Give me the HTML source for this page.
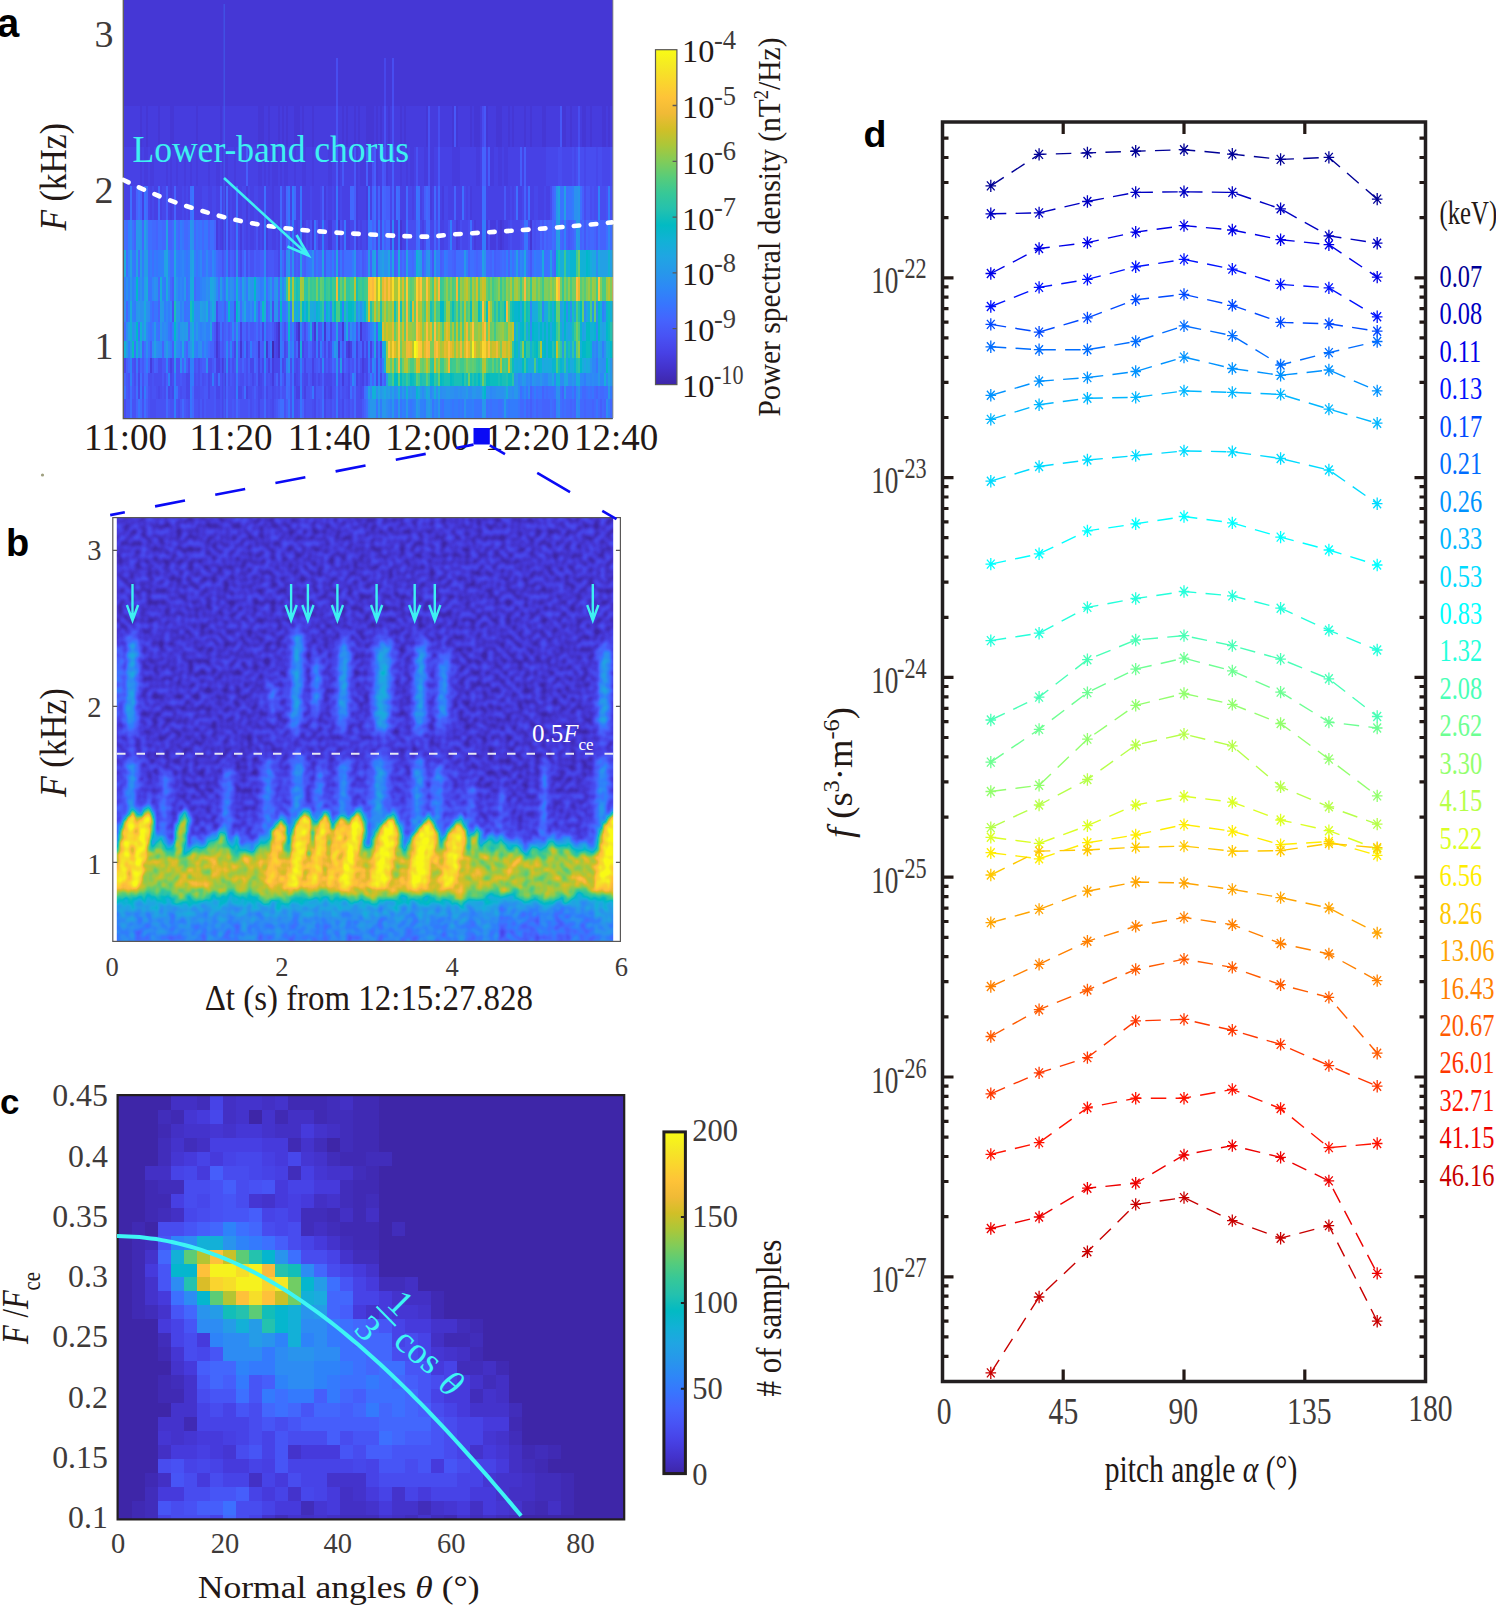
<!DOCTYPE html>
<html><head><meta charset="utf-8"><style>
html,body{margin:0;padding:0;background:#fff;}
body{width:1496px;height:1605px;overflow:hidden;position:relative;}
svg{position:absolute;left:0;top:0;}
</style></head><body>
<svg width="1496" height="1605" viewBox="0 0 1496 1605">
<defs><g id="ast"><path d="M0,-6.2V6.2M-5.3,0H5.3M-3.9,-4.5L3.9,4.5M-3.9,4.5L3.9,-4.5"/></g></defs>
<polyline points="990.8,185.9 1039.1,154.4 1087.4,152.9 1135.7,151.2 1184.0,149.7 1232.3,154.1 1280.6,159.4 1328.9,157.4 1377.2,199.1" fill="none" stroke="#000096" stroke-width="1.4" stroke-dasharray="15.5 9.3"/>
<g stroke="#000096" stroke-width="1.3" fill="none"><use href="#ast" x="990.8" y="185.9"/><use href="#ast" x="1039.1" y="154.4"/><use href="#ast" x="1087.4" y="152.9"/><use href="#ast" x="1135.7" y="151.2"/><use href="#ast" x="1184.0" y="149.7"/><use href="#ast" x="1232.3" y="154.1"/><use href="#ast" x="1280.6" y="159.4"/><use href="#ast" x="1328.9" y="157.4"/><use href="#ast" x="1377.2" y="199.1"/></g>
<polyline points="990.8,213.8 1039.1,212.9 1087.4,201.5 1135.7,192.4 1184.0,191.8 1232.3,192.4 1280.6,208.8 1328.9,235.9 1377.2,243.2" fill="none" stroke="#0000c2" stroke-width="1.4" stroke-dasharray="15.5 9.3"/>
<g stroke="#0000c2" stroke-width="1.3" fill="none"><use href="#ast" x="990.8" y="213.8"/><use href="#ast" x="1039.1" y="212.9"/><use href="#ast" x="1087.4" y="201.5"/><use href="#ast" x="1135.7" y="192.4"/><use href="#ast" x="1184.0" y="191.8"/><use href="#ast" x="1232.3" y="192.4"/><use href="#ast" x="1280.6" y="208.8"/><use href="#ast" x="1328.9" y="235.9"/><use href="#ast" x="1377.2" y="243.2"/></g>
<polyline points="990.8,273.5 1039.1,248.5 1087.4,242.6 1135.7,232.1 1184.0,225.6 1232.3,230.0 1280.6,239.7 1328.9,244.7 1377.2,277.1" fill="none" stroke="#0000e8" stroke-width="1.4" stroke-dasharray="15.5 9.3"/>
<g stroke="#0000e8" stroke-width="1.3" fill="none"><use href="#ast" x="990.8" y="273.5"/><use href="#ast" x="1039.1" y="248.5"/><use href="#ast" x="1087.4" y="242.6"/><use href="#ast" x="1135.7" y="232.1"/><use href="#ast" x="1184.0" y="225.6"/><use href="#ast" x="1232.3" y="230.0"/><use href="#ast" x="1280.6" y="239.7"/><use href="#ast" x="1328.9" y="244.7"/><use href="#ast" x="1377.2" y="277.1"/></g>
<polyline points="990.8,306.5 1039.1,287.4 1087.4,279.4 1135.7,266.8 1184.0,259.4 1232.3,269.1 1280.6,284.4 1328.9,287.9 1377.2,316.8" fill="none" stroke="#0012ff" stroke-width="1.4" stroke-dasharray="15.5 9.3"/>
<g stroke="#0012ff" stroke-width="1.3" fill="none"><use href="#ast" x="990.8" y="306.5"/><use href="#ast" x="1039.1" y="287.4"/><use href="#ast" x="1087.4" y="279.4"/><use href="#ast" x="1135.7" y="266.8"/><use href="#ast" x="1184.0" y="259.4"/><use href="#ast" x="1232.3" y="269.1"/><use href="#ast" x="1280.6" y="284.4"/><use href="#ast" x="1328.9" y="287.9"/><use href="#ast" x="1377.2" y="316.8"/></g>
<polyline points="990.8,324.4 1039.1,332.1 1087.4,317.9 1135.7,299.7 1184.0,294.4 1232.3,305.3 1280.6,322.4 1328.9,323.8 1377.2,331.2" fill="none" stroke="#0049ff" stroke-width="1.4" stroke-dasharray="15.5 9.3"/>
<g stroke="#0049ff" stroke-width="1.3" fill="none"><use href="#ast" x="990.8" y="324.4"/><use href="#ast" x="1039.1" y="332.1"/><use href="#ast" x="1087.4" y="317.9"/><use href="#ast" x="1135.7" y="299.7"/><use href="#ast" x="1184.0" y="294.4"/><use href="#ast" x="1232.3" y="305.3"/><use href="#ast" x="1280.6" y="322.4"/><use href="#ast" x="1328.9" y="323.8"/><use href="#ast" x="1377.2" y="331.2"/></g>
<polyline points="990.8,346.8 1039.1,349.7 1087.4,349.7 1135.7,341.5 1184.0,325.9 1232.3,335.6 1280.6,365.0 1328.9,352.6 1377.2,341.5" fill="none" stroke="#006dff" stroke-width="1.4" stroke-dasharray="15.5 9.3"/>
<g stroke="#006dff" stroke-width="1.3" fill="none"><use href="#ast" x="990.8" y="346.8"/><use href="#ast" x="1039.1" y="349.7"/><use href="#ast" x="1087.4" y="349.7"/><use href="#ast" x="1135.7" y="341.5"/><use href="#ast" x="1184.0" y="325.9"/><use href="#ast" x="1232.3" y="335.6"/><use href="#ast" x="1280.6" y="365.0"/><use href="#ast" x="1328.9" y="352.6"/><use href="#ast" x="1377.2" y="341.5"/></g>
<polyline points="990.8,395.3 1039.1,381.2 1087.4,377.6 1135.7,371.5 1184.0,357.1 1232.3,368.5 1280.6,375.3 1328.9,370.0 1377.2,390.9" fill="none" stroke="#0092ff" stroke-width="1.4" stroke-dasharray="15.5 9.3"/>
<g stroke="#0092ff" stroke-width="1.3" fill="none"><use href="#ast" x="990.8" y="395.3"/><use href="#ast" x="1039.1" y="381.2"/><use href="#ast" x="1087.4" y="377.6"/><use href="#ast" x="1135.7" y="371.5"/><use href="#ast" x="1184.0" y="357.1"/><use href="#ast" x="1232.3" y="368.5"/><use href="#ast" x="1280.6" y="375.3"/><use href="#ast" x="1328.9" y="370.0"/><use href="#ast" x="1377.2" y="390.9"/></g>
<polyline points="990.8,419.4 1039.1,404.7 1087.4,398.2 1135.7,397.4 1184.0,390.9 1232.3,392.4 1280.6,394.4 1328.9,409.1 1377.2,423.2" fill="none" stroke="#00b6ff" stroke-width="1.4" stroke-dasharray="15.5 9.3"/>
<g stroke="#00b6ff" stroke-width="1.3" fill="none"><use href="#ast" x="990.8" y="419.4"/><use href="#ast" x="1039.1" y="404.7"/><use href="#ast" x="1087.4" y="398.2"/><use href="#ast" x="1135.7" y="397.4"/><use href="#ast" x="1184.0" y="390.9"/><use href="#ast" x="1232.3" y="392.4"/><use href="#ast" x="1280.6" y="394.4"/><use href="#ast" x="1328.9" y="409.1"/><use href="#ast" x="1377.2" y="423.2"/></g>
<polyline points="990.8,481.2 1039.1,466.5 1087.4,460.0 1135.7,455.6 1184.0,450.9 1232.3,451.8 1280.6,458.5 1328.9,470.0 1377.2,503.7" fill="none" stroke="#00dbff" stroke-width="1.4" stroke-dasharray="15.5 9.3"/>
<g stroke="#00dbff" stroke-width="1.3" fill="none"><use href="#ast" x="990.8" y="481.2"/><use href="#ast" x="1039.1" y="466.5"/><use href="#ast" x="1087.4" y="460.0"/><use href="#ast" x="1135.7" y="455.6"/><use href="#ast" x="1184.0" y="450.9"/><use href="#ast" x="1232.3" y="451.8"/><use href="#ast" x="1280.6" y="458.5"/><use href="#ast" x="1328.9" y="470.0"/><use href="#ast" x="1377.2" y="503.7"/></g>
<polyline points="990.8,564.1 1039.1,553.8 1087.4,530.9 1135.7,523.8 1184.0,516.5 1232.3,522.9 1280.6,537.1 1328.9,550.0 1377.2,565.0" fill="none" stroke="#00ffff" stroke-width="1.4" stroke-dasharray="15.5 9.3"/>
<g stroke="#00ffff" stroke-width="1.3" fill="none"><use href="#ast" x="990.8" y="564.1"/><use href="#ast" x="1039.1" y="553.8"/><use href="#ast" x="1087.4" y="530.9"/><use href="#ast" x="1135.7" y="523.8"/><use href="#ast" x="1184.0" y="516.5"/><use href="#ast" x="1232.3" y="522.9"/><use href="#ast" x="1280.6" y="537.1"/><use href="#ast" x="1328.9" y="550.0"/><use href="#ast" x="1377.2" y="565.0"/></g>
<polyline points="990.8,640.6 1039.1,633.2 1087.4,607.4 1135.7,598.5 1184.0,591.5 1232.3,595.9 1280.6,608.2 1328.9,630.3 1377.2,650.0" fill="none" stroke="#24ffdb" stroke-width="1.4" stroke-dasharray="15.5 9.3"/>
<g stroke="#24ffdb" stroke-width="1.3" fill="none"><use href="#ast" x="990.8" y="640.6"/><use href="#ast" x="1039.1" y="633.2"/><use href="#ast" x="1087.4" y="607.4"/><use href="#ast" x="1135.7" y="598.5"/><use href="#ast" x="1184.0" y="591.5"/><use href="#ast" x="1232.3" y="595.9"/><use href="#ast" x="1280.6" y="608.2"/><use href="#ast" x="1328.9" y="630.3"/><use href="#ast" x="1377.2" y="650.0"/></g>
<polyline points="990.8,720.0 1039.1,697.1 1087.4,659.7 1135.7,640.0 1184.0,635.6 1232.3,645.6 1280.6,659.1 1328.9,678.8 1377.2,716.5" fill="none" stroke="#49ffb6" stroke-width="1.4" stroke-dasharray="15.5 9.3"/>
<g stroke="#49ffb6" stroke-width="1.3" fill="none"><use href="#ast" x="990.8" y="720.0"/><use href="#ast" x="1039.1" y="697.1"/><use href="#ast" x="1087.4" y="659.7"/><use href="#ast" x="1135.7" y="640.0"/><use href="#ast" x="1184.0" y="635.6"/><use href="#ast" x="1232.3" y="645.6"/><use href="#ast" x="1280.6" y="659.1"/><use href="#ast" x="1328.9" y="678.8"/><use href="#ast" x="1377.2" y="716.5"/></g>
<polyline points="990.8,762.1 1039.1,729.4 1087.4,692.6 1135.7,669.1 1184.0,658.2 1232.3,670.9 1280.6,692.1 1328.9,722.1 1377.2,728.0" fill="none" stroke="#6dff92" stroke-width="1.4" stroke-dasharray="15.5 9.3"/>
<g stroke="#6dff92" stroke-width="1.3" fill="none"><use href="#ast" x="990.8" y="762.1"/><use href="#ast" x="1039.1" y="729.4"/><use href="#ast" x="1087.4" y="692.6"/><use href="#ast" x="1135.7" y="669.1"/><use href="#ast" x="1184.0" y="658.2"/><use href="#ast" x="1232.3" y="670.9"/><use href="#ast" x="1280.6" y="692.1"/><use href="#ast" x="1328.9" y="722.1"/><use href="#ast" x="1377.2" y="728.0"/></g>
<polyline points="990.8,791.5 1039.1,785.3 1087.4,739.1 1135.7,705.3 1184.0,693.5 1232.3,704.4 1280.6,723.5 1328.9,759.1 1377.2,795.9" fill="none" stroke="#92ff6d" stroke-width="1.4" stroke-dasharray="15.5 9.3"/>
<g stroke="#92ff6d" stroke-width="1.3" fill="none"><use href="#ast" x="990.8" y="791.5"/><use href="#ast" x="1039.1" y="785.3"/><use href="#ast" x="1087.4" y="739.1"/><use href="#ast" x="1135.7" y="705.3"/><use href="#ast" x="1184.0" y="693.5"/><use href="#ast" x="1232.3" y="704.4"/><use href="#ast" x="1280.6" y="723.5"/><use href="#ast" x="1328.9" y="759.1"/><use href="#ast" x="1377.2" y="795.9"/></g>
<polyline points="990.8,827.6 1039.1,805.0 1087.4,779.5 1135.7,745.0 1184.0,734.1 1232.3,745.9 1280.6,786.8 1328.9,806.8 1377.2,824.1" fill="none" stroke="#b6ff49" stroke-width="1.4" stroke-dasharray="15.5 9.3"/>
<g stroke="#b6ff49" stroke-width="1.3" fill="none"><use href="#ast" x="990.8" y="827.6"/><use href="#ast" x="1039.1" y="805.0"/><use href="#ast" x="1087.4" y="779.5"/><use href="#ast" x="1135.7" y="745.0"/><use href="#ast" x="1184.0" y="734.1"/><use href="#ast" x="1232.3" y="745.9"/><use href="#ast" x="1280.6" y="786.8"/><use href="#ast" x="1328.9" y="806.8"/><use href="#ast" x="1377.2" y="824.1"/></g>
<polyline points="990.8,837.3 1039.1,843.4 1087.4,825.7 1135.7,805.0 1184.0,796.2 1232.3,802.2 1280.6,820.0 1328.9,830.7 1377.2,849.0" fill="none" stroke="#dbff24" stroke-width="1.4" stroke-dasharray="15.5 9.3"/>
<g stroke="#dbff24" stroke-width="1.3" fill="none"><use href="#ast" x="990.8" y="837.3"/><use href="#ast" x="1039.1" y="843.4"/><use href="#ast" x="1087.4" y="825.7"/><use href="#ast" x="1135.7" y="805.0"/><use href="#ast" x="1184.0" y="796.2"/><use href="#ast" x="1232.3" y="802.2"/><use href="#ast" x="1280.6" y="820.0"/><use href="#ast" x="1328.9" y="830.7"/><use href="#ast" x="1377.2" y="849.0"/></g>
<polyline points="990.8,852.7 1039.1,858.8 1087.4,842.7 1135.7,835.0 1184.0,824.6 1232.3,831.2 1280.6,844.6 1328.9,841.5 1377.2,855.3" fill="none" stroke="#ffed00" stroke-width="1.4" stroke-dasharray="15.5 9.3"/>
<g stroke="#ffed00" stroke-width="1.3" fill="none"><use href="#ast" x="990.8" y="852.7"/><use href="#ast" x="1039.1" y="858.8"/><use href="#ast" x="1087.4" y="842.7"/><use href="#ast" x="1135.7" y="835.0"/><use href="#ast" x="1184.0" y="824.6"/><use href="#ast" x="1232.3" y="831.2"/><use href="#ast" x="1280.6" y="844.6"/><use href="#ast" x="1328.9" y="841.5"/><use href="#ast" x="1377.2" y="855.3"/></g>
<polyline points="990.8,875.0 1039.1,851.1 1087.4,850.0 1135.7,847.3 1184.0,846.1 1232.3,851.2 1280.6,850.7 1328.9,843.5 1377.2,847.7" fill="none" stroke="#ffc800" stroke-width="1.4" stroke-dasharray="15.5 9.3"/>
<g stroke="#ffc800" stroke-width="1.3" fill="none"><use href="#ast" x="990.8" y="875.0"/><use href="#ast" x="1039.1" y="851.1"/><use href="#ast" x="1087.4" y="850.0"/><use href="#ast" x="1135.7" y="847.3"/><use href="#ast" x="1184.0" y="846.1"/><use href="#ast" x="1232.3" y="851.2"/><use href="#ast" x="1280.6" y="850.7"/><use href="#ast" x="1328.9" y="843.5"/><use href="#ast" x="1377.2" y="847.7"/></g>
<polyline points="990.8,922.6 1039.1,909.4 1087.4,891.2 1135.7,882.0 1184.0,883.0 1232.3,889.4 1280.6,897.6 1328.9,908.0 1377.2,933.0" fill="none" stroke="#ffa400" stroke-width="1.4" stroke-dasharray="15.5 9.3"/>
<g stroke="#ffa400" stroke-width="1.3" fill="none"><use href="#ast" x="990.8" y="922.6"/><use href="#ast" x="1039.1" y="909.4"/><use href="#ast" x="1087.4" y="891.2"/><use href="#ast" x="1135.7" y="882.0"/><use href="#ast" x="1184.0" y="883.0"/><use href="#ast" x="1232.3" y="889.4"/><use href="#ast" x="1280.6" y="897.6"/><use href="#ast" x="1328.9" y="908.0"/><use href="#ast" x="1377.2" y="933.0"/></g>
<polyline points="990.8,986.5 1039.1,964.4 1087.4,941.3 1135.7,926.2 1184.0,917.4 1232.3,924.7 1280.6,943.5 1328.9,954.0 1377.2,980.6" fill="none" stroke="#ff8000" stroke-width="1.4" stroke-dasharray="15.5 9.3"/>
<g stroke="#ff8000" stroke-width="1.3" fill="none"><use href="#ast" x="990.8" y="986.5"/><use href="#ast" x="1039.1" y="964.4"/><use href="#ast" x="1087.4" y="941.3"/><use href="#ast" x="1135.7" y="926.2"/><use href="#ast" x="1184.0" y="917.4"/><use href="#ast" x="1232.3" y="924.7"/><use href="#ast" x="1280.6" y="943.5"/><use href="#ast" x="1328.9" y="954.0"/><use href="#ast" x="1377.2" y="980.6"/></g>
<polyline points="990.8,1036.5 1039.1,1009.7 1087.4,990.0 1135.7,969.4 1184.0,959.1 1232.3,967.4 1280.6,984.7 1328.9,997.4 1377.2,1053.2" fill="none" stroke="#ff5b00" stroke-width="1.4" stroke-dasharray="15.5 9.3"/>
<g stroke="#ff5b00" stroke-width="1.3" fill="none"><use href="#ast" x="990.8" y="1036.5"/><use href="#ast" x="1039.1" y="1009.7"/><use href="#ast" x="1087.4" y="990.0"/><use href="#ast" x="1135.7" y="969.4"/><use href="#ast" x="1184.0" y="959.1"/><use href="#ast" x="1232.3" y="967.4"/><use href="#ast" x="1280.6" y="984.7"/><use href="#ast" x="1328.9" y="997.4"/><use href="#ast" x="1377.2" y="1053.2"/></g>
<polyline points="990.8,1093.8 1039.1,1072.9 1087.4,1057.6 1135.7,1020.9 1184.0,1019.4 1232.3,1030.3 1280.6,1044.4 1328.9,1065.6 1377.2,1086.2" fill="none" stroke="#ff3700" stroke-width="1.4" stroke-dasharray="15.5 9.3"/>
<g stroke="#ff3700" stroke-width="1.3" fill="none"><use href="#ast" x="990.8" y="1093.8"/><use href="#ast" x="1039.1" y="1072.9"/><use href="#ast" x="1087.4" y="1057.6"/><use href="#ast" x="1135.7" y="1020.9"/><use href="#ast" x="1184.0" y="1019.4"/><use href="#ast" x="1232.3" y="1030.3"/><use href="#ast" x="1280.6" y="1044.4"/><use href="#ast" x="1328.9" y="1065.6"/><use href="#ast" x="1377.2" y="1086.2"/></g>
<polyline points="990.8,1154.4 1039.1,1142.6 1087.4,1107.8 1135.7,1098.2 1184.0,1098.2 1232.3,1089.4 1280.6,1108.5 1328.9,1147.6 1377.2,1143.5" fill="none" stroke="#ff1200" stroke-width="1.4" stroke-dasharray="15.5 9.3"/>
<g stroke="#ff1200" stroke-width="1.3" fill="none"><use href="#ast" x="990.8" y="1154.4"/><use href="#ast" x="1039.1" y="1142.6"/><use href="#ast" x="1087.4" y="1107.8"/><use href="#ast" x="1135.7" y="1098.2"/><use href="#ast" x="1184.0" y="1098.2"/><use href="#ast" x="1232.3" y="1089.4"/><use href="#ast" x="1280.6" y="1108.5"/><use href="#ast" x="1328.9" y="1147.6"/><use href="#ast" x="1377.2" y="1143.5"/></g>
<polyline points="990.8,1228.5 1039.1,1217.0 1087.4,1188.2 1135.7,1183.2 1184.0,1155.0 1232.3,1145.6 1280.6,1157.4 1328.9,1180.9 1377.2,1273.4" fill="none" stroke="#ed0000" stroke-width="1.4" stroke-dasharray="15.5 9.3"/>
<g stroke="#ed0000" stroke-width="1.3" fill="none"><use href="#ast" x="990.8" y="1228.5"/><use href="#ast" x="1039.1" y="1217.0"/><use href="#ast" x="1087.4" y="1188.2"/><use href="#ast" x="1135.7" y="1183.2"/><use href="#ast" x="1184.0" y="1155.0"/><use href="#ast" x="1232.3" y="1145.6"/><use href="#ast" x="1280.6" y="1157.4"/><use href="#ast" x="1328.9" y="1180.9"/><use href="#ast" x="1377.2" y="1273.4"/></g>
<polyline points="990.8,1372.9 1039.1,1297.0 1087.4,1251.7 1135.7,1204.4 1184.0,1197.6 1232.3,1220.6 1280.6,1238.2 1328.9,1225.6 1377.2,1321.2" fill="none" stroke="#c80000" stroke-width="1.4" stroke-dasharray="15.5 9.3"/>
<g stroke="#c80000" stroke-width="1.3" fill="none"><use href="#ast" x="990.8" y="1372.9"/><use href="#ast" x="1039.1" y="1297.0"/><use href="#ast" x="1087.4" y="1251.7"/><use href="#ast" x="1135.7" y="1204.4"/><use href="#ast" x="1184.0" y="1197.6"/><use href="#ast" x="1232.3" y="1220.6"/><use href="#ast" x="1280.6" y="1238.2"/><use href="#ast" x="1328.9" y="1225.6"/><use href="#ast" x="1377.2" y="1321.2"/></g>
<path d="M942.5,277.8h11M1425.5,277.8h-11M942.5,217.7h6M1425.5,217.7h-6M942.5,182.5h6M1425.5,182.5h-6M942.5,157.5h6M1425.5,157.5h-6M942.5,138.1h6M1425.5,138.1h-6M942.5,477.6h11M1425.5,477.6h-11M942.5,417.5h6M1425.5,417.5h-6M942.5,382.3h6M1425.5,382.3h-6M942.5,357.3h6M1425.5,357.3h-6M942.5,337.9h6M1425.5,337.9h-6M942.5,322.1h6M1425.5,322.1h-6M942.5,308.7h6M1425.5,308.7h-6M942.5,297.2h6M1425.5,297.2h-6M942.5,286.9h6M1425.5,286.9h-6M942.5,677.4h11M1425.5,677.4h-11M942.5,617.3h6M1425.5,617.3h-6M942.5,582.1h6M1425.5,582.1h-6M942.5,557.1h6M1425.5,557.1h-6M942.5,537.7h6M1425.5,537.7h-6M942.5,521.9h6M1425.5,521.9h-6M942.5,508.5h6M1425.5,508.5h-6M942.5,497.0h6M1425.5,497.0h-6M942.5,486.7h6M1425.5,486.7h-6M942.5,877.2h11M1425.5,877.2h-11M942.5,817.1h6M1425.5,817.1h-6M942.5,781.9h6M1425.5,781.9h-6M942.5,756.9h6M1425.5,756.9h-6M942.5,737.5h6M1425.5,737.5h-6M942.5,721.7h6M1425.5,721.7h-6M942.5,708.3h6M1425.5,708.3h-6M942.5,696.8h6M1425.5,696.8h-6M942.5,686.5h6M1425.5,686.5h-6M942.5,1077.0h11M1425.5,1077.0h-11M942.5,1016.9h6M1425.5,1016.9h-6M942.5,981.7h6M1425.5,981.7h-6M942.5,956.7h6M1425.5,956.7h-6M942.5,937.3h6M1425.5,937.3h-6M942.5,921.5h6M1425.5,921.5h-6M942.5,908.1h6M1425.5,908.1h-6M942.5,896.6h6M1425.5,896.6h-6M942.5,886.3h6M1425.5,886.3h-6M942.5,1276.8h11M1425.5,1276.8h-11M942.5,1216.7h6M1425.5,1216.7h-6M942.5,1181.5h6M1425.5,1181.5h-6M942.5,1156.5h6M1425.5,1156.5h-6M942.5,1137.1h6M1425.5,1137.1h-6M942.5,1121.3h6M1425.5,1121.3h-6M942.5,1107.9h6M1425.5,1107.9h-6M942.5,1096.4h6M1425.5,1096.4h-6M942.5,1086.1h6M1425.5,1086.1h-6M942.5,1356.3h6M1425.5,1356.3h-6M942.5,1336.9h6M1425.5,1336.9h-6M942.5,1321.1h6M1425.5,1321.1h-6M942.5,1307.7h6M1425.5,1307.7h-6M942.5,1296.2h6M1425.5,1296.2h-6M942.5,1285.9h6M1425.5,1285.9h-6M1063.2,122.0v12M1063.2,1381.5v-12M1184.0,122.0v12M1184.0,1381.5v-12M1304.8,122.0v12M1304.8,1381.5v-12" stroke="#231815" stroke-width="3.2" fill="none"/>
<rect x="942.5" y="122.0" width="483.0" height="1259.5" fill="none" stroke="#231f20" stroke-width="3.5"/>
<text transform="translate(898.5,293.3) scale(0.74,1)" font-family="Liberation Serif" font-size="37" fill="#3e3a39" text-anchor="end">10</text>
<text transform="translate(897,278.3) scale(0.74,1)" font-family="Liberation Serif" font-size="30" fill="#3e3a39">-22</text>
<text transform="translate(898.5,493.1) scale(0.74,1)" font-family="Liberation Serif" font-size="37" fill="#3e3a39" text-anchor="end">10</text>
<text transform="translate(897,478.1) scale(0.74,1)" font-family="Liberation Serif" font-size="30" fill="#3e3a39">-23</text>
<text transform="translate(898.5,692.9) scale(0.74,1)" font-family="Liberation Serif" font-size="37" fill="#3e3a39" text-anchor="end">10</text>
<text transform="translate(897,677.9) scale(0.74,1)" font-family="Liberation Serif" font-size="30" fill="#3e3a39">-24</text>
<text transform="translate(898.5,892.7) scale(0.74,1)" font-family="Liberation Serif" font-size="37" fill="#3e3a39" text-anchor="end">10</text>
<text transform="translate(897,877.7) scale(0.74,1)" font-family="Liberation Serif" font-size="30" fill="#3e3a39">-25</text>
<text transform="translate(898.5,1092.5) scale(0.74,1)" font-family="Liberation Serif" font-size="37" fill="#3e3a39" text-anchor="end">10</text>
<text transform="translate(897,1077.5) scale(0.74,1)" font-family="Liberation Serif" font-size="30" fill="#3e3a39">-26</text>
<text transform="translate(898.5,1292.3) scale(0.74,1)" font-family="Liberation Serif" font-size="37" fill="#3e3a39" text-anchor="end">10</text>
<text transform="translate(897,1277.3) scale(0.74,1)" font-family="Liberation Serif" font-size="30" fill="#3e3a39">-27</text>
<text transform="translate(944.2,1424) scale(0.78,1)" font-family="Liberation Serif" font-size="38" fill="#3e3a39" text-anchor="middle">0</text>
<text transform="translate(1063.4,1424) scale(0.78,1)" font-family="Liberation Serif" font-size="38" fill="#3e3a39" text-anchor="middle">45</text>
<text transform="translate(1183.2,1424) scale(0.78,1)" font-family="Liberation Serif" font-size="38" fill="#3e3a39" text-anchor="middle">90</text>
<text transform="translate(1309.3,1423.7) scale(0.78,1)" font-family="Liberation Serif" font-size="38" fill="#3e3a39" text-anchor="middle">135</text>
<text transform="translate(1430.4,1421) scale(0.78,1)" font-family="Liberation Serif" font-size="38" fill="#3e3a39" text-anchor="middle">180</text>
<text transform="translate(1201,1482.3) scale(0.8,1)" font-family="Liberation Serif" font-size="37" fill="#231815" text-anchor="middle">pitch angle <tspan font-style="italic">α</tspan> (°)</text>
<text transform="translate(852,772.6) rotate(-90)" font-family="Liberation Serif" font-size="36" fill="#231815" text-anchor="middle" textLength="131" lengthAdjust="spacingAndGlyphs"><tspan font-style="italic">f</tspan> (s<tspan font-size="24" dy="-13">3</tspan><tspan dy="13">·m</tspan><tspan font-size="24" dy="-13">-6</tspan><tspan dy="13">)</tspan></text>
<text transform="translate(1439.5,224.4) scale(0.75,1)" font-family="Liberation Serif" font-size="33" fill="#231815">(keV)</text>
<text transform="translate(1439.5,286.9) scale(0.75,1)" font-family="Liberation Serif" font-size="32.5" fill="#000096">0.07</text>
<text transform="translate(1439.5,324.3) scale(0.75,1)" font-family="Liberation Serif" font-size="32.5" fill="#0000c2">0.08</text>
<text transform="translate(1439.5,361.8) scale(0.75,1)" font-family="Liberation Serif" font-size="32.5" fill="#0000e8">0.11</text>
<text transform="translate(1439.5,399.2) scale(0.75,1)" font-family="Liberation Serif" font-size="32.5" fill="#0012ff">0.13</text>
<text transform="translate(1439.5,436.7) scale(0.75,1)" font-family="Liberation Serif" font-size="32.5" fill="#0049ff">0.17</text>
<text transform="translate(1439.5,474.1) scale(0.75,1)" font-family="Liberation Serif" font-size="32.5" fill="#006dff">0.21</text>
<text transform="translate(1439.5,511.6) scale(0.75,1)" font-family="Liberation Serif" font-size="32.5" fill="#0092ff">0.26</text>
<text transform="translate(1439.5,549.0) scale(0.75,1)" font-family="Liberation Serif" font-size="32.5" fill="#00b6ff">0.33</text>
<text transform="translate(1439.5,586.5) scale(0.75,1)" font-family="Liberation Serif" font-size="32.5" fill="#00dbff">0.53</text>
<text transform="translate(1439.5,624.0) scale(0.75,1)" font-family="Liberation Serif" font-size="32.5" fill="#00ffff">0.83</text>
<text transform="translate(1439.5,661.4) scale(0.75,1)" font-family="Liberation Serif" font-size="32.5" fill="#24ffdb">1.32</text>
<text transform="translate(1439.5,698.9) scale(0.75,1)" font-family="Liberation Serif" font-size="32.5" fill="#49ffb6">2.08</text>
<text transform="translate(1439.5,736.3) scale(0.75,1)" font-family="Liberation Serif" font-size="32.5" fill="#6dff92">2.62</text>
<text transform="translate(1439.5,773.8) scale(0.75,1)" font-family="Liberation Serif" font-size="32.5" fill="#92ff6d">3.30</text>
<text transform="translate(1439.5,811.2) scale(0.75,1)" font-family="Liberation Serif" font-size="32.5" fill="#b6ff49">4.15</text>
<text transform="translate(1439.5,848.6) scale(0.75,1)" font-family="Liberation Serif" font-size="32.5" fill="#dbff24">5.22</text>
<text transform="translate(1439.5,886.1) scale(0.75,1)" font-family="Liberation Serif" font-size="32.5" fill="#ffed00">6.56</text>
<text transform="translate(1439.5,923.6) scale(0.75,1)" font-family="Liberation Serif" font-size="32.5" fill="#ffc800">8.26</text>
<text transform="translate(1439.5,961.0) scale(0.75,1)" font-family="Liberation Serif" font-size="32.5" fill="#ffa400">13.06</text>
<text transform="translate(1439.5,998.5) scale(0.75,1)" font-family="Liberation Serif" font-size="32.5" fill="#ff8000">16.43</text>
<text transform="translate(1439.5,1035.9) scale(0.75,1)" font-family="Liberation Serif" font-size="32.5" fill="#ff5b00">20.67</text>
<text transform="translate(1439.5,1073.3) scale(0.75,1)" font-family="Liberation Serif" font-size="32.5" fill="#ff3700">26.01</text>
<text transform="translate(1439.5,1110.8) scale(0.75,1)" font-family="Liberation Serif" font-size="32.5" fill="#ff1200">32.71</text>
<text transform="translate(1439.5,1148.2) scale(0.75,1)" font-family="Liberation Serif" font-size="32.5" fill="#ed0000">41.15</text>
<text transform="translate(1439.5,1185.7) scale(0.75,1)" font-family="Liberation Serif" font-size="32.5" fill="#c80000">46.16</text>
<text x="863.5" y="146.8" font-family="Liberation Sans" font-weight="bold" font-size="37.5" fill="#000">d</text>
<defs><linearGradient id="parg" x1="0" y1="1" x2="0" y2="0"><stop offset="0.0000" stop-color="#3e26a8"/><stop offset="0.0476" stop-color="#4332cb"/><stop offset="0.0952" stop-color="#4741e5"/><stop offset="0.1429" stop-color="#4852f4"/><stop offset="0.1905" stop-color="#4563fd"/><stop offset="0.2381" stop-color="#3875fe"/><stop offset="0.2857" stop-color="#2e87f7"/><stop offset="0.3333" stop-color="#2797eb"/><stop offset="0.3810" stop-color="#20a5e3"/><stop offset="0.4286" stop-color="#12b1d6"/><stop offset="0.4762" stop-color="#02bac3"/><stop offset="0.5238" stop-color="#24c1ae"/><stop offset="0.5714" stop-color="#37c897"/><stop offset="0.6190" stop-color="#57cc7a"/><stop offset="0.6667" stop-color="#81cc59"/><stop offset="0.7143" stop-color="#abc739"/><stop offset="0.7619" stop-color="#d1bf27"/><stop offset="0.8095" stop-color="#f0ba36"/><stop offset="0.8571" stop-color="#fec338"/><stop offset="0.9048" stop-color="#fad62d"/><stop offset="0.9524" stop-color="#f5e924"/><stop offset="1.0000" stop-color="#f9fb15"/><stop offset="1" stop-color="#f9fb15"/></linearGradient></defs>
<g shape-rendering="crispEdges"><path fill="#4537d5" d="M124 0h489v58h-489zM124 58h212v48h-212zM338 58h46v48h-46zM386 58h6v48h-6zM394 58h219v48h-219zM140 106h2v41h-2zM146 106h2v41h-2zM158 106h2v41h-2zM170 106h4v41h-4zM196 106h2v41h-2zM220 106h2v41h-2zM258 106h6v41h-6zM268 106h2v41h-2zM278 106h2v41h-2zM282 106h2v41h-2zM286 106h2v41h-2zM294 106h6v41h-6zM302 106h2v41h-2zM312 106h2v41h-2zM342 106h2v41h-2zM346 106h2v41h-2zM354 106h2v41h-2zM358 106h2v41h-2zM366 106h8v41h-8zM376 106h2v41h-2zM380 106h2v41h-2zM388 106h2v41h-2zM400 106h2v41h-2zM404 106h2v41h-2zM426 106h2v41h-2zM452 106h2v41h-2zM456 106h2v41h-2zM470 106h2v41h-2zM474 106h6v41h-6zM486 106h2v41h-2zM496 106h6v41h-6zM508 106h2v41h-2zM512 106h2v41h-2zM524 106h2v41h-2zM530 106h2v41h-2zM542 106h4v41h-4zM562 106h4v41h-4zM570 106h2v41h-2zM582 106h4v41h-4zM590 106h2v41h-2zM602 106h4v41h-4zM608 106h2v41h-2zM338 220h2v30h-2zM400 220h2v30h-2zM500 220h2v30h-2zM530 220h2v30h-2zM314 322h2v19h-2zM324 322h2v19h-2zM342 322h2v19h-2zM360 322h2v19h-2zM216 341h2v17h-2zM240 341h2v17h-2zM258 341h2v17h-2zM266 341h2v17h-2zM298 341h2v17h-2zM348 341h2v17h-2z"/><path fill="#484df0" d="M336 58h2v48h-2zM392 58h2v48h-2zM438 106h2v41h-2zM482 106h2v41h-2zM578 106h2v41h-2zM558 147h4v39h-4zM572 147h2v39h-2zM576 147h2v39h-2zM580 147h4v39h-4zM586 147h10v39h-10zM598 147h4v39h-4zM610 147h3v39h-3zM550 186h2v34h-2zM584 186h2v34h-2zM590 186h2v34h-2zM594 186h4v34h-4zM600 186h6v34h-6zM232 220h2v30h-2zM242 220h2v30h-2zM290 220h2v30h-2zM306 220h2v30h-2zM332 220h4v30h-4zM408 220h8v30h-8zM424 220h2v30h-2zM436 220h2v30h-2zM452 220h4v30h-4zM460 220h2v30h-2zM468 220h2v30h-2zM488 220h2v30h-2zM510 220h2v30h-2zM520 220h2v30h-2zM528 220h2v30h-2zM534 220h2v30h-2zM246 250h2v27h-2zM216 301h2v21h-2zM272 301h2v21h-2zM218 322h2v19h-2zM274 322h2v19h-2zM304 322h2v19h-2zM312 322h2v19h-2zM312 341h2v17h-2zM330 341h2v17h-2zM376 341h2v17h-2zM134 358h2v15h-2zM138 358h2v15h-2zM158 358h4v15h-4zM172 358h2v15h-2zM188 358h2v15h-2zM198 358h2v15h-2zM208 358h4v15h-4zM224 358h2v15h-2zM228 358h2v15h-2zM232 358h2v15h-2zM246 358h2v15h-2zM284 358h2v15h-2zM290 358h2v15h-2zM294 358h2v15h-2zM298 358h2v15h-2zM320 358h2v15h-2zM324 358h2v15h-2zM328 358h2v15h-2zM342 358h2v15h-2zM348 358h2v15h-2zM360 358h2v15h-2zM370 358h2v15h-2zM134 373h2v13h-2zM148 373h4v13h-4zM154 373h8v13h-8zM164 373h2v13h-2zM172 373h2v13h-2zM194 373h2v13h-2zM198 373h2v13h-2zM202 373h2v13h-2zM210 373h2v13h-2zM228 373h2v13h-2zM234 373h2v13h-2zM240 373h4v13h-4zM246 373h2v13h-2zM262 373h2v13h-2zM266 373h2v13h-2zM270 373h2v13h-2zM298 373h2v13h-2zM302 373h2v13h-2zM320 373h2v13h-2zM334 373h2v13h-2zM338 373h2v13h-2zM358 373h2v13h-2zM142 386h2v13h-2zM150 386h2v13h-2zM156 386h2v13h-2zM160 386h2v13h-2zM164 386h2v13h-2zM170 386h2v13h-2zM180 386h2v13h-2zM194 386h6v13h-6zM234 386h2v13h-2zM248 386h4v13h-4zM262 386h2v13h-2zM274 386h2v13h-2zM278 386h2v13h-2zM294 386h2v13h-2zM302 386h2v13h-2zM326 386h2v13h-2zM338 386h2v13h-2zM342 386h2v13h-2zM346 386h2v13h-2zM356 386h4v13h-4zM362 386h2v13h-2zM124 399h2v20h-2zM150 399h6v20h-6zM178 399h2v20h-2zM188 399h2v20h-2zM198 399h2v20h-2zM202 399h2v20h-2zM216 399h4v20h-4zM224 399h2v20h-2zM250 399h2v20h-2zM266 399h2v20h-2zM270 399h2v20h-2zM294 399h4v20h-4zM304 399h2v20h-2zM312 399h2v20h-2zM330 399h2v20h-2zM338 399h2v20h-2zM348 399h2v20h-2zM356 399h6v20h-6z"/><path fill="#4747eb" d="M384 58h2v48h-2zM546 147h12v39h-12zM562 147h10v39h-10zM574 147h2v39h-2zM584 147h2v39h-2zM596 147h2v39h-2zM602 147h8v39h-8zM132 186h4v34h-4zM148 186h2v34h-2zM152 186h2v34h-2zM162 186h4v34h-4zM182 186h2v34h-2zM186 186h2v34h-2zM202 186h6v34h-6zM212 186h4v34h-4zM230 186h2v34h-2zM242 186h4v34h-4zM248 186h2v34h-2zM254 186h4v34h-4zM282 186h2v34h-2zM310 186h2v34h-2zM320 186h2v34h-2zM326 186h2v34h-2zM332 186h2v34h-2zM340 186h2v34h-2zM376 186h2v34h-2zM390 186h2v34h-2zM408 186h4v34h-4zM414 186h2v34h-2zM422 186h2v34h-2zM436 186h2v34h-2zM444 186h4v34h-4zM464 186h2v34h-2zM468 186h2v34h-2zM510 186h2v34h-2zM514 186h2v34h-2zM522 186h2v34h-2zM526 186h2v34h-2zM534 186h4v34h-4zM544 186h2v34h-2zM218 220h2v30h-2zM234 220h2v30h-2zM238 220h2v30h-2zM244 220h2v30h-2zM248 220h2v30h-2zM254 220h2v30h-2zM260 220h2v30h-2zM268 220h4v30h-4zM276 220h2v30h-2zM282 220h4v30h-4zM294 220h2v30h-2zM298 220h2v30h-2zM308 220h2v30h-2zM320 220h2v30h-2zM324 220h4v30h-4zM342 220h2v30h-2zM350 220h4v30h-4zM358 220h2v30h-2zM362 220h4v30h-4zM376 220h2v30h-2zM380 220h2v30h-2zM420 220h2v30h-2zM430 220h4v30h-4zM444 220h4v30h-4zM462 220h6v30h-6zM472 220h2v30h-2zM496 220h2v30h-2zM508 220h2v30h-2zM512 220h8v30h-8zM240 250h2v27h-2zM278 250h2v27h-2zM262 322h2v19h-2zM330 322h2v19h-2zM218 341h2v17h-2zM234 341h2v17h-2zM246 341h2v17h-2zM274 341h2v17h-2zM284 341h2v17h-2zM302 341h2v17h-2zM314 341h2v17h-2zM318 341h2v17h-2zM324 341h2v17h-2zM328 341h2v17h-2zM366 341h2v17h-2zM380 341h2v17h-2zM124 358h2v15h-2zM250 358h4v15h-4zM262 358h2v15h-2zM274 358h6v15h-6zM282 358h2v15h-2zM296 358h2v15h-2zM304 358h2v15h-2zM356 358h2v15h-2zM364 358h4v15h-4zM376 358h2v15h-2zM138 373h2v13h-2zM170 373h2v13h-2zM186 373h4v13h-4zM208 373h2v13h-2zM216 373h2v13h-2zM222 373h2v13h-2zM252 373h2v13h-2zM260 373h2v13h-2zM278 373h2v13h-2zM284 373h2v13h-2zM296 373h2v13h-2zM304 373h4v13h-4zM314 373h2v13h-2zM318 373h2v13h-2zM324 373h8v13h-8zM348 373h2v13h-2zM360 373h2v13h-2zM366 373h2v13h-2zM376 373h2v13h-2zM380 373h2v13h-2zM138 386h2v13h-2zM158 386h2v13h-2zM168 386h2v13h-2zM172 386h2v13h-2zM186 386h4v13h-4zM208 386h2v13h-2zM216 386h4v13h-4zM222 386h4v13h-4zM238 386h4v13h-4zM258 386h4v13h-4zM266 386h2v13h-2zM272 386h2v13h-2zM314 386h2v13h-2zM328 386h2v13h-2zM348 386h2v13h-2zM360 386h2v13h-2zM222 399h2v20h-2zM258 399h2v20h-2zM272 399h2v20h-2zM314 399h2v20h-2zM324 399h2v20h-2zM342 399h2v20h-2z"/><path fill="#463cde" d="M124 106h16v41h-16zM142 106h4v41h-4zM148 106h10v41h-10zM160 106h10v41h-10zM174 106h22v41h-22zM198 106h22v41h-22zM222 106h36v41h-36zM264 106h4v41h-4zM270 106h8v41h-8zM280 106h2v41h-2zM284 106h2v41h-2zM288 106h6v41h-6zM300 106h2v41h-2zM304 106h8v41h-8zM314 106h22v41h-22zM338 106h4v41h-4zM344 106h2v41h-2zM348 106h6v41h-6zM356 106h2v41h-2zM360 106h6v41h-6zM374 106h2v41h-2zM378 106h2v41h-2zM382 106h2v41h-2zM386 106h2v41h-2zM390 106h2v41h-2zM394 106h6v41h-6zM402 106h2v41h-2zM406 106h20v41h-20zM430 106h8v41h-8zM440 106h12v41h-12zM458 106h12v41h-12zM472 106h2v41h-2zM480 106h2v41h-2zM488 106h8v41h-8zM502 106h6v41h-6zM510 106h2v41h-2zM514 106h10v41h-10zM526 106h4v41h-4zM532 106h10v41h-10zM546 106h14v41h-14zM566 106h4v41h-4zM572 106h6v41h-6zM580 106h2v41h-2zM586 106h4v41h-4zM592 106h10v41h-10zM606 106h2v41h-2zM610 106h3v41h-3zM140 147h2v39h-2zM144 147h4v39h-4zM150 147h4v39h-4zM166 147h2v39h-2zM170 147h2v39h-2zM176 147h2v39h-2zM184 147h2v39h-2zM190 147h2v39h-2zM196 147h2v39h-2zM208 147h2v39h-2zM216 147h4v39h-4zM222 147h6v39h-6zM234 147h2v39h-2zM258 147h4v39h-4zM264 147h2v39h-2zM268 147h2v39h-2zM272 147h6v39h-6zM280 147h2v39h-2zM284 147h4v39h-4zM294 147h2v39h-2zM302 147h4v39h-4zM312 147h2v39h-2zM328 147h4v39h-4zM338 147h2v39h-2zM356 147h2v39h-2zM360 147h6v39h-6zM368 147h4v39h-4zM376 147h2v39h-2zM386 147h2v39h-2zM400 147h2v39h-2zM406 147h2v39h-2zM410 147h4v39h-4zM424 147h4v39h-4zM430 147h4v39h-4zM452 147h8v39h-8zM476 147h4v39h-4zM490 147h4v39h-4zM498 147h4v39h-4zM504 147h4v39h-4zM170 186h2v34h-2zM224 186h2v34h-2zM246 186h2v34h-2zM272 186h2v34h-2zM324 186h2v34h-2zM356 186h2v34h-2zM366 186h2v34h-2zM430 186h2v34h-2zM442 186h2v34h-2zM470 186h2v34h-2zM216 220h2v30h-2zM222 220h2v30h-2zM240 220h2v30h-2zM266 220h2v30h-2zM302 220h2v30h-2zM312 220h2v30h-2zM328 220h4v30h-4zM356 220h2v30h-2zM456 220h2v30h-2zM474 220h2v30h-2zM486 220h2v30h-2zM490 220h6v30h-6zM498 220h2v30h-2zM502 220h2v30h-2zM216 322h2v19h-2zM338 341h2v17h-2zM150 358h2v15h-2zM222 358h2v15h-2zM272 358h2v15h-2zM362 358h2v15h-2zM272 373h2v13h-2zM342 373h2v13h-2z"/><path fill="#4852f4" d="M336 106h2v41h-2zM384 106h2v41h-2zM392 106h2v41h-2zM428 106h2v41h-2zM372 147h2v39h-2zM384 147h2v39h-2zM416 147h2v39h-2zM428 147h2v39h-2zM592 186h2v34h-2zM606 186h2v34h-2zM610 186h3v34h-3zM230 220h2v30h-2zM256 220h2v30h-2zM310 220h2v30h-2zM316 220h2v30h-2zM340 220h2v30h-2zM448 220h2v30h-2zM522 220h2v30h-2zM532 220h2v30h-2zM536 220h4v30h-4zM222 250h2v27h-2zM228 250h2v27h-2zM234 250h2v27h-2zM238 250h2v27h-2zM250 250h4v27h-4zM266 250h2v27h-2zM274 250h4v27h-4zM284 250h2v27h-2zM172 301h2v21h-2zM234 301h2v21h-2zM222 322h2v19h-2zM246 322h2v19h-2zM284 322h2v19h-2zM318 322h2v19h-2zM356 322h2v19h-2zM362 322h4v19h-4zM214 341h2v17h-2zM222 341h2v17h-2zM286 341h2v17h-2zM294 341h2v17h-2zM304 341h4v17h-4zM342 341h2v17h-2zM132 358h2v15h-2zM152 358h2v15h-2zM168 358h2v15h-2zM176 358h4v15h-4zM194 358h2v15h-2zM220 358h2v15h-2zM234 358h2v15h-2zM240 358h2v15h-2zM266 358h2v15h-2zM314 358h2v15h-2zM330 358h2v15h-2zM338 358h2v15h-2zM352 358h2v15h-2zM128 373h2v13h-2zM142 373h2v13h-2zM152 373h2v13h-2zM176 373h4v13h-4zM182 373h4v13h-4zM196 373h2v13h-2zM204 373h2v13h-2zM214 373h2v13h-2zM220 373h2v13h-2zM232 373h2v13h-2zM238 373h2v13h-2zM250 373h2v13h-2zM254 373h2v13h-2zM268 373h2v13h-2zM274 373h2v13h-2zM290 373h2v13h-2zM310 373h2v13h-2zM316 373h2v13h-2zM332 373h2v13h-2zM344 373h4v13h-4zM364 373h2v13h-2zM128 386h2v13h-2zM134 386h2v13h-2zM148 386h2v13h-2zM152 386h4v13h-4zM162 386h2v13h-2zM178 386h2v13h-2zM182 386h4v13h-4zM200 386h4v13h-4zM210 386h4v13h-4zM220 386h2v13h-2zM228 386h6v13h-6zM242 386h2v13h-2zM252 386h2v13h-2zM256 386h2v13h-2zM268 386h4v13h-4zM276 386h2v13h-2zM282 386h4v13h-4zM290 386h2v13h-2zM306 386h4v13h-4zM332 386h4v13h-4zM344 386h2v13h-2zM132 399h4v20h-4zM142 399h2v20h-2zM148 399h2v20h-2zM156 399h10v20h-10zM170 399h4v20h-4zM176 399h2v20h-2zM186 399h2v20h-2zM194 399h4v20h-4zM206 399h8v20h-8zM220 399h2v20h-2zM228 399h4v20h-4zM234 399h2v20h-2zM240 399h8v20h-8zM252 399h2v20h-2zM256 399h2v20h-2zM260 399h4v20h-4zM268 399h2v20h-2zM274 399h2v20h-2zM284 399h2v20h-2zM290 399h2v20h-2zM298 399h2v20h-2zM306 399h6v20h-6zM318 399h2v20h-2zM326 399h4v20h-4zM334 399h2v20h-2zM340 399h2v20h-2zM346 399h2v20h-2zM352 399h2v20h-2z"/><path fill="#4758f8" d="M454 106h2v41h-2zM484 106h2v41h-2zM560 106h2v41h-2zM342 147h2v39h-2zM354 147h2v39h-2zM382 147h2v39h-2zM438 147h2v39h-2zM504 186h2v34h-2zM586 186h4v34h-4zM542 220h2v30h-2zM568 220h2v30h-2zM584 220h2v30h-2zM596 220h2v30h-2zM256 250h4v27h-4zM268 250h6v27h-6zM294 250h2v27h-2zM298 250h2v27h-2zM324 250h2v27h-2zM362 250h2v27h-2zM432 250h2v27h-2zM530 250h2v27h-2zM214 322h2v19h-2zM228 322h2v19h-2zM250 322h4v19h-4zM258 322h2v19h-2zM266 322h2v19h-2zM272 322h2v19h-2zM294 322h2v19h-2zM320 322h2v19h-2zM338 322h2v19h-2zM366 322h2v19h-2zM232 341h2v17h-2zM248 341h2v17h-2zM262 341h2v17h-2zM142 358h2v15h-2zM162 358h4v15h-4zM196 358h2v15h-2zM200 358h2v15h-2zM212 358h2v15h-2zM238 358h2v15h-2zM244 358h2v15h-2zM260 358h2v15h-2zM302 358h2v15h-2zM306 358h6v15h-6zM316 358h2v15h-2zM326 358h2v15h-2zM346 358h2v15h-2zM350 358h2v15h-2zM380 358h2v15h-2zM126 373h2v13h-2zM132 373h2v13h-2zM162 373h2v13h-2zM180 373h2v13h-2zM200 373h2v13h-2zM206 373h2v13h-2zM230 373h2v13h-2zM244 373h2v13h-2zM248 373h2v13h-2zM282 373h2v13h-2zM308 373h2v13h-2zM340 373h2v13h-2zM350 373h2v13h-2zM126 386h2v13h-2zM132 386h2v13h-2zM204 386h4v13h-4zM214 386h2v13h-2zM310 386h2v13h-2zM316 386h6v13h-6zM340 386h2v13h-2zM352 386h2v13h-2zM126 399h4v20h-4zM168 399h2v20h-2zM180 399h2v20h-2zM184 399h2v20h-2zM200 399h2v20h-2zM204 399h2v20h-2zM214 399h2v20h-2zM232 399h2v20h-2zM238 399h2v20h-2zM248 399h2v20h-2zM254 399h2v20h-2zM276 399h2v20h-2zM316 399h2v20h-2zM320 399h2v20h-2zM332 399h2v20h-2zM344 399h2v20h-2zM350 399h2v20h-2zM362 399h2v20h-2z"/><path fill="#4741e5" d="M124 147h16v39h-16zM142 147h2v39h-2zM148 147h2v39h-2zM154 147h12v39h-12zM168 147h2v39h-2zM172 147h4v39h-4zM178 147h6v39h-6zM186 147h4v39h-4zM192 147h4v39h-4zM198 147h10v39h-10zM210 147h6v39h-6zM220 147h2v39h-2zM228 147h6v39h-6zM236 147h10v39h-10zM248 147h10v39h-10zM262 147h2v39h-2zM266 147h2v39h-2zM270 147h2v39h-2zM278 147h2v39h-2zM282 147h2v39h-2zM288 147h6v39h-6zM296 147h6v39h-6zM306 147h6v39h-6zM314 147h14v39h-14zM332 147h4v39h-4zM340 147h2v39h-2zM344 147h10v39h-10zM358 147h2v39h-2zM378 147h4v39h-4zM388 147h4v39h-4zM394 147h6v39h-6zM402 147h4v39h-4zM408 147h2v39h-2zM414 147h2v39h-2zM418 147h6v39h-6zM434 147h4v39h-4zM440 147h12v39h-12zM460 147h16v39h-16zM480 147h2v39h-2zM486 147h2v39h-2zM494 147h4v39h-4zM502 147h2v39h-2zM508 147h12v39h-12zM522 147h2v39h-2zM526 147h20v39h-20zM124 186h6v34h-6zM142 186h2v34h-2zM150 186h2v34h-2zM154 186h4v34h-4zM160 186h2v34h-2zM168 186h2v34h-2zM172 186h2v34h-2zM176 186h6v34h-6zM184 186h2v34h-2zM188 186h2v34h-2zM194 186h8v34h-8zM208 186h4v34h-4zM216 186h4v34h-4zM222 186h2v34h-2zM228 186h2v34h-2zM232 186h4v34h-4zM238 186h4v34h-4zM250 186h4v34h-4zM258 186h6v34h-6zM266 186h6v34h-6zM274 186h6v34h-6zM284 186h2v34h-2zM290 186h2v34h-2zM296 186h4v34h-4zM302 186h8v34h-8zM312 186h8v34h-8zM328 186h4v34h-4zM334 186h2v34h-2zM338 186h2v34h-2zM342 186h8v34h-8zM358 186h8v34h-8zM370 186h2v34h-2zM380 186h2v34h-2zM394 186h2v34h-2zM400 186h6v34h-6zM412 186h2v34h-2zM420 186h2v34h-2zM432 186h2v34h-2zM440 186h2v34h-2zM448 186h6v34h-6zM456 186h6v34h-6zM466 186h2v34h-2zM472 186h10v34h-10zM486 186h18v34h-18zM506 186h4v34h-4zM512 186h2v34h-2zM518 186h4v34h-4zM530 186h4v34h-4zM538 186h6v34h-6zM546 186h4v34h-4zM220 220h2v30h-2zM224 220h2v30h-2zM228 220h2v30h-2zM246 220h2v30h-2zM250 220h4v30h-4zM258 220h2v30h-2zM262 220h2v30h-2zM272 220h4v30h-4zM278 220h2v30h-2zM296 220h2v30h-2zM304 220h2v30h-2zM318 220h2v30h-2zM346 220h4v30h-4zM360 220h2v30h-2zM366 220h2v30h-2zM390 220h2v30h-2zM394 220h4v30h-4zM402 220h4v30h-4zM422 220h2v30h-2zM440 220h4v30h-4zM458 220h2v30h-2zM476 220h6v30h-6zM504 220h4v30h-4zM240 322h2v19h-2zM276 322h2v19h-2zM296 322h2v19h-2zM276 341h2v17h-2zM346 341h2v17h-2zM350 341h2v17h-2zM356 341h2v17h-2zM362 341h2v17h-2zM370 341h2v17h-2zM170 358h2v15h-2zM216 358h4v15h-4zM258 358h2v15h-2zM268 358h2v15h-2zM312 358h2v15h-2zM224 373h2v13h-2zM258 373h2v13h-2zM294 373h2v13h-2zM312 373h2v13h-2zM356 373h2v13h-2zM362 373h2v13h-2zM246 386h2v13h-2zM296 386h4v13h-4zM304 386h2v13h-2zM324 386h2v13h-2zM330 386h2v13h-2z"/><path fill="#465efb" d="M246 147h2v39h-2zM336 147h2v39h-2zM366 147h2v39h-2zM374 147h2v39h-2zM392 147h2v39h-2zM488 147h2v39h-2zM520 147h2v39h-2zM524 147h2v39h-2zM166 186h2v34h-2zM322 186h2v34h-2zM354 186h2v34h-2zM386 186h4v34h-4zM424 186h2v34h-2zM582 186h2v34h-2zM384 220h2v30h-2zM546 220h2v30h-2zM566 220h2v30h-2zM570 220h2v30h-2zM224 250h2v27h-2zM232 250h2v27h-2zM242 250h2v27h-2zM248 250h2v27h-2zM254 250h2v27h-2zM260 250h4v27h-4zM296 250h2v27h-2zM304 250h2v27h-2zM338 250h2v27h-2zM342 250h2v27h-2zM356 250h2v27h-2zM364 250h2v27h-2zM376 250h2v27h-2zM394 250h2v27h-2zM440 250h2v27h-2zM454 250h2v27h-2zM494 250h2v27h-2zM172 277h2v24h-2zM224 301h2v21h-2zM258 301h2v21h-2zM278 301h2v21h-2zM224 322h2v19h-2zM254 322h2v19h-2zM268 322h2v19h-2zM302 322h2v19h-2zM340 322h2v19h-2zM142 341h2v17h-2zM150 341h2v17h-2zM172 341h2v17h-2zM220 341h2v17h-2zM224 341h2v17h-2zM228 341h2v17h-2zM238 341h2v17h-2zM242 341h2v17h-2zM252 341h2v17h-2zM256 341h2v17h-2zM260 341h2v17h-2zM268 341h2v17h-2zM322 341h2v17h-2zM358 341h2v17h-2zM364 341h2v17h-2zM126 358h2v15h-2zM156 358h2v15h-2zM186 358h2v15h-2zM202 358h4v15h-4zM230 358h2v15h-2zM248 358h2v15h-2zM256 358h2v15h-2zM270 358h2v15h-2zM318 358h2v15h-2zM334 358h2v15h-2zM358 358h2v15h-2zM166 373h2v13h-2zM256 373h2v13h-2zM322 373h2v13h-2zM368 373h2v13h-2zM384 373h2v13h-2zM254 386h2v13h-2zM280 386h2v13h-2zM146 399h2v20h-2zM286 399h2v20h-2zM530 399h2v20h-2zM600 399h2v20h-2z"/><path fill="#4563fd" d="M482 147h4v39h-4zM578 147h2v39h-2zM136 186h2v34h-2zM140 186h2v34h-2zM174 186h2v34h-2zM220 186h2v34h-2zM372 186h2v34h-2zM378 186h2v34h-2zM384 186h2v34h-2zM392 186h2v34h-2zM428 186h2v34h-2zM454 186h2v34h-2zM524 186h2v34h-2zM552 186h2v34h-2zM134 220h2v30h-2zM156 220h2v30h-2zM168 220h4v30h-4zM208 220h2v30h-2zM214 220h2v30h-2zM286 220h2v30h-2zM354 220h2v30h-2zM372 220h2v30h-2zM434 220h2v30h-2zM540 220h2v30h-2zM548 220h4v30h-4zM562 220h2v30h-2zM572 220h2v30h-2zM580 220h2v30h-2zM588 220h2v30h-2zM594 220h2v30h-2zM600 220h6v30h-6zM218 250h4v27h-4zM230 250h2v27h-2zM282 250h2v27h-2zM290 250h2v27h-2zM302 250h2v27h-2zM314 250h2v27h-2zM334 250h2v27h-2zM358 250h2v27h-2zM366 250h2v27h-2zM370 250h2v27h-2zM396 250h2v27h-2zM400 250h2v27h-2zM404 250h2v27h-2zM422 250h2v27h-2zM442 250h2v27h-2zM452 250h2v27h-2zM468 250h2v27h-2zM476 250h2v27h-2zM490 250h2v27h-2zM496 250h4v27h-4zM508 250h2v27h-2zM554 250h2v27h-2zM158 301h2v21h-2zM266 301h2v21h-2zM212 322h2v19h-2zM230 322h2v19h-2zM234 322h2v19h-2zM242 322h4v19h-4zM248 322h2v19h-2zM270 322h2v19h-2zM282 322h2v19h-2zM306 322h2v19h-2zM332 322h4v19h-4zM348 322h2v19h-2zM376 322h2v19h-2zM162 341h2v17h-2zM186 341h2v17h-2zM210 341h4v17h-4zM254 341h2v17h-2zM296 341h2v17h-2zM310 341h2v17h-2zM326 341h2v17h-2zM360 341h2v17h-2zM372 341h2v17h-2zM140 358h2v15h-2zM148 358h2v15h-2zM154 358h2v15h-2zM182 358h2v15h-2zM214 358h2v15h-2zM242 358h2v15h-2zM344 358h2v15h-2zM124 373h2v13h-2zM276 373h2v13h-2zM372 373h2v13h-2zM146 386h2v13h-2zM226 386h2v13h-2zM264 386h2v13h-2zM530 386h2v13h-2zM542 386h2v13h-2zM562 386h2v13h-2zM596 386h2v13h-2zM136 399h2v20h-2zM278 399h2v20h-2zM302 399h2v20h-2zM364 399h2v20h-2zM526 399h2v20h-2zM536 399h2v20h-2zM542 399h8v20h-8zM554 399h2v20h-2zM570 399h2v20h-2zM574 399h2v20h-2zM584 399h2v20h-2zM592 399h2v20h-2zM604 399h2v20h-2z"/><path fill="#3e6fff" d="M130 186h2v34h-2zM138 186h2v34h-2zM190 186h2v34h-2zM236 186h2v34h-2zM264 186h2v34h-2zM374 186h2v34h-2zM396 186h2v34h-2zM418 186h2v34h-2zM462 186h2v34h-2zM482 186h4v34h-4zM516 186h2v34h-2zM528 186h2v34h-2zM554 186h2v34h-2zM566 186h2v34h-2zM580 186h2v34h-2zM124 220h2v30h-2zM132 220h2v30h-2zM148 220h4v30h-4zM158 220h4v30h-4zM176 220h2v30h-2zM188 220h2v30h-2zM198 220h2v30h-2zM210 220h4v30h-4zM280 220h2v30h-2zM374 220h2v30h-2zM406 220h2v30h-2zM418 220h2v30h-2zM470 220h2v30h-2zM552 220h2v30h-2zM574 220h2v30h-2zM598 220h2v30h-2zM606 220h2v30h-2zM610 220h3v30h-3zM126 250h2v27h-2zM138 250h2v27h-2zM152 250h2v27h-2zM170 250h4v27h-4zM202 250h2v27h-2zM210 250h2v27h-2zM244 250h2v27h-2zM306 250h2v27h-2zM344 250h8v27h-8zM402 250h2v27h-2zM410 250h2v27h-2zM430 250h2v27h-2zM456 250h8v27h-8zM470 250h4v27h-4zM480 250h2v27h-2zM492 250h2v27h-2zM502 250h2v27h-2zM512 250h2v27h-2zM532 250h2v27h-2zM544 250h4v27h-4zM552 250h2v27h-2zM186 277h2v24h-2zM218 277h2v24h-2zM266 277h2v24h-2zM272 277h2v24h-2zM184 301h2v21h-2zM220 301h2v21h-2zM240 301h2v21h-2zM124 322h2v19h-2zM150 322h2v19h-2zM158 322h2v19h-2zM220 322h2v19h-2zM238 322h2v19h-2zM328 322h2v19h-2zM208 341h2v17h-2zM282 341h2v17h-2zM344 341h2v17h-2zM368 358h2v15h-2zM140 373h2v13h-2zM218 373h2v13h-2zM264 373h2v13h-2zM280 373h2v13h-2zM286 373h4v13h-4zM292 373h2v13h-2zM382 373h2v13h-2zM124 386h2v13h-2zM130 386h2v13h-2zM136 386h2v13h-2zM176 386h2v13h-2zM244 386h2v13h-2zM286 386h2v13h-2zM336 386h2v13h-2zM350 386h2v13h-2zM364 386h2v13h-2zM520 386h2v13h-2zM532 386h2v13h-2zM536 386h2v13h-2zM544 386h2v13h-2zM548 386h6v13h-6zM560 386h2v13h-2zM566 386h6v13h-6zM586 386h2v13h-2zM590 386h2v13h-2zM598 386h2v13h-2zM604 386h4v13h-4zM130 399h2v20h-2zM144 399h2v20h-2zM280 399h4v20h-4zM322 399h2v20h-2zM366 399h2v20h-2zM442 399h2v20h-2zM486 399h2v20h-2zM490 399h2v20h-2zM498 399h4v20h-4zM534 399h2v20h-2zM550 399h2v20h-2zM560 399h2v20h-2zM564 399h2v20h-2zM612 399h1v20h-1z"/><path fill="#3875fe" d="M144 186h2v34h-2zM192 186h2v34h-2zM288 186h2v34h-2zM300 186h2v34h-2zM336 186h2v34h-2zM368 186h2v34h-2zM416 186h2v34h-2zM560 186h4v34h-4zM568 186h4v34h-4zM182 220h2v30h-2zM196 220h2v30h-2zM200 220h2v30h-2zM204 220h4v30h-4zM236 220h2v30h-2zM264 220h2v30h-2zM314 220h2v30h-2zM336 220h2v30h-2zM344 220h2v30h-2zM368 220h4v30h-4zM382 220h2v30h-2zM398 220h2v30h-2zM524 220h4v30h-4zM134 250h2v27h-2zM148 250h2v27h-2zM156 250h2v27h-2zM186 250h2v27h-2zM196 250h2v27h-2zM204 250h2v27h-2zM208 250h2v27h-2zM308 250h2v27h-2zM316 250h2v27h-2zM326 250h4v27h-4zM340 250h2v27h-2zM390 250h2v27h-2zM408 250h2v27h-2zM414 250h2v27h-2zM424 250h2v27h-2zM446 250h2v27h-2zM518 250h2v27h-2zM526 250h2v27h-2zM536 250h4v27h-4zM548 250h2v27h-2zM148 277h4v24h-4zM196 277h4v24h-4zM234 277h2v24h-2zM240 277h2v24h-2zM150 301h2v21h-2zM154 301h4v21h-4zM186 301h4v21h-4zM222 301h2v21h-2zM268 301h2v21h-2zM282 301h4v21h-4zM138 322h2v19h-2zM156 322h2v19h-2zM168 322h2v19h-2zM358 322h2v19h-2zM134 341h2v17h-2zM144 341h2v17h-2zM148 341h2v17h-2zM184 341h2v17h-2zM202 341h2v17h-2zM244 341h2v17h-2zM270 341h2v17h-2zM290 341h2v17h-2zM316 341h2v17h-2zM340 341h2v17h-2zM354 341h2v17h-2zM378 341h2v17h-2zM136 358h2v15h-2zM280 358h2v15h-2zM596 358h2v15h-2zM236 373h2v13h-2zM300 373h2v13h-2zM354 373h2v13h-2zM140 386h2v13h-2zM312 386h2v13h-2zM526 386h2v13h-2zM538 386h4v13h-4zM554 386h2v13h-2zM580 386h2v13h-2zM588 386h2v13h-2zM592 386h2v13h-2zM612 386h1v13h-1zM138 399h2v20h-2zM190 399h2v20h-2zM288 399h2v20h-2zM300 399h2v20h-2zM336 399h2v20h-2zM376 399h2v20h-2zM396 399h2v20h-2zM400 399h2v20h-2zM410 399h2v20h-2zM432 399h2v20h-2zM440 399h2v20h-2zM452 399h2v20h-2zM458 399h2v20h-2zM462 399h2v20h-2zM474 399h8v20h-8zM488 399h2v20h-2zM492 399h6v20h-6zM502 399h2v20h-2zM508 399h2v20h-2zM518 399h2v20h-2zM524 399h2v20h-2zM596 399h2v20h-2z"/><path fill="#4269fe" d="M146 186h2v34h-2zM158 186h2v34h-2zM226 186h2v34h-2zM280 186h2v34h-2zM286 186h2v34h-2zM294 186h2v34h-2zM350 186h4v34h-4zM382 186h2v34h-2zM398 186h2v34h-2zM406 186h2v34h-2zM426 186h2v34h-2zM434 186h2v34h-2zM438 186h2v34h-2zM126 220h2v30h-2zM142 220h2v30h-2zM152 220h4v30h-4zM162 220h4v30h-4zM172 220h2v30h-2zM178 220h2v30h-2zM184 220h4v30h-4zM194 220h2v30h-2zM202 220h2v30h-2zM226 220h2v30h-2zM386 220h4v30h-4zM416 220h2v30h-2zM426 220h4v30h-4zM438 220h2v30h-2zM544 220h2v30h-2zM554 220h2v30h-2zM560 220h2v30h-2zM582 220h2v30h-2zM586 220h2v30h-2zM590 220h4v30h-4zM216 250h2v27h-2zM318 250h4v27h-4zM330 250h2v27h-2zM360 250h2v27h-2zM412 250h2v27h-2zM448 250h4v27h-4zM474 250h2v27h-2zM478 250h2v27h-2zM486 250h4v27h-4zM500 250h2v27h-2zM504 250h2v27h-2zM528 250h2v27h-2zM158 277h2v24h-2zM170 277h2v24h-2zM194 277h2v24h-2zM278 277h2v24h-2zM126 301h2v21h-2zM152 301h2v21h-2zM218 301h2v21h-2zM170 322h2v19h-2zM188 322h2v19h-2zM226 322h2v19h-2zM256 322h2v19h-2zM260 322h2v19h-2zM286 322h2v19h-2zM290 322h2v19h-2zM326 322h2v19h-2zM368 322h2v19h-2zM308 341h2v17h-2zM352 341h2v17h-2zM128 358h2v15h-2zM144 358h2v15h-2zM254 358h2v15h-2zM332 358h2v15h-2zM354 358h2v15h-2zM136 373h2v13h-2zM144 373h4v13h-4zM226 373h2v13h-2zM166 386h2v13h-2zM192 386h2v13h-2zM288 386h2v13h-2zM322 386h2v13h-2zM354 386h2v13h-2zM546 386h2v13h-2zM574 386h2v13h-2zM582 386h4v13h-4zM594 386h2v13h-2zM600 386h4v13h-4zM140 399h2v20h-2zM166 399h2v20h-2zM182 399h2v20h-2zM192 399h2v20h-2zM226 399h2v20h-2zM236 399h2v20h-2zM264 399h2v20h-2zM354 399h2v20h-2zM520 399h4v20h-4zM528 399h2v20h-2zM532 399h2v20h-2zM538 399h4v20h-4zM552 399h2v20h-2zM562 399h2v20h-2zM566 399h4v20h-4zM572 399h2v20h-2zM580 399h4v20h-4zM586 399h6v20h-6zM594 399h2v20h-2zM598 399h2v20h-2zM602 399h2v20h-2zM610 399h2v20h-2z"/><path fill="#327cfc" d="M292 186h2v34h-2zM572 186h2v34h-2zM608 186h2v34h-2zM128 220h2v30h-2zM180 220h2v30h-2zM288 220h2v30h-2zM292 220h2v30h-2zM300 220h2v30h-2zM322 220h2v30h-2zM378 220h2v30h-2zM450 220h2v30h-2zM482 220h4v30h-4zM132 250h2v27h-2zM142 250h2v27h-2zM150 250h2v27h-2zM154 250h2v27h-2zM158 250h2v27h-2zM178 250h2v27h-2zM184 250h2v27h-2zM188 250h2v27h-2zM194 250h2v27h-2zM198 250h2v27h-2zM214 250h2v27h-2zM226 250h2v27h-2zM310 250h2v27h-2zM332 250h2v27h-2zM352 250h2v27h-2zM436 250h2v27h-2zM444 250h2v27h-2zM466 250h2v27h-2zM506 250h2v27h-2zM514 250h2v27h-2zM534 250h2v27h-2zM540 250h2v27h-2zM164 277h2v24h-2zM188 277h2v24h-2zM224 277h2v24h-2zM246 277h2v24h-2zM260 277h2v24h-2zM134 301h2v21h-2zM164 301h2v21h-2zM168 301h2v21h-2zM226 301h2v21h-2zM230 301h4v21h-4zM252 301h2v21h-2zM148 322h2v19h-2zM152 322h2v19h-2zM172 322h2v19h-2zM264 322h2v19h-2zM280 322h2v19h-2zM308 322h2v19h-2zM344 322h2v19h-2zM352 322h2v19h-2zM370 322h2v19h-2zM170 341h2v17h-2zM180 341h2v17h-2zM196 341h2v17h-2zM206 341h2v17h-2zM250 341h2v17h-2zM280 341h2v17h-2zM320 341h2v17h-2zM332 341h2v17h-2zM368 341h2v17h-2zM602 341h2v17h-2zM146 358h2v15h-2zM292 358h2v15h-2zM378 358h2v15h-2zM174 373h2v13h-2zM190 373h4v13h-4zM212 373h2v13h-2zM370 373h2v13h-2zM378 373h2v13h-2zM584 373h2v13h-2zM144 386h2v13h-2zM190 386h2v13h-2zM236 386h2v13h-2zM292 386h2v13h-2zM300 386h2v13h-2zM366 386h2v13h-2zM522 386h2v13h-2zM534 386h2v13h-2zM572 386h2v13h-2zM610 386h2v13h-2zM174 399h2v20h-2zM292 399h2v20h-2zM380 399h2v20h-2zM394 399h2v20h-2zM404 399h2v20h-2zM408 399h2v20h-2zM412 399h2v20h-2zM424 399h2v20h-2zM450 399h2v20h-2zM454 399h4v20h-4zM460 399h2v20h-2zM466 399h6v20h-6zM506 399h2v20h-2zM510 399h8v20h-8zM608 399h2v20h-2z"/><path fill="#2797eb" d="M556 186h2v34h-2zM578 186h2v34h-2zM136 220h4v30h-4zM174 220h2v30h-2zM190 220h2v30h-2zM578 220h2v30h-2zM288 250h2v27h-2zM368 250h2v27h-2zM380 250h2v27h-2zM428 250h2v27h-2zM464 250h2v27h-2zM130 277h2v24h-2zM184 277h2v24h-2zM250 277h2v24h-2zM270 277h2v24h-2zM276 277h2v24h-2zM136 301h2v21h-2zM162 301h2v21h-2zM176 301h4v21h-4zM204 301h2v21h-2zM210 301h2v21h-2zM592 301h2v21h-2zM134 322h2v19h-2zM154 322h2v19h-2zM160 322h2v19h-2zM176 322h2v19h-2zM180 322h2v19h-2zM184 322h2v19h-2zM196 322h2v19h-2zM236 322h2v19h-2zM126 341h2v17h-2zM190 341h2v17h-2zM288 341h2v17h-2zM334 341h2v17h-2zM590 358h2v15h-2zM598 358h2v15h-2zM610 358h2v15h-2zM516 373h2v13h-2zM524 373h2v13h-2zM532 373h2v13h-2zM540 373h2v13h-2zM548 373h4v13h-4zM572 373h2v13h-2zM598 373h2v13h-2zM610 373h2v13h-2zM380 386h2v13h-2zM410 386h2v13h-2zM420 386h2v13h-2zM424 386h2v13h-2zM446 386h4v13h-4zM472 386h4v13h-4zM480 386h2v13h-2zM504 386h2v13h-2zM514 386h4v13h-4zM608 386h2v13h-2zM370 399h6v20h-6zM378 399h2v20h-2zM382 399h4v20h-4zM392 399h2v20h-2zM398 399h2v20h-2zM406 399h2v20h-2zM426 399h2v20h-2zM438 399h2v20h-2zM482 399h4v20h-4zM504 399h2v20h-2z"/><path fill="#20a5e3" d="M558 186h2v34h-2zM166 250h2v27h-2zM174 250h2v27h-2zM192 250h2v27h-2zM336 250h2v27h-2zM374 250h2v27h-2zM388 250h2v27h-2zM392 250h2v27h-2zM418 250h2v27h-2zM524 250h2v27h-2zM592 250h2v27h-2zM174 277h2v24h-2zM212 277h2v24h-2zM244 301h2v21h-2zM294 301h2v21h-2zM358 301h2v21h-2zM362 301h2v21h-2zM586 301h2v21h-2zM310 322h2v19h-2zM346 322h2v19h-2zM568 322h2v19h-2zM584 322h2v19h-2zM604 322h2v19h-2zM182 341h2v17h-2zM382 341h2v17h-2zM542 358h2v15h-2zM566 358h2v15h-2zM584 358h2v15h-2zM564 373h4v13h-4zM608 373h2v13h-2zM378 386h2v13h-2zM428 386h2v13h-2z"/><path fill="#23a0e5" d="M564 186h2v34h-2zM144 220h2v30h-2zM166 220h2v30h-2zM558 220h2v30h-2zM130 250h2v27h-2zM136 250h2v27h-2zM164 250h2v27h-2zM190 250h2v27h-2zM300 250h2v27h-2zM322 250h2v27h-2zM382 250h2v27h-2zM406 250h2v27h-2zM482 250h2v27h-2zM600 250h8v27h-8zM610 250h2v27h-2zM144 277h2v24h-2zM242 277h2v24h-2zM248 277h2v24h-2zM200 301h2v21h-2zM238 301h2v21h-2zM298 301h2v21h-2zM314 301h2v21h-2zM560 301h2v21h-2zM128 322h2v19h-2zM190 322h2v19h-2zM210 322h2v19h-2zM336 322h2v19h-2zM562 322h2v19h-2zM582 322h2v19h-2zM602 322h2v19h-2zM140 341h2v17h-2zM154 341h2v17h-2zM374 341h2v17h-2zM562 341h2v17h-2zM598 341h2v17h-2zM386 373h2v13h-2zM368 386h2v13h-2zM382 386h2v13h-2zM388 386h2v13h-2zM392 386h2v13h-2z"/><path fill="#2b91ef" d="M574 186h4v34h-4zM140 220h2v30h-2zM192 220h2v30h-2zM292 250h2v27h-2zM312 250h2v27h-2zM354 250h2v27h-2zM378 250h2v27h-2zM384 250h4v27h-4zM426 250h2v27h-2zM484 250h2v27h-2zM140 277h2v24h-2zM154 277h2v24h-2zM206 277h2v24h-2zM230 277h2v24h-2zM244 277h2v24h-2zM252 277h2v24h-2zM274 277h2v24h-2zM140 301h4v21h-4zM146 301h2v21h-2zM242 301h2v21h-2zM274 301h4v21h-4zM356 301h2v21h-2zM360 301h2v21h-2zM566 301h2v21h-2zM570 301h2v21h-2zM584 301h2v21h-2zM596 301h2v21h-2zM132 322h2v19h-2zM142 322h2v19h-2zM200 341h2v17h-2zM236 341h2v17h-2zM264 341h2v17h-2zM336 341h2v17h-2zM604 341h2v17h-2zM174 358h2v15h-2zM236 358h2v15h-2zM288 358h2v15h-2zM336 358h2v15h-2zM600 358h2v15h-2zM514 373h2v13h-2zM534 373h2v13h-2zM376 386h2v13h-2zM390 386h2v13h-2zM396 386h2v13h-2zM408 386h2v13h-2zM412 386h4v13h-4zM432 386h2v13h-2zM436 386h2v13h-2zM442 386h4v13h-4zM450 386h4v13h-4zM458 386h2v13h-2zM462 386h4v13h-4zM476 386h4v13h-4zM486 386h4v13h-4zM496 386h8v13h-8zM508 386h4v13h-4zM556 386h4v13h-4zM564 386h2v13h-2zM578 386h2v13h-2zM418 399h2v20h-2zM430 399h2v20h-2zM464 399h2v20h-2z"/><path fill="#2f81fa" d="M598 186h2v34h-2zM564 220h2v30h-2zM160 250h4v27h-4zM168 250h2v27h-2zM176 250h2v27h-2zM180 250h2v27h-2zM280 250h2v27h-2zM438 250h2v27h-2zM510 250h2v27h-2zM522 250h2v27h-2zM124 277h2v24h-2zM128 277h2v24h-2zM132 277h2v24h-2zM142 277h2v24h-2zM162 277h2v24h-2zM178 277h2v24h-2zM182 277h2v24h-2zM200 277h2v24h-2zM222 277h2v24h-2zM262 277h2v24h-2zM128 301h2v21h-2zM132 301h2v21h-2zM180 301h2v21h-2zM208 301h2v21h-2zM246 301h4v21h-4zM256 301h2v21h-2zM290 301h2v21h-2zM342 301h2v21h-2zM602 301h2v21h-2zM200 322h2v19h-2zM206 322h4v19h-4zM292 322h2v19h-2zM322 322h2v19h-2zM128 341h2v17h-2zM194 341h2v17h-2zM230 341h2v17h-2zM596 341h2v17h-2zM130 358h2v15h-2zM166 358h2v15h-2zM190 358h4v15h-4zM264 358h2v15h-2zM286 358h2v15h-2zM300 358h2v15h-2zM374 358h2v15h-2zM382 358h2v15h-2zM130 373h2v13h-2zM168 373h2v13h-2zM374 373h2v13h-2zM530 373h2v13h-2zM174 386h2v13h-2zM390 399h2v20h-2zM402 399h2v20h-2zM414 399h2v20h-2zM420 399h4v20h-4zM436 399h2v20h-2zM444 399h6v20h-6zM472 399h2v20h-2z"/><path fill="#2e87f7" d="M130 220h2v30h-2zM392 220h2v30h-2zM608 220h2v30h-2zM128 250h2v27h-2zM182 250h2v27h-2zM200 250h2v27h-2zM206 250h2v27h-2zM212 250h2v27h-2zM264 250h2v27h-2zM520 250h2v27h-2zM134 277h2v24h-2zM138 277h2v24h-2zM152 277h2v24h-2zM168 277h2v24h-2zM180 277h2v24h-2zM202 277h4v24h-4zM216 277h2v24h-2zM228 277h2v24h-2zM238 277h2v24h-2zM258 277h2v24h-2zM268 277h2v24h-2zM282 277h2v24h-2zM166 301h2v21h-2zM170 301h2v21h-2zM260 301h2v21h-2zM286 301h2v21h-2zM324 301h2v21h-2zM330 301h2v21h-2zM530 301h2v21h-2zM542 301h2v21h-2zM146 322h2v19h-2zM162 322h2v19h-2zM166 322h2v19h-2zM178 322h2v19h-2zM194 322h2v19h-2zM198 322h2v19h-2zM202 322h2v19h-2zM232 322h2v19h-2zM300 322h2v19h-2zM354 322h2v19h-2zM372 322h2v19h-2zM158 341h4v17h-4zM168 341h2v17h-2zM178 341h2v17h-2zM188 341h2v17h-2zM204 341h2v17h-2zM226 341h2v17h-2zM292 341h2v17h-2zM592 341h2v17h-2zM184 358h2v15h-2zM226 358h2v15h-2zM322 358h2v15h-2zM372 358h2v15h-2zM592 358h4v15h-4zM336 373h2v13h-2zM352 373h2v13h-2zM518 373h2v13h-2zM526 373h2v13h-2zM544 373h4v13h-4zM554 373h2v13h-2zM580 373h4v13h-4zM590 373h2v13h-2zM594 373h4v13h-4zM600 373h4v13h-4zM400 386h2v13h-2zM430 386h2v13h-2zM490 386h2v13h-2zM518 386h2v13h-2zM524 386h2v13h-2zM576 386h2v13h-2zM388 399h2v20h-2zM434 399h2v20h-2zM556 399h2v20h-2zM578 399h2v20h-2z"/><path fill="#2d8cf3" d="M146 220h2v30h-2zM236 250h2v27h-2zM286 250h2v27h-2zM596 250h2v27h-2zM126 277h2v24h-2zM156 277h2v24h-2zM176 277h2v24h-2zM208 277h2v24h-2zM232 277h2v24h-2zM256 277h2v24h-2zM124 301h2v21h-2zM148 301h2v21h-2zM182 301h2v21h-2zM194 301h6v21h-6zM250 301h2v21h-2zM604 301h2v21h-2zM126 322h2v19h-2zM164 322h2v19h-2zM204 322h2v19h-2zM316 322h2v19h-2zM350 322h2v19h-2zM530 322h2v19h-2zM596 322h2v19h-2zM138 341h2v17h-2zM146 341h2v17h-2zM152 341h2v17h-2zM156 341h2v17h-2zM164 341h2v17h-2zM176 341h2v17h-2zM198 341h2v17h-2zM594 341h2v17h-2zM180 358h2v15h-2zM206 358h2v15h-2zM602 358h4v15h-4zM612 358h1v15h-1zM520 373h2v13h-2zM528 373h2v13h-2zM536 373h4v13h-4zM542 373h2v13h-2zM560 373h4v13h-4zM568 373h4v13h-4zM574 373h2v13h-2zM586 373h4v13h-4zM592 373h2v13h-2zM606 373h2v13h-2zM370 386h2v13h-2zM394 386h2v13h-2zM404 386h2v13h-2zM422 386h2v13h-2zM440 386h2v13h-2zM454 386h4v13h-4zM460 386h2v13h-2zM468 386h4v13h-4zM492 386h4v13h-4zM512 386h2v13h-2zM528 386h2v13h-2zM368 399h2v20h-2zM386 399h2v20h-2zM558 399h2v20h-2zM576 399h2v20h-2zM606 399h2v20h-2z"/><path fill="#259be8" d="M556 220h2v30h-2zM576 220h2v30h-2zM140 250h2v27h-2zM144 250h4v27h-4zM372 250h2v27h-2zM420 250h2v27h-2zM434 250h2v27h-2zM516 250h2v27h-2zM550 250h2v27h-2zM214 277h2v24h-2zM220 277h2v24h-2zM284 277h2v24h-2zM138 301h2v21h-2zM160 301h2v21h-2zM202 301h2v21h-2zM214 301h2v21h-2zM270 301h2v21h-2zM182 322h2v19h-2zM186 322h2v19h-2zM130 341h2v17h-2zM166 341h2v17h-2zM600 341h2v17h-2zM340 358h2v15h-2zM522 373h2v13h-2zM612 373h1v13h-1zM386 386h2v13h-2zM402 386h2v13h-2zM466 386h2v13h-2zM416 399h2v20h-2zM428 399h2v20h-2z"/><path fill="#1ca9df" d="M124 250h2v27h-2zM398 250h2v27h-2zM542 250h2v27h-2zM594 250h2v27h-2zM598 250h2v27h-2zM612 250h1v27h-1zM146 277h2v24h-2zM166 277h2v24h-2zM190 277h2v24h-2zM210 277h2v24h-2zM226 277h2v24h-2zM264 277h2v24h-2zM144 301h2v21h-2zM206 301h2v21h-2zM264 301h2v21h-2zM310 301h2v21h-2zM346 301h2v21h-2zM520 301h2v21h-2zM562 301h2v21h-2zM574 301h2v21h-2zM144 322h2v19h-2zM374 322h2v19h-2zM526 322h2v19h-2zM546 322h2v19h-2zM550 322h2v19h-2zM566 322h2v19h-2zM600 322h2v19h-2zM570 341h2v17h-2zM546 358h2v15h-2zM570 358h2v15h-2zM588 358h2v15h-2zM608 358h2v15h-2zM552 373h2v13h-2zM384 386h2v13h-2zM438 386h2v13h-2z"/><path fill="#12b1d6" d="M416 250h2v27h-2zM566 250h2v27h-2zM580 250h6v27h-6zM608 250h2v27h-2zM236 277h2v24h-2zM296 301h2v21h-2zM318 301h2v21h-2zM588 301h2v21h-2zM600 301h2v21h-2zM610 301h2v21h-2zM130 322h2v19h-2zM140 322h2v19h-2zM560 322h2v19h-2zM590 322h4v19h-4zM124 341h2v17h-2zM136 341h2v17h-2zM384 341h2v17h-2zM530 341h2v17h-2zM566 341h2v17h-2zM580 341h2v17h-2zM608 341h2v17h-2zM384 358h2v15h-2zM516 358h2v15h-2zM562 358h2v15h-2zM556 373h4v13h-4zM372 386h4v13h-4zM406 386h2v13h-2zM482 386h2v13h-2z"/><path fill="#08b5d0" d="M556 250h2v27h-2zM570 250h6v27h-6zM588 250h2v27h-2zM192 301h2v21h-2zM228 301h2v21h-2zM316 301h2v21h-2zM326 301h2v21h-2zM352 301h2v21h-2zM364 301h2v21h-2zM514 301h4v21h-4zM568 301h2v21h-2zM606 301h2v21h-2zM612 301h1v21h-1zM288 322h2v19h-2zM378 322h4v19h-4zM520 322h2v19h-2zM534 322h4v19h-4zM552 322h2v19h-2zM580 322h2v19h-2zM594 322h2v19h-2zM514 341h2v17h-2zM542 341h2v17h-2zM590 341h2v17h-2zM526 358h2v15h-2zM540 358h2v15h-2zM552 358h4v15h-4zM560 358h2v15h-2zM568 358h2v15h-2zM574 358h2v15h-2zM416 386h2v13h-2z"/><path fill="#19bfb6" d="M558 250h2v27h-2zM296 277h2v24h-2zM356 277h2v24h-2zM174 301h2v21h-2zM190 301h2v21h-2zM288 301h2v21h-2zM320 301h2v21h-2zM344 301h2v21h-2zM394 301h2v21h-2zM400 301h2v21h-2zM430 301h2v21h-2zM498 301h2v21h-2zM528 301h2v21h-2zM538 301h2v21h-2zM572 301h2v21h-2zM516 322h2v19h-2zM572 322h2v19h-2zM612 322h1v19h-1zM532 341h2v17h-2zM568 341h2v17h-2zM558 358h2v15h-2zM404 373h2v13h-2zM414 373h2v13h-2zM420 373h2v13h-2zM444 373h6v13h-6zM454 373h8v13h-8zM466 373h2v13h-2zM476 373h2v13h-2zM480 373h2v13h-2zM498 373h2v13h-2zM502 373h4v13h-4z"/><path fill="#18addb" d="M560 250h4v27h-4zM568 250h2v27h-2zM590 250h2v27h-2zM160 277h2v24h-2zM192 277h2v24h-2zM280 277h2v24h-2zM130 301h2v21h-2zM212 301h2v21h-2zM254 301h2v21h-2zM304 301h2v21h-2zM312 301h2v21h-2zM328 301h2v21h-2zM532 301h6v21h-6zM544 301h4v21h-4zM552 301h2v21h-2zM192 322h2v19h-2zM514 322h2v19h-2zM518 322h2v19h-2zM538 322h2v19h-2zM542 322h2v19h-2zM570 322h2v19h-2zM174 341h2v17h-2zM192 341h2v17h-2zM300 341h2v17h-2zM518 341h2v17h-2zM546 341h2v17h-2zM574 341h2v17h-2zM606 341h2v17h-2zM514 358h2v15h-2zM518 358h4v15h-4zM528 358h6v15h-6zM536 358h2v15h-2zM544 358h2v15h-2zM548 358h4v15h-4zM572 358h2v15h-2zM582 358h2v15h-2zM586 358h2v15h-2zM576 373h4v13h-4zM604 373h2v13h-2zM398 386h2v13h-2zM418 386h2v13h-2zM426 386h2v13h-2zM434 386h2v13h-2zM506 386h2v13h-2z"/><path fill="#37c897" d="M564 250h2v27h-2zM286 277h2v24h-2zM310 277h2v24h-2zM314 277h2v24h-2zM326 277h2v24h-2zM334 277h2v24h-2zM358 277h2v24h-2zM440 277h2v24h-2zM500 277h2v24h-2zM530 277h2v24h-2zM562 277h2v24h-2zM366 301h2v21h-2zM450 301h2v21h-2zM462 301h2v21h-2zM502 301h2v21h-2zM556 322h2v19h-2zM574 322h2v19h-2zM394 358h2v15h-2zM400 358h2v15h-2zM430 358h2v15h-2zM450 358h2v15h-2zM478 358h2v15h-2zM494 358h2v15h-2zM498 358h2v15h-2zM524 358h2v15h-2zM406 373h2v13h-2z"/><path fill="#3fca8e" d="M576 250h2v27h-2zM312 277h2v24h-2zM328 277h2v24h-2zM332 277h2v24h-2zM342 277h2v24h-2zM350 277h4v24h-4zM360 277h2v24h-2zM364 277h2v24h-2zM442 277h2v24h-2zM458 277h2v24h-2zM492 277h2v24h-2zM520 277h2v24h-2zM542 277h2v24h-2zM436 301h2v21h-2zM444 301h2v21h-2zM500 301h2v21h-2zM524 301h2v21h-2zM494 322h2v19h-2zM564 341h2v17h-2zM440 358h4v15h-4zM452 358h4v15h-4zM460 358h4v15h-4zM476 358h2v15h-2zM488 358h4v15h-4zM502 358h2v15h-2zM506 358h2v15h-2zM510 358h2v15h-2zM418 373h2v13h-2z"/><path fill="#72cd64" d="M578 250h2v27h-2zM316 277h2v24h-2zM404 277h2v24h-2zM408 277h2v24h-2zM430 277h2v24h-2zM490 277h2v24h-2zM508 277h2v24h-2zM526 277h2v24h-2zM548 277h2v24h-2zM552 277h2v24h-2zM560 277h2v24h-2zM572 277h4v24h-4zM582 277h2v24h-2zM376 301h2v21h-2zM386 301h2v21h-2zM460 301h2v21h-2zM474 301h4v21h-4zM508 301h2v21h-2zM486 322h2v19h-2zM492 322h2v19h-2zM496 322h2v19h-2zM504 322h2v19h-2zM576 322h2v19h-2zM400 341h2v17h-2zM402 358h2v15h-2zM408 358h2v15h-2zM414 358h2v15h-2zM420 358h2v15h-2zM436 358h2v15h-2zM444 358h2v15h-2zM468 373h2v13h-2zM482 373h2v13h-2z"/><path fill="#01b8ca" d="M586 250h2v27h-2zM136 277h2v24h-2zM254 277h2v24h-2zM236 301h2v21h-2zM280 301h2v21h-2zM302 301h2v21h-2zM306 301h2v21h-2zM340 301h2v21h-2zM440 301h2v21h-2zM518 301h2v21h-2zM522 301h2v21h-2zM136 322h2v19h-2zM174 322h2v19h-2zM522 322h2v19h-2zM532 322h2v19h-2zM540 322h2v19h-2zM554 322h2v19h-2zM564 322h2v19h-2zM606 322h2v19h-2zM536 341h2v17h-2zM550 341h2v17h-2zM582 341h4v17h-4zM610 341h2v17h-2zM538 358h2v15h-2zM580 358h2v15h-2zM394 373h2v13h-2zM430 373h2v13h-2zM478 373h2v13h-2zM484 386h2v13h-2z"/><path fill="#c5c22a" d="M288 277h2v24h-2zM428 277h2v24h-2zM466 277h2v24h-2zM484 277h2v24h-2zM374 301h2v21h-2zM438 322h2v19h-2zM512 322h2v19h-2zM556 341h2v17h-2zM426 358h2v15h-2z"/><path fill="#2cc4a7" d="M290 277h2v24h-2zM294 277h2v24h-2zM306 277h2v24h-2zM338 277h2v24h-2zM432 301h2v21h-2zM480 301h2v21h-2zM524 322h2v19h-2zM520 341h2v17h-2zM528 341h2v17h-2zM564 358h2v15h-2zM464 373h2v13h-2zM512 373h2v13h-2z"/><path fill="#abc739" d="M292 277h2v24h-2zM300 277h2v24h-2zM394 277h4v24h-4zM464 277h2v24h-2zM472 277h2v24h-2zM480 277h2v24h-2zM510 277h2v24h-2zM516 277h2v24h-2zM378 301h2v21h-2zM464 301h2v21h-2zM384 322h2v19h-2zM424 322h2v19h-2zM452 322h2v19h-2zM478 322h2v19h-2zM404 341h2v17h-2zM440 341h2v17h-2zM458 341h2v17h-2zM470 341h2v17h-2zM478 341h2v17h-2zM510 341h2v17h-2zM540 341h2v17h-2zM388 358h2v15h-2zM392 358h2v15h-2zM404 358h2v15h-2zM438 358h2v15h-2zM482 358h2v15h-2z"/><path fill="#24c1ae" d="M298 277h2v24h-2zM324 277h2v24h-2zM330 277h2v24h-2zM332 301h2v21h-2zM354 301h2v21h-2zM370 301h2v21h-2zM380 301h2v21h-2zM410 301h2v21h-2zM458 301h2v21h-2zM494 301h2v21h-2zM510 301h2v21h-2zM540 301h2v21h-2zM548 301h2v21h-2zM578 301h2v21h-2zM610 322h2v19h-2zM552 341h2v17h-2zM576 358h2v15h-2zM388 373h4v13h-4zM402 373h2v13h-2zM408 373h2v13h-2zM422 373h4v13h-4zM436 373h2v13h-2zM472 373h2v13h-2zM506 373h2v13h-2z"/><path fill="#9dc943" d="M302 277h2v24h-2zM436 277h2v24h-2zM460 277h2v24h-2zM514 277h2v24h-2zM532 277h4v24h-4zM550 277h2v24h-2zM588 277h2v24h-2zM592 277h2v24h-2zM606 277h2v24h-2zM388 301h2v21h-2zM402 301h2v21h-2zM418 301h2v21h-2zM428 301h2v21h-2zM446 301h4v21h-4zM472 301h2v21h-2zM490 301h2v21h-2zM396 322h2v19h-2zM408 322h4v19h-4zM502 322h2v19h-2zM510 322h2v19h-2zM386 358h2v15h-2z"/><path fill="#31c69f" d="M304 277h2v24h-2zM318 277h2v24h-2zM346 277h4v24h-4zM362 277h2v24h-2zM308 301h2v21h-2zM322 301h2v21h-2zM454 301h2v21h-2zM512 341h2v17h-2zM526 341h2v17h-2zM538 341h2v17h-2zM560 341h2v17h-2zM572 341h2v17h-2zM432 358h2v15h-2zM578 358h2v15h-2zM428 373h2v13h-2zM434 373h2v13h-2zM484 373h2v13h-2z"/><path fill="#57cc7a" d="M308 277h2v24h-2zM322 277h2v24h-2zM410 277h2v24h-2zM448 277h2v24h-2zM454 277h2v24h-2zM478 277h2v24h-2zM494 277h2v24h-2zM512 277h2v24h-2zM566 277h2v24h-2zM580 277h2v24h-2zM584 277h2v24h-2zM300 301h2v21h-2zM372 301h2v21h-2zM396 301h2v21h-2zM404 301h2v21h-2zM558 322h2v19h-2zM558 341h2v17h-2zM458 358h2v15h-2zM464 358h2v15h-2zM470 358h2v15h-2zM474 358h2v15h-2zM486 358h2v15h-2zM496 358h2v15h-2zM398 373h2v13h-2zM416 373h2v13h-2zM426 373h2v13h-2z"/><path fill="#64cd6f" d="M320 277h2v24h-2zM340 277h2v24h-2zM412 277h2v24h-2zM444 277h2v24h-2zM486 277h2v24h-2zM496 277h2v24h-2zM502 277h2v24h-2zM536 277h2v24h-2zM540 277h2v24h-2zM590 277h2v24h-2zM408 301h2v21h-2zM414 301h2v21h-2zM422 301h2v21h-2zM456 301h2v21h-2zM468 301h2v21h-2zM556 301h4v21h-4zM582 301h2v21h-2zM594 301h2v21h-2zM394 322h2v19h-2zM404 322h2v19h-2zM432 322h2v19h-2zM450 322h2v19h-2zM490 322h2v19h-2zM506 322h2v19h-2zM576 341h2v17h-2zM390 358h2v15h-2zM396 358h2v15h-2zM422 358h2v15h-2zM456 358h2v15h-2zM468 358h2v15h-2zM472 358h2v15h-2zM492 358h2v15h-2zM438 373h2v13h-2z"/><path fill="#f0ba36" d="M336 277h2v24h-2zM456 277h2v24h-2zM406 322h2v19h-2zM466 322h2v19h-2zM406 341h4v17h-4zM434 341h2v17h-2zM460 341h2v17h-2zM496 341h2v17h-2zM448 358h2v15h-2z"/><path fill="#8fcb4e" d="M344 277h2v24h-2zM400 277h2v24h-2zM414 277h2v24h-2zM422 277h4v24h-4zM446 277h2v24h-2zM468 277h2v24h-2zM498 277h2v24h-2zM506 277h2v24h-2zM528 277h2v24h-2zM538 277h2v24h-2zM554 277h2v24h-2zM568 277h2v24h-2zM594 277h2v24h-2zM434 301h2v21h-2zM412 322h2v19h-2zM436 322h2v19h-2zM474 322h4v19h-4zM480 322h2v19h-2zM500 322h2v19h-2zM386 341h2v17h-2zM454 341h2v17h-2zM462 341h2v17h-2zM522 341h2v17h-2zM578 341h2v17h-2zM428 358h2v15h-2zM446 358h2v15h-2z"/><path fill="#b9c431" d="M354 277h2v24h-2zM376 277h2v24h-2zM608 277h2v24h-2zM384 301h2v21h-2zM392 301h2v21h-2zM420 301h2v21h-2zM388 322h4v19h-4zM428 322h2v19h-2zM444 322h2v19h-2zM456 322h2v19h-2zM460 322h2v19h-2zM464 322h2v19h-2zM470 322h2v19h-2zM508 322h2v19h-2zM396 341h2v17h-2zM402 341h2v17h-2zM412 341h2v17h-2zM422 341h2v17h-2zM442 341h2v17h-2zM476 341h2v17h-2zM490 341h2v17h-2zM498 341h2v17h-2zM506 341h2v17h-2zM406 358h2v15h-2zM484 358h2v15h-2zM500 358h2v15h-2z"/><path fill="#4acb84" d="M366 277h2v24h-2zM432 277h2v24h-2zM452 277h2v24h-2zM470 277h2v24h-2zM488 277h2v24h-2zM504 277h2v24h-2zM570 277h2v24h-2zM596 277h2v24h-2zM602 277h4v24h-4zM336 301h4v21h-4zM424 301h2v21h-2zM438 301h2v21h-2zM466 301h2v21h-2zM492 301h2v21h-2zM496 301h2v21h-2zM576 301h2v21h-2zM590 301h2v21h-2zM442 322h2v19h-2zM454 322h2v19h-2zM458 322h2v19h-2zM462 322h2v19h-2zM578 322h2v19h-2zM410 358h4v15h-4zM480 358h2v15h-2zM504 358h2v15h-2zM534 358h2v15h-2zM556 358h2v15h-2zM392 373h2v13h-2z"/><path fill="#febe3c" d="M368 277h2v24h-2zM388 277h2v24h-2zM576 277h2v24h-2zM416 301h2v21h-2zM416 322h2v19h-2zM426 322h2v19h-2zM434 322h2v19h-2zM484 322h2v19h-2zM426 341h2v17h-2zM436 341h2v17h-2zM448 341h2v17h-2zM488 341h2v17h-2z"/><path fill="#fec338" d="M370 277h2v24h-2zM420 277h2v24h-2zM426 277h2v24h-2zM598 277h2v24h-2zM398 301h2v21h-2zM482 301h2v21h-2zM398 322h2v19h-2zM472 322h2v19h-2zM388 341h2v17h-2zM420 341h2v17h-2zM466 341h2v17h-2z"/><path fill="#f8ba3d" d="M372 277h2v24h-2zM384 277h2v24h-2zM438 277h2v24h-2zM524 277h2v24h-2zM558 277h2v24h-2zM406 301h2v21h-2zM506 301h2v21h-2zM428 341h2v17h-2zM398 358h2v15h-2z"/><path fill="#fccf30" d="M374 277h2v24h-2zM416 277h2v24h-2zM392 341h2v17h-2zM484 341h2v17h-2z"/><path fill="#f5e924" d="M378 277h2v24h-2zM416 341h2v17h-2z"/><path fill="#81cc59" d="M380 277h2v24h-2zM450 277h2v24h-2zM462 277h2v24h-2zM474 277h2v24h-2zM518 277h2v24h-2zM522 277h2v24h-2zM544 277h4v24h-4zM564 277h2v24h-2zM586 277h2v24h-2zM600 277h2v24h-2zM610 277h2v24h-2zM292 301h2v21h-2zM382 301h2v21h-2zM390 301h2v21h-2zM484 301h2v21h-2zM400 322h2v19h-2zM414 322h2v19h-2zM422 322h2v19h-2zM440 322h2v19h-2zM468 322h2v19h-2zM498 322h2v19h-2zM430 341h4v17h-4zM500 341h2v17h-2zM424 358h2v15h-2zM466 358h2v15h-2z"/><path fill="#e6bb2d" d="M382 277h2v24h-2zM418 277h2v24h-2zM578 277h2v24h-2zM488 301h2v21h-2zM392 322h2v19h-2zM418 322h2v19h-2zM446 322h2v19h-2zM482 322h2v19h-2zM410 341h2v17h-2zM424 341h2v17h-2zM444 341h2v17h-2zM450 341h2v17h-2zM468 341h2v17h-2zM474 341h2v17h-2z"/><path fill="#dcbd29" d="M386 277h2v24h-2zM390 277h2v24h-2zM402 277h2v24h-2zM434 277h2v24h-2zM368 301h2v21h-2zM412 301h2v21h-2zM382 322h2v19h-2zM430 322h2v19h-2zM488 322h2v19h-2zM394 341h2v17h-2zM438 341h2v17h-2zM446 341h2v17h-2zM456 341h2v17h-2zM464 341h2v17h-2zM486 341h2v17h-2zM502 341h4v17h-4zM508 341h2v17h-2zM416 358h2v15h-2z"/><path fill="#f7dc2a" d="M392 277h2v24h-2z"/><path fill="#fad62d" d="M398 277h2v24h-2zM556 277h2v24h-2zM482 341h2v17h-2z"/><path fill="#fec934" d="M406 277h2v24h-2zM612 277h1v24h-1zM398 341h2v17h-2zM418 341h2v17h-2z"/><path fill="#d1bf27" d="M476 277h2v24h-2zM482 277h2v24h-2zM426 301h2v21h-2zM386 322h2v19h-2zM402 322h2v19h-2zM420 322h2v19h-2zM448 322h2v19h-2zM390 341h2v17h-2zM452 341h2v17h-2zM480 341h2v17h-2zM492 341h4v17h-4zM418 358h2v15h-2zM434 358h2v15h-2zM508 358h2v15h-2z"/><path fill="#0bbdbd" d="M262 301h2v21h-2zM452 301h2v21h-2zM470 301h2v21h-2zM478 301h2v21h-2zM486 301h2v21h-2zM504 301h2v21h-2zM512 301h2v21h-2zM526 301h2v21h-2zM550 301h2v21h-2zM608 301h2v21h-2zM528 322h2v19h-2zM608 322h2v19h-2zM132 341h2v17h-2zM516 341h2v17h-2zM534 341h2v17h-2zM554 341h2v17h-2zM586 341h4v17h-4zM612 341h1v17h-1zM512 358h2v15h-2zM412 373h2v13h-2zM442 373h2v13h-2zM452 373h2v13h-2zM470 373h2v13h-2zM474 373h2v13h-2zM490 373h8v13h-8zM500 373h2v13h-2zM508 373h4v13h-4z"/><path fill="#02bac3" d="M334 301h2v21h-2zM348 301h4v21h-4zM442 301h2v21h-2zM554 301h2v21h-2zM564 301h2v21h-2zM580 301h2v21h-2zM598 301h2v21h-2zM544 322h2v19h-2zM548 322h2v19h-2zM586 322h4v19h-4zM598 322h2v19h-2zM524 341h2v17h-2zM544 341h2v17h-2zM548 341h2v17h-2zM522 358h2v15h-2zM606 358h2v15h-2zM396 373h2v13h-2zM400 373h2v13h-2zM410 373h2v13h-2zM432 373h2v13h-2zM440 373h2v13h-2zM450 373h2v13h-2zM462 373h2v13h-2zM486 373h4v13h-4z"/><path fill="#4332cb" d="M278 322h2v19h-2zM298 322h2v19h-2zM278 341h2v17h-2z"/><path fill="#402ab4" d="M272 341h2v17h-2z"/><path fill="#f9fb15" d="M414 341h2v17h-2z"/><path fill="#f6ef20" d="M472 341h2v17h-2z"/></g>
<rect x="223.6" y="4" width="1.2" height="414" fill="#3f6cf5" opacity="0.6"/>
<path d="M123.3,0V418.7H612.6" fill="none" stroke="#595757" stroke-width="1.3"/>
<path d="M612.9,0V418" stroke="#8c8c7a" stroke-width="0.9"/>
<path d="M123.6,180 C150,193 175,204 221.7,216.5 S 320,232 378,234.9 S 430,236.5 447.6,234.9 S 540,230 612,222.4" fill="none" stroke="#ffffff" stroke-width="4.6" stroke-dasharray="5.5 11.5" stroke-linecap="round"/>
<path d="M224,178L308.5,255.5M287.5,246.5L308.5,255.5L296.5,235" fill="none" stroke="#3ef0f2" stroke-width="2.6"/>
<text x="132.5" y="162" font-family="Liberation Serif" font-size="37.5" fill="#3ef0f2" textLength="276.5" lengthAdjust="spacingAndGlyphs">Lower-band chorus</text>
<text x="113.5" y="47.1" font-family="Liberation Serif" font-size="38" fill="#3e3a39" text-anchor="end">3</text>
<text x="113.5" y="203.1" font-family="Liberation Serif" font-size="38" fill="#3e3a39" text-anchor="end">2</text>
<text x="113.5" y="359.1" font-family="Liberation Serif" font-size="38" fill="#3e3a39" text-anchor="end">1</text>
<text transform="translate(65.6,176.8) rotate(-90)" font-family="Liberation Serif" font-size="37" fill="#231815" text-anchor="middle" textLength="107.6" lengthAdjust="spacingAndGlyphs"><tspan font-style="italic">F</tspan> (kHz)</text>
<text x="125.5" y="449.5" font-family="Liberation Serif" font-size="37" fill="#231815" text-anchor="middle">11:00</text>
<text x="231" y="449.5" font-family="Liberation Serif" font-size="37" fill="#231815" text-anchor="middle">11:20</text>
<text x="329.3" y="449.5" font-family="Liberation Serif" font-size="37" fill="#231815" text-anchor="middle">11:40</text>
<text x="427.4" y="449.5" font-family="Liberation Serif" font-size="37" fill="#231815" text-anchor="middle">12:00</text>
<text x="527" y="449.5" font-family="Liberation Serif" font-size="37" fill="#231815" text-anchor="middle">12:20</text>
<text x="616.2" y="449.5" font-family="Liberation Serif" font-size="37" fill="#231815" text-anchor="middle">12:40</text>
<rect x="473.5" y="428" width="16.3" height="16.5" fill="#0a0af5"/>
<rect x="655.5" y="49.7" width="21.4" height="334.9" fill="url(#parg)" stroke="#595757" stroke-width="1.2"/>
<path d="M676.8,105.5h-4.2M676.8,161.3h-4.2M676.8,217.1h-4.2M676.8,272.9h-4.2M676.8,328.7h-4.2" stroke="#595757" stroke-width="1.3"/>
<text x="682" y="62.2" font-family="Liberation Serif" font-size="32.3" fill="#231815">10</text>
<text x="714" y="48.7" font-family="Liberation Serif" font-size="26.5" fill="#3e3a39">-4</text>
<text x="682" y="118.0" font-family="Liberation Serif" font-size="32.3" fill="#231815">10</text>
<text x="714" y="104.5" font-family="Liberation Serif" font-size="26.5" fill="#3e3a39">-5</text>
<text x="682" y="173.8" font-family="Liberation Serif" font-size="32.3" fill="#231815">10</text>
<text x="714" y="160.3" font-family="Liberation Serif" font-size="26.5" fill="#3e3a39">-6</text>
<text x="682" y="229.6" font-family="Liberation Serif" font-size="32.3" fill="#231815">10</text>
<text x="714" y="216.1" font-family="Liberation Serif" font-size="26.5" fill="#3e3a39">-7</text>
<text x="682" y="285.4" font-family="Liberation Serif" font-size="32.3" fill="#231815">10</text>
<text x="714" y="271.9" font-family="Liberation Serif" font-size="26.5" fill="#3e3a39">-8</text>
<text x="682" y="341.2" font-family="Liberation Serif" font-size="32.3" fill="#231815">10</text>
<text x="714" y="327.7" font-family="Liberation Serif" font-size="26.5" fill="#3e3a39">-9</text>
<text x="682" y="397.0" font-family="Liberation Serif" font-size="32.3" fill="#231815">10</text>
<text x="714" y="383.5" font-family="Liberation Serif" font-size="26.5" fill="#3e3a39" textLength="29.5" lengthAdjust="spacingAndGlyphs">-10</text>
<text transform="translate(779.6,227) rotate(-90)" font-family="Liberation Serif" font-size="32" fill="#231815" text-anchor="middle" textLength="379" lengthAdjust="spacingAndGlyphs">Power spectral density (nT<tspan font-size="20" dy="-12">2</tspan><tspan dy="12">/Hz)</tspan></text>
<text x="-3" y="37.4" font-family="Liberation Sans" font-weight="bold" font-size="40" fill="#000">a</text>
<circle cx="42.5" cy="475" r="1.6" fill="#9fa080"/>
<defs><filter id="pf" x="0" y="0" width="1" height="1" filterUnits="objectBoundingBox" color-interpolation-filters="sRGB">
<feGaussianBlur in="SourceGraphic" stdDeviation="1.5" result="bl"/>
<feTurbulence type="fractalNoise" baseFrequency="0.17" numOctaves="1" seed="5" result="tn0"/><feGaussianBlur in="tn0" stdDeviation="0.8" result="tn"/>
<feColorMatrix in="tn" type="matrix" values="1 0 0 0 0 1 0 0 0 0 1 0 0 0 0 0 0 0 0 1" result="gn"/>
<feComposite in="bl" in2="gn" operator="arithmetic" k1="0" k2="1" k3="0.28" k4="-0.14" result="sum"/>
<feComponentTransfer in="sum"><feFuncR type="table" tableValues="0.242 0.250 0.258 0.265 0.271 0.275 0.278 0.280 0.281 0.281 0.280 0.276 0.270 0.260 0.244 0.221 0.196 0.183 0.179 0.176 0.169 0.154 0.146 0.138 0.125 0.111 0.095 0.069 0.030 0.004 0.007 0.043 0.096 0.141 0.172 0.194 0.216 0.247 0.291 0.341 0.391 0.446 0.504 0.562 0.617 0.672 0.724 0.774 0.820 0.863 0.903 0.939 0.973 0.996 0.997 0.995 0.989 0.979 0.968 0.961 0.960 0.963 0.969 0.977"/><feFuncG type="table" tableValues="0.150 0.165 0.182 0.198 0.215 0.234 0.256 0.278 0.301 0.323 0.345 0.367 0.389 0.412 0.436 0.460 0.485 0.507 0.529 0.550 0.570 0.590 0.609 0.628 0.646 0.663 0.680 0.695 0.708 0.720 0.731 0.741 0.750 0.758 0.767 0.776 0.784 0.792 0.797 0.801 0.803 0.802 0.799 0.794 0.788 0.779 0.770 0.760 0.750 0.741 0.733 0.729 0.730 0.743 0.766 0.789 0.814 0.839 0.864 0.889 0.913 0.937 0.961 0.984"/><feFuncB type="table" tableValues="0.660 0.708 0.751 0.795 0.836 0.871 0.899 0.922 0.941 0.958 0.972 0.983 0.991 0.995 0.999 0.997 0.989 0.980 0.968 0.952 0.936 0.922 0.908 0.897 0.888 0.876 0.860 0.839 0.816 0.792 0.766 0.739 0.712 0.684 0.655 0.625 0.592 0.557 0.519 0.479 0.435 0.391 0.348 0.304 0.261 0.223 0.191 0.165 0.153 0.160 0.177 0.210 0.239 0.237 0.220 0.203 0.189 0.177 0.164 0.154 0.142 0.127 0.106 0.081"/><feFuncA type="linear" slope="0" intercept="1"/></feComponentTransfer>
</filter><clipPath id="bclip"><rect x="116.8" y="518.0" width="496.40000000000003" height="423.0"/></clipPath></defs>
<g clip-path="url(#bclip)"><g filter="url(#pf)"><path fill="rgb(16,16,16)" d="M110.8 512h512v4h-512zM110.8 516h512v4h-512zM110.8 520h512v4h-512zM110.8 524h512v4h-512zM110.8 528h512v4h-512zM110.8 532h512v4h-512zM110.8 536h512v4h-512zM110.8 540h512v4h-512zM110.8 544h512v4h-512zM110.8 548h512v4h-512zM110.8 552h512v4h-512zM110.8 556h512v4h-512zM110.8 560h512v4h-512zM110.8 564h512v4h-512zM110.8 568h512v4h-512zM110.8 572h512v4h-512zM110.8 576h512v4h-512zM110.8 580h512v4h-512zM110.8 584h512v4h-512zM110.8 588h512v4h-512zM110.8 592h512v4h-512zM110.8 596h512v4h-512zM110.8 600h512v4h-512zM110.8 604h512v4h-512zM110.8 608h512v4h-512zM110.8 612h512v4h-512zM110.8 616h512v4h-512zM110.8 620h180v4h-180zM306.8 620h316v4h-316zM110.8 624h16v4h-16zM138.8 624h148v4h-148zM306.8 624h316v4h-316zM110.8 628h12v4h-12zM142.8 628h144v4h-144zM310.8 628h28v4h-28zM350.8 628h24v4h-24zM394.8 628h20v4h-20zM426.8 628h196v4h-196zM110.8 632h12v4h-12zM142.8 632h144v4h-144zM310.8 632h24v4h-24zM354.8 632h16v4h-16zM394.8 632h20v4h-20zM430.8 632h168v4h-168zM610.8 632h12v4h-12zM142.8 636h144v4h-144zM310.8 636h24v4h-24zM354.8 636h16v4h-16zM398.8 636h12v4h-12zM430.8 636h168v4h-168zM142.8 640h144v4h-144zM310.8 640h24v4h-24zM354.8 640h12v4h-12zM398.8 640h12v4h-12zM434.8 640h4v4h-4zM450.8 640h144v4h-144zM146.8 644h140v4h-140zM310.8 644h4v4h-4zM322.8 644h8v4h-8zM354.8 644h12v4h-12zM398.8 644h12v4h-12zM434.8 644h4v4h-4zM450.8 644h144v4h-144zM146.8 648h140v4h-140zM322.8 648h8v4h-8zM358.8 648h8v4h-8zM398.8 648h12v4h-12zM454.8 648h140v4h-140zM146.8 652h140v4h-140zM326.8 652h4v4h-4zM358.8 652h8v4h-8zM398.8 652h12v4h-12zM454.8 652h140v4h-140zM146.8 656h136v4h-136zM326.8 656h4v4h-4zM354.8 656h12v4h-12zM398.8 656h8v4h-8zM454.8 656h136v4h-136zM142.8 660h140v4h-140zM326.8 660h4v4h-4zM354.8 660h12v4h-12zM398.8 660h8v4h-8zM454.8 660h136v4h-136zM142.8 664h140v4h-140zM326.8 664h4v4h-4zM354.8 664h12v4h-12zM398.8 664h8v4h-8zM454.8 664h136v4h-136zM142.8 668h128v4h-128zM274.8 668h8v4h-8zM326.8 668h4v4h-4zM354.8 668h12v4h-12zM398.8 668h8v4h-8zM454.8 668h136v4h-136zM142.8 672h124v4h-124zM278.8 672h4v4h-4zM326.8 672h4v4h-4zM354.8 672h12v4h-12zM398.8 672h8v4h-8zM454.8 672h136v4h-136zM142.8 676h124v4h-124zM278.8 676h4v4h-4zM326.8 676h4v4h-4zM354.8 676h12v4h-12zM398.8 676h8v4h-8zM454.8 676h136v4h-136zM142.8 680h120v4h-120zM326.8 680h4v4h-4zM354.8 680h12v4h-12zM398.8 680h8v4h-8zM454.8 680h136v4h-136zM142.8 684h120v4h-120zM326.8 684h4v4h-4zM354.8 684h12v4h-12zM398.8 684h8v4h-8zM454.8 684h136v4h-136zM142.8 688h120v4h-120zM326.8 688h4v4h-4zM354.8 688h12v4h-12zM398.8 688h8v4h-8zM454.8 688h136v4h-136zM142.8 692h120v4h-120zM326.8 692h4v4h-4zM354.8 692h12v4h-12zM398.8 692h8v4h-8zM454.8 692h136v4h-136zM142.8 696h120v4h-120zM326.8 696h4v4h-4zM354.8 696h12v4h-12zM398.8 696h8v4h-8zM454.8 696h136v4h-136zM142.8 700h120v4h-120zM326.8 700h4v4h-4zM354.8 700h12v4h-12zM398.8 700h8v4h-8zM454.8 700h136v4h-136zM142.8 704h120v4h-120zM326.8 704h4v4h-4zM354.8 704h8v4h-8zM398.8 704h8v4h-8zM454.8 704h136v4h-136zM142.8 708h120v4h-120zM322.8 708h8v4h-8zM354.8 708h8v4h-8zM398.8 708h8v4h-8zM454.8 708h136v4h-136zM142.8 712h120v4h-120zM278.8 712h4v4h-4zM322.8 712h8v4h-8zM354.8 712h8v4h-8zM398.8 712h8v4h-8zM454.8 712h136v4h-136zM142.8 716h120v4h-120zM278.8 716h4v4h-4zM322.8 716h8v4h-8zM354.8 716h8v4h-8zM398.8 716h8v4h-8zM454.8 716h136v4h-136zM142.8 720h120v4h-120zM462.8 720h128v4h-128zM142.8 724h120v4h-120zM462.8 724h128v4h-128zM142.8 728h120v4h-120zM462.8 728h128v4h-128zM142.8 732h120v4h-120zM462.8 732h128v4h-128zM146.8 736h116v4h-116zM466.8 736h128v4h-128zM146.8 740h112v4h-112zM466.8 740h124v4h-124zM146.8 744h112v4h-112zM466.8 744h124v4h-124zM146.8 748h112v4h-112zM466.8 748h124v4h-124zM150.8 752h108v4h-108zM470.8 752h72v4h-72zM550.8 752h40v4h-40zM150.8 756h72v4h-72zM230.8 756h28v4h-28zM470.8 756h68v4h-68zM550.8 756h40v4h-40zM150.8 760h12v4h-12zM170.8 760h52v4h-52zM234.8 760h20v4h-20zM470.8 760h68v4h-68zM550.8 760h40v4h-40zM154.8 764h4v4h-4zM174.8 764h44v4h-44zM234.8 764h20v4h-20zM474.8 764h64v4h-64zM550.8 764h40v4h-40zM154.8 768h4v4h-4zM174.8 768h44v4h-44zM238.8 768h16v4h-16zM474.8 768h64v4h-64zM550.8 768h36v4h-36zM174.8 772h44v4h-44zM238.8 772h16v4h-16zM478.8 772h60v4h-60zM550.8 772h36v4h-36zM174.8 776h44v4h-44zM238.8 776h12v4h-12zM478.8 776h20v4h-20zM506.8 776h32v4h-32zM550.8 776h36v4h-36zM174.8 780h44v4h-44zM238.8 780h12v4h-12zM478.8 780h16v4h-16zM506.8 780h32v4h-32zM550.8 780h36v4h-36zM174.8 784h44v4h-44zM238.8 784h12v4h-12zM478.8 784h16v4h-16zM510.8 784h28v4h-28zM550.8 784h36v4h-36zM174.8 788h40v4h-40zM238.8 788h12v4h-12zM482.8 788h8v4h-8zM510.8 788h28v4h-28zM550.8 788h36v4h-36z"/><path fill="rgb(20,20,20)" d="M290.8 620h4v4h-4zM302.8 620h4v4h-4zM126.8 624h12v4h-12zM286.8 624h4v4h-4zM302.8 624h4v4h-4zM122.8 628h4v4h-4zM138.8 628h4v4h-4zM286.8 628h4v4h-4zM306.8 628h4v4h-4zM338.8 628h12v4h-12zM374.8 628h20v4h-20zM414.8 628h12v4h-12zM122.8 632h4v4h-4zM138.8 632h4v4h-4zM306.8 632h4v4h-4zM334.8 632h4v4h-4zM350.8 632h4v4h-4zM370.8 632h4v4h-4zM390.8 632h4v4h-4zM414.8 632h4v4h-4zM426.8 632h4v4h-4zM598.8 632h12v4h-12zM110.8 636h12v4h-12zM306.8 636h4v4h-4zM334.8 636h4v4h-4zM350.8 636h4v4h-4zM370.8 636h4v4h-4zM394.8 636h4v4h-4zM410.8 636h4v4h-4zM598.8 636h4v4h-4zM610.8 636h12v4h-12zM110.8 640h8v4h-8zM306.8 640h4v4h-4zM366.8 640h4v4h-4zM394.8 640h4v4h-4zM410.8 640h4v4h-4zM430.8 640h4v4h-4zM438.8 640h12v4h-12zM594.8 640h4v4h-4zM614.8 640h8v4h-8zM142.8 644h4v4h-4zM306.8 644h4v4h-4zM314.8 644h8v4h-8zM330.8 644h4v4h-4zM366.8 644h4v4h-4zM430.8 644h4v4h-4zM438.8 644h4v4h-4zM446.8 644h4v4h-4zM594.8 644h4v4h-4zM142.8 648h4v4h-4zM306.8 648h8v4h-8zM318.8 648h4v4h-4zM330.8 648h4v4h-4zM354.8 648h4v4h-4zM366.8 648h4v4h-4zM430.8 648h8v4h-8zM450.8 648h4v4h-4zM142.8 652h4v4h-4zM306.8 652h4v4h-4zM322.8 652h4v4h-4zM330.8 652h4v4h-4zM354.8 652h4v4h-4zM366.8 652h4v4h-4zM430.8 652h4v4h-4zM450.8 652h4v4h-4zM142.8 656h4v4h-4zM282.8 656h4v4h-4zM306.8 656h4v4h-4zM322.8 656h4v4h-4zM330.8 656h4v4h-4zM366.8 656h4v4h-4zM406.8 656h4v4h-4zM430.8 656h4v4h-4zM590.8 656h4v4h-4zM282.8 660h4v4h-4zM306.8 660h4v4h-4zM322.8 660h4v4h-4zM330.8 660h4v4h-4zM366.8 660h4v4h-4zM406.8 660h4v4h-4zM430.8 660h4v4h-4zM590.8 660h4v4h-4zM282.8 664h4v4h-4zM306.8 664h4v4h-4zM322.8 664h4v4h-4zM330.8 664h4v4h-4zM366.8 664h4v4h-4zM406.8 664h4v4h-4zM430.8 664h4v4h-4zM590.8 664h4v4h-4zM270.8 668h4v4h-4zM282.8 668h4v4h-4zM306.8 668h4v4h-4zM322.8 668h4v4h-4zM330.8 668h4v4h-4zM406.8 668h4v4h-4zM430.8 668h4v4h-4zM590.8 668h4v4h-4zM266.8 672h12v4h-12zM282.8 672h4v4h-4zM306.8 672h4v4h-4zM322.8 672h4v4h-4zM330.8 672h4v4h-4zM406.8 672h4v4h-4zM430.8 672h4v4h-4zM590.8 672h4v4h-4zM274.8 676h4v4h-4zM282.8 676h4v4h-4zM306.8 676h4v4h-4zM322.8 676h4v4h-4zM330.8 676h4v4h-4zM406.8 676h4v4h-4zM430.8 676h4v4h-4zM590.8 676h4v4h-4zM262.8 680h4v4h-4zM278.8 680h8v4h-8zM306.8 680h4v4h-4zM322.8 680h4v4h-4zM330.8 680h4v4h-4zM394.8 680h4v4h-4zM406.8 680h4v4h-4zM430.8 680h4v4h-4zM590.8 680h4v4h-4zM262.8 684h4v4h-4zM278.8 684h8v4h-8zM306.8 684h4v4h-4zM322.8 684h4v4h-4zM330.8 684h4v4h-4zM394.8 684h4v4h-4zM406.8 684h4v4h-4zM430.8 684h4v4h-4zM590.8 684h4v4h-4zM278.8 688h8v4h-8zM306.8 688h4v4h-4zM322.8 688h4v4h-4zM330.8 688h4v4h-4zM394.8 688h4v4h-4zM406.8 688h4v4h-4zM430.8 688h4v4h-4zM590.8 688h4v4h-4zM278.8 692h8v4h-8zM322.8 692h4v4h-4zM330.8 692h4v4h-4zM394.8 692h4v4h-4zM406.8 692h4v4h-4zM430.8 692h4v4h-4zM590.8 692h4v4h-4zM278.8 696h8v4h-8zM322.8 696h4v4h-4zM330.8 696h4v4h-4zM394.8 696h4v4h-4zM406.8 696h4v4h-4zM430.8 696h4v4h-4zM590.8 696h4v4h-4zM278.8 700h8v4h-8zM322.8 700h4v4h-4zM394.8 700h4v4h-4zM406.8 700h4v4h-4zM430.8 700h4v4h-4zM590.8 700h4v4h-4zM278.8 704h8v4h-8zM322.8 704h4v4h-4zM362.8 704h4v4h-4zM394.8 704h4v4h-4zM406.8 704h4v4h-4zM430.8 704h4v4h-4zM450.8 704h4v4h-4zM590.8 704h4v4h-4zM262.8 708h4v4h-4zM278.8 708h8v4h-8zM306.8 708h4v4h-4zM362.8 708h4v4h-4zM394.8 708h4v4h-4zM406.8 708h4v4h-4zM450.8 708h4v4h-4zM590.8 708h4v4h-4zM262.8 712h4v4h-4zM282.8 712h4v4h-4zM306.8 712h4v4h-4zM350.8 712h4v4h-4zM362.8 712h4v4h-4zM394.8 712h4v4h-4zM406.8 712h4v4h-4zM450.8 712h4v4h-4zM590.8 712h4v4h-4zM262.8 716h4v4h-4zM274.8 716h4v4h-4zM282.8 716h4v4h-4zM306.8 716h4v4h-4zM350.8 716h4v4h-4zM362.8 716h4v4h-4zM394.8 716h4v4h-4zM406.8 716h4v4h-4zM430.8 716h4v4h-4zM450.8 716h4v4h-4zM590.8 716h4v4h-4zM138.8 720h4v4h-4zM262.8 720h8v4h-8zM274.8 720h12v4h-12zM306.8 720h4v4h-4zM318.8 720h16v4h-16zM350.8 720h16v4h-16zM394.8 720h16v4h-16zM430.8 720h4v4h-4zM450.8 720h12v4h-12zM590.8 720h4v4h-4zM138.8 724h4v4h-4zM262.8 724h24v4h-24zM302.8 724h8v4h-8zM318.8 724h16v4h-16zM350.8 724h16v4h-16zM394.8 724h16v4h-16zM430.8 724h4v4h-4zM450.8 724h12v4h-12zM590.8 724h4v4h-4zM614.8 724h8v4h-8zM110.8 728h12v4h-12zM138.8 728h4v4h-4zM262.8 728h24v4h-24zM302.8 728h32v4h-32zM350.8 728h16v4h-16zM394.8 728h16v4h-16zM426.8 728h8v4h-8zM450.8 728h12v4h-12zM590.8 728h4v4h-4zM610.8 728h12v4h-12zM110.8 732h12v4h-12zM138.8 732h4v4h-4zM262.8 732h24v4h-24zM302.8 732h32v4h-32zM346.8 732h24v4h-24zM390.8 732h20v4h-20zM426.8 732h8v4h-8zM446.8 732h16v4h-16zM590.8 732h4v4h-4zM610.8 732h12v4h-12zM110.8 736h12v4h-12zM138.8 736h8v4h-8zM262.8 736h28v4h-28zM302.8 736h36v4h-36zM346.8 736h24v4h-24zM390.8 736h20v4h-20zM426.8 736h12v4h-12zM442.8 736h24v4h-24zM610.8 736h12v4h-12zM110.8 740h12v4h-12zM134.8 740h12v4h-12zM258.8 740h32v4h-32zM298.8 740h72v4h-72zM390.8 740h24v4h-24zM422.8 740h44v4h-44zM590.8 740h8v4h-8zM606.8 740h16v4h-16zM110.8 744h16v4h-16zM130.8 744h16v4h-16zM258.8 744h116v4h-116zM386.8 744h28v4h-28zM422.8 744h44v4h-44zM590.8 744h8v4h-8zM606.8 744h16v4h-16zM110.8 748h16v4h-16zM138.8 748h8v4h-8zM258.8 748h32v4h-32zM306.8 748h68v4h-68zM386.8 748h80v4h-80zM590.8 748h8v4h-8zM606.8 748h16v4h-16zM110.8 752h16v4h-16zM138.8 752h12v4h-12zM258.8 752h4v4h-4zM274.8 752h16v4h-16zM306.8 752h32v4h-32zM350.8 752h20v4h-20zM390.8 752h24v4h-24zM426.8 752h44v4h-44zM542.8 752h8v4h-8zM590.8 752h4v4h-4zM610.8 752h12v4h-12zM110.8 756h12v4h-12zM142.8 756h8v4h-8zM222.8 756h8v4h-8zM258.8 756h4v4h-4zM278.8 756h8v4h-8zM306.8 756h28v4h-28zM354.8 756h12v4h-12zM394.8 756h16v4h-16zM426.8 756h8v4h-8zM442.8 756h28v4h-28zM538.8 756h4v4h-4zM546.8 756h4v4h-4zM590.8 756h4v4h-4zM614.8 756h8v4h-8zM110.8 760h12v4h-12zM142.8 760h8v4h-8zM162.8 760h8v4h-8zM222.8 760h4v4h-4zM230.8 760h4v4h-4zM254.8 760h4v4h-4zM278.8 760h8v4h-8zM310.8 760h4v4h-4zM322.8 760h12v4h-12zM354.8 760h12v4h-12zM394.8 760h16v4h-16zM446.8 760h24v4h-24zM538.8 760h4v4h-4zM110.8 764h12v4h-12zM142.8 764h12v4h-12zM158.8 764h4v4h-4zM170.8 764h4v4h-4zM218.8 764h4v4h-4zM254.8 764h4v4h-4zM278.8 764h8v4h-8zM310.8 764h4v4h-4zM326.8 764h8v4h-8zM354.8 764h8v4h-8zM394.8 764h12v4h-12zM446.8 764h28v4h-28zM142.8 768h12v4h-12zM170.8 768h4v4h-4zM218.8 768h4v4h-4zM234.8 768h4v4h-4zM254.8 768h4v4h-4zM458.8 768h16v4h-16zM586.8 768h4v4h-4zM142.8 772h16v4h-16zM234.8 772h4v4h-4zM254.8 772h4v4h-4zM462.8 772h16v4h-16zM586.8 772h4v4h-4zM142.8 776h16v4h-16zM234.8 776h4v4h-4zM250.8 776h8v4h-8zM462.8 776h4v4h-4zM474.8 776h4v4h-4zM498.8 776h8v4h-8zM586.8 776h4v4h-4zM146.8 780h12v4h-12zM234.8 780h4v4h-4zM250.8 780h8v4h-8zM494.8 780h4v4h-4zM502.8 780h4v4h-4zM586.8 780h4v4h-4zM146.8 784h12v4h-12zM234.8 784h4v4h-4zM250.8 784h8v4h-8zM506.8 784h4v4h-4zM586.8 784h4v4h-4zM146.8 788h12v4h-12zM214.8 788h4v4h-4zM234.8 788h4v4h-4zM250.8 788h8v4h-8zM478.8 788h4v4h-4zM490.8 788h4v4h-4zM506.8 788h4v4h-4zM586.8 788h4v4h-4zM150.8 792h8v4h-8zM174.8 792h44v4h-44zM234.8 792h24v4h-24zM478.8 792h16v4h-16zM506.8 792h32v4h-32zM550.8 792h40v4h-40zM150.8 796h4v4h-4zM174.8 796h44v4h-44zM234.8 796h24v4h-24zM478.8 796h16v4h-16zM506.8 796h32v4h-32zM550.8 796h40v4h-40zM150.8 800h4v4h-4zM174.8 800h44v4h-44zM234.8 800h20v4h-20zM478.8 800h16v4h-16zM506.8 800h32v4h-32zM550.8 800h40v4h-40zM170.8 804h12v4h-12zM186.8 804h32v4h-32zM234.8 804h20v4h-20zM478.8 804h16v4h-16zM506.8 804h32v4h-32zM546.8 804h40v4h-40zM170.8 808h12v4h-12zM190.8 808h28v4h-28zM234.8 808h20v4h-20zM478.8 808h16v4h-16zM506.8 808h32v4h-32zM546.8 808h40v4h-40zM170.8 812h8v4h-8zM190.8 812h28v4h-28zM234.8 812h16v4h-16zM478.8 812h16v4h-16zM506.8 812h32v4h-32zM546.8 812h40v4h-40zM170.8 816h8v4h-8zM190.8 816h28v4h-28zM234.8 816h16v4h-16zM478.8 816h12v4h-12zM506.8 816h32v4h-32zM546.8 816h40v4h-40z"/><path fill="rgb(24,24,24)" d="M294.8 620h8v4h-8zM290.8 624h4v4h-4zM126.8 628h4v4h-4zM134.8 628h4v4h-4zM302.8 628h4v4h-4zM286.8 632h4v4h-4zM338.8 632h4v4h-4zM346.8 632h4v4h-4zM374.8 632h4v4h-4zM386.8 632h4v4h-4zM422.8 632h4v4h-4zM122.8 636h4v4h-4zM138.8 636h4v4h-4zM286.8 636h4v4h-4zM390.8 636h4v4h-4zM426.8 636h4v4h-4zM606.8 636h4v4h-4zM118.8 640h4v4h-4zM334.8 640h4v4h-4zM350.8 640h4v4h-4zM370.8 640h4v4h-4zM610.8 640h4v4h-4zM394.8 644h4v4h-4zM410.8 644h4v4h-4zM442.8 644h4v4h-4zM614.8 644h8v4h-8zM314.8 648h4v4h-4zM394.8 648h4v4h-4zM594.8 648h4v4h-4zM310.8 652h4v4h-4zM318.8 652h4v4h-4zM394.8 652h4v4h-4zM434.8 652h4v4h-4zM394.8 656h4v4h-4zM450.8 656h4v4h-4zM394.8 660h4v4h-4zM450.8 660h4v4h-4zM394.8 664h4v4h-4zM366.8 668h4v4h-4zM394.8 668h4v4h-4zM450.8 668h4v4h-4zM366.8 672h4v4h-4zM394.8 672h4v4h-4zM450.8 672h4v4h-4zM266.8 676h8v4h-8zM350.8 676h4v4h-4zM366.8 676h4v4h-4zM394.8 676h4v4h-4zM450.8 676h4v4h-4zM350.8 680h4v4h-4zM366.8 680h4v4h-4zM450.8 680h4v4h-4zM138.8 684h4v4h-4zM350.8 684h4v4h-4zM366.8 684h4v4h-4zM450.8 684h4v4h-4zM138.8 688h4v4h-4zM262.8 688h4v4h-4zM350.8 688h4v4h-4zM366.8 688h4v4h-4zM450.8 688h4v4h-4zM138.8 692h4v4h-4zM262.8 692h4v4h-4zM306.8 692h4v4h-4zM350.8 692h4v4h-4zM366.8 692h4v4h-4zM450.8 692h4v4h-4zM138.8 696h4v4h-4zM262.8 696h4v4h-4zM306.8 696h4v4h-4zM350.8 696h4v4h-4zM366.8 696h4v4h-4zM450.8 696h4v4h-4zM614.8 696h8v4h-8zM138.8 700h4v4h-4zM262.8 700h4v4h-4zM306.8 700h4v4h-4zM330.8 700h4v4h-4zM350.8 700h4v4h-4zM366.8 700h4v4h-4zM450.8 700h4v4h-4zM614.8 700h8v4h-8zM138.8 704h4v4h-4zM262.8 704h4v4h-4zM306.8 704h4v4h-4zM330.8 704h4v4h-4zM350.8 704h4v4h-4zM366.8 704h4v4h-4zM614.8 704h8v4h-8zM138.8 708h4v4h-4zM330.8 708h4v4h-4zM350.8 708h4v4h-4zM366.8 708h4v4h-4zM430.8 708h4v4h-4zM614.8 708h8v4h-8zM138.8 712h4v4h-4zM274.8 712h4v4h-4zM302.8 712h4v4h-4zM318.8 712h4v4h-4zM330.8 712h4v4h-4zM366.8 712h4v4h-4zM426.8 712h8v4h-8zM610.8 712h12v4h-12zM138.8 716h4v4h-4zM266.8 716h4v4h-4zM302.8 716h4v4h-4zM318.8 716h4v4h-4zM330.8 716h4v4h-4zM366.8 716h4v4h-4zM426.8 716h4v4h-4zM610.8 716h12v4h-12zM118.8 720h4v4h-4zM270.8 720h4v4h-4zM302.8 720h4v4h-4zM366.8 720h4v4h-4zM426.8 720h4v4h-4zM610.8 720h12v4h-12zM110.8 724h12v4h-12zM310.8 724h8v4h-8zM366.8 724h4v4h-4zM426.8 724h4v4h-4zM610.8 724h4v4h-4zM346.8 728h4v4h-4zM366.8 728h4v4h-4zM390.8 728h4v4h-4zM434.8 728h4v4h-4zM446.8 728h4v4h-4zM286.8 732h4v4h-4zM298.8 732h4v4h-4zM334.8 732h4v4h-4zM434.8 732h4v4h-4zM442.8 732h4v4h-4zM134.8 736h4v4h-4zM298.8 736h4v4h-4zM338.8 736h8v4h-8zM370.8 736h4v4h-4zM410.8 736h4v4h-4zM422.8 736h4v4h-4zM438.8 736h4v4h-4zM594.8 736h4v4h-4zM606.8 736h4v4h-4zM122.8 740h4v4h-4zM290.8 740h8v4h-8zM370.8 740h4v4h-4zM386.8 740h4v4h-4zM126.8 744h4v4h-4zM374.8 744h12v4h-12zM414.8 744h8v4h-8zM598.8 744h8v4h-8zM126.8 748h12v4h-12zM290.8 748h4v4h-4zM302.8 748h4v4h-4zM374.8 748h12v4h-12zM598.8 748h8v4h-8zM262.8 752h4v4h-4zM270.8 752h4v4h-4zM338.8 752h4v4h-4zM346.8 752h4v4h-4zM422.8 752h4v4h-4zM594.8 752h4v4h-4zM138.8 756h4v4h-4zM274.8 756h4v4h-4zM286.8 756h4v4h-4zM334.8 756h4v4h-4zM350.8 756h4v4h-4zM366.8 756h4v4h-4zM390.8 756h4v4h-4zM434.8 756h8v4h-8zM610.8 756h4v4h-4zM226.8 760h4v4h-4zM258.8 760h4v4h-4zM306.8 760h4v4h-4zM314.8 760h4v4h-4zM426.8 760h8v4h-8zM442.8 760h4v4h-4zM546.8 760h4v4h-4zM590.8 760h4v4h-4zM610.8 760h12v4h-12zM162.8 764h8v4h-8zM230.8 764h4v4h-4zM306.8 764h4v4h-4zM362.8 764h4v4h-4zM406.8 764h4v4h-4zM426.8 764h4v4h-4zM538.8 764h4v4h-4zM590.8 764h4v4h-4zM614.8 764h8v4h-8zM110.8 768h12v4h-12zM158.8 768h4v4h-4zM278.8 768h8v4h-8zM306.8 768h8v4h-8zM326.8 768h8v4h-8zM354.8 768h12v4h-12zM394.8 768h16v4h-16zM426.8 768h4v4h-4zM446.8 768h12v4h-12zM590.8 768h4v4h-4zM610.8 768h12v4h-12zM110.8 772h12v4h-12zM170.8 772h4v4h-4zM218.8 772h4v4h-4zM278.8 772h8v4h-8zM306.8 772h4v4h-4zM326.8 772h8v4h-8zM354.8 772h12v4h-12zM394.8 772h16v4h-16zM426.8 772h4v4h-4zM446.8 772h16v4h-16zM590.8 772h4v4h-4zM610.8 772h12v4h-12zM110.8 776h12v4h-12zM170.8 776h4v4h-4zM278.8 776h8v4h-8zM306.8 776h4v4h-4zM326.8 776h8v4h-8zM354.8 776h12v4h-12zM394.8 776h16v4h-16zM426.8 776h4v4h-4zM446.8 776h16v4h-16zM466.8 776h8v4h-8zM590.8 776h4v4h-4zM610.8 776h12v4h-12zM110.8 780h12v4h-12zM142.8 780h4v4h-4zM170.8 780h4v4h-4zM278.8 780h8v4h-8zM306.8 780h4v4h-4zM326.8 780h8v4h-8zM354.8 780h12v4h-12zM394.8 780h12v4h-12zM426.8 780h4v4h-4zM446.8 780h20v4h-20zM474.8 780h4v4h-4zM498.8 780h4v4h-4zM610.8 780h12v4h-12zM110.8 784h12v4h-12zM142.8 784h4v4h-4zM170.8 784h4v4h-4zM278.8 784h8v4h-8zM306.8 784h4v4h-4zM326.8 784h8v4h-8zM354.8 784h12v4h-12zM394.8 784h12v4h-12zM426.8 784h4v4h-4zM446.8 784h20v4h-20zM494.8 784h4v4h-4zM502.8 784h4v4h-4zM610.8 784h12v4h-12zM138.8 788h8v4h-8zM170.8 788h4v4h-4zM458.8 788h8v4h-8zM546.8 788h4v4h-4zM142.8 792h8v4h-8zM170.8 792h4v4h-4zM546.8 792h4v4h-4zM142.8 796h8v4h-8zM154.8 796h4v4h-4zM170.8 796h4v4h-4zM546.8 796h4v4h-4zM154.8 800h4v4h-4zM170.8 800h4v4h-4zM254.8 800h4v4h-4zM546.8 800h4v4h-4zM154.8 804h4v4h-4zM254.8 804h4v4h-4zM586.8 804h4v4h-4zM154.8 808h4v4h-4zM254.8 808h4v4h-4zM586.8 808h4v4h-4zM154.8 812h4v4h-4zM250.8 812h8v4h-8zM474.8 812h4v4h-4zM586.8 812h4v4h-4zM250.8 816h4v4h-4zM474.8 816h4v4h-4zM490.8 816h4v4h-4zM586.8 816h4v4h-4zM170.8 820h4v4h-4zM190.8 820h28v4h-28zM234.8 820h20v4h-20zM474.8 820h20v4h-20zM506.8 820h32v4h-32zM546.8 820h40v4h-40zM170.8 824h4v4h-4zM190.8 824h28v4h-28zM234.8 824h20v4h-20zM482.8 824h12v4h-12zM506.8 824h32v4h-32zM546.8 824h40v4h-40zM170.8 828h4v4h-4zM190.8 828h16v4h-16zM214.8 828h4v4h-4zM238.8 828h12v4h-12zM482.8 828h8v4h-8zM506.8 828h32v4h-32zM554.8 828h32v4h-32zM170.8 832h4v4h-4zM190.8 832h16v4h-16zM230.8 832h4v4h-4zM242.8 832h8v4h-8zM506.8 832h4v4h-4zM518.8 832h20v4h-20zM570.8 832h16v4h-16z"/><path fill="rgb(28,28,28)" d="M298.8 624h4v4h-4zM130.8 628h4v4h-4zM342.8 632h4v4h-4zM378.8 632h8v4h-8zM418.8 632h4v4h-4zM374.8 636h4v4h-4zM414.8 636h4v4h-4zM602.8 636h4v4h-4zM122.8 640h4v4h-4zM138.8 640h4v4h-4zM286.8 640h4v4h-4zM426.8 640h4v4h-4zM598.8 640h4v4h-4zM110.8 644h8v4h-8zM286.8 644h4v4h-4zM334.8 644h4v4h-4zM350.8 644h4v4h-4zM370.8 644h4v4h-4zM610.8 644h4v4h-4zM286.8 648h4v4h-4zM350.8 648h4v4h-4zM410.8 648h4v4h-4zM438.8 648h4v4h-4zM446.8 648h4v4h-4zM614.8 648h8v4h-8zM286.8 652h4v4h-4zM350.8 652h4v4h-4zM410.8 652h4v4h-4zM594.8 652h4v4h-4zM138.8 656h4v4h-4zM286.8 656h4v4h-4zM310.8 656h4v4h-4zM350.8 656h4v4h-4zM410.8 656h4v4h-4zM434.8 656h4v4h-4zM594.8 656h4v4h-4zM138.8 660h4v4h-4zM286.8 660h4v4h-4zM350.8 660h4v4h-4zM410.8 660h4v4h-4zM594.8 660h4v4h-4zM138.8 664h4v4h-4zM350.8 664h4v4h-4zM450.8 664h4v4h-4zM138.8 668h4v4h-4zM350.8 668h4v4h-4zM138.8 672h4v4h-4zM350.8 672h4v4h-4zM614.8 672h8v4h-8zM138.8 676h4v4h-4zM614.8 676h8v4h-8zM138.8 680h4v4h-4zM266.8 680h4v4h-4zM274.8 680h4v4h-4zM614.8 680h8v4h-8zM302.8 684h4v4h-4zM426.8 684h4v4h-4zM610.8 684h12v4h-12zM302.8 688h4v4h-4zM426.8 688h4v4h-4zM610.8 688h12v4h-12zM302.8 692h4v4h-4zM426.8 692h4v4h-4zM610.8 692h12v4h-12zM302.8 696h4v4h-4zM426.8 696h4v4h-4zM610.8 696h4v4h-4zM302.8 700h4v4h-4zM426.8 700h4v4h-4zM610.8 700h4v4h-4zM302.8 704h4v4h-4zM426.8 704h4v4h-4zM610.8 704h4v4h-4zM274.8 708h4v4h-4zM302.8 708h4v4h-4zM318.8 708h4v4h-4zM426.8 708h4v4h-4zM610.8 708h4v4h-4zM266.8 712h4v4h-4zM118.8 716h4v4h-4zM270.8 716h4v4h-4zM110.8 720h8v4h-8zM310.8 720h8v4h-8zM390.8 720h4v4h-4zM346.8 724h4v4h-4zM390.8 724h4v4h-4zM446.8 724h4v4h-4zM286.8 728h4v4h-4zM334.8 728h4v4h-4zM134.8 732h4v4h-4zM338.8 732h8v4h-8zM410.8 732h4v4h-4zM422.8 732h4v4h-4zM438.8 732h4v4h-4zM594.8 732h4v4h-4zM606.8 732h4v4h-4zM122.8 736h4v4h-4zM290.8 736h8v4h-8zM386.8 736h4v4h-4zM126.8 740h8v4h-8zM374.8 740h4v4h-4zM382.8 740h4v4h-4zM414.8 740h8v4h-8zM598.8 740h8v4h-8zM294.8 748h8v4h-8zM126.8 752h4v4h-4zM134.8 752h4v4h-4zM266.8 752h4v4h-4zM290.8 752h4v4h-4zM302.8 752h4v4h-4zM342.8 752h4v4h-4zM370.8 752h4v4h-4zM386.8 752h4v4h-4zM414.8 752h8v4h-8zM606.8 752h4v4h-4zM122.8 756h4v4h-4zM262.8 756h4v4h-4zM410.8 756h4v4h-4zM542.8 756h4v4h-4zM138.8 760h4v4h-4zM274.8 760h4v4h-4zM286.8 760h4v4h-4zM318.8 760h4v4h-4zM334.8 760h4v4h-4zM350.8 760h4v4h-4zM390.8 760h4v4h-4zM138.8 764h4v4h-4zM222.8 764h4v4h-4zM258.8 764h4v4h-4zM286.8 764h4v4h-4zM322.8 764h4v4h-4zM350.8 764h4v4h-4zM390.8 764h4v4h-4zM430.8 764h4v4h-4zM546.8 764h4v4h-4zM610.8 764h4v4h-4zM138.8 768h4v4h-4zM166.8 768h4v4h-4zM230.8 768h4v4h-4zM258.8 768h4v4h-4zM286.8 768h4v4h-4zM350.8 768h4v4h-4zM390.8 768h4v4h-4zM538.8 768h4v4h-4zM138.8 772h4v4h-4zM158.8 772h4v4h-4zM286.8 772h4v4h-4zM310.8 772h4v4h-4zM350.8 772h4v4h-4zM390.8 772h4v4h-4zM138.8 776h4v4h-4zM218.8 776h4v4h-4zM274.8 776h4v4h-4zM286.8 776h4v4h-4zM310.8 776h4v4h-4zM350.8 776h4v4h-4zM390.8 776h4v4h-4zM546.8 776h4v4h-4zM138.8 780h4v4h-4zM218.8 780h4v4h-4zM274.8 780h4v4h-4zM310.8 780h4v4h-4zM350.8 780h4v4h-4zM390.8 780h4v4h-4zM406.8 780h4v4h-4zM466.8 780h4v4h-4zM546.8 780h4v4h-4zM590.8 780h4v4h-4zM138.8 784h4v4h-4zM218.8 784h4v4h-4zM274.8 784h4v4h-4zM310.8 784h4v4h-4zM350.8 784h4v4h-4zM390.8 784h4v4h-4zM406.8 784h4v4h-4zM474.8 784h4v4h-4zM498.8 784h4v4h-4zM546.8 784h4v4h-4zM590.8 784h4v4h-4zM110.8 788h12v4h-12zM274.8 788h12v4h-12zM306.8 788h4v4h-4zM326.8 788h8v4h-8zM350.8 788h16v4h-16zM390.8 788h20v4h-20zM426.8 788h4v4h-4zM446.8 788h12v4h-12zM474.8 788h4v4h-4zM494.8 788h4v4h-4zM502.8 788h4v4h-4zM590.8 788h4v4h-4zM610.8 788h12v4h-12zM110.8 792h12v4h-12zM138.8 792h4v4h-4zM274.8 792h12v4h-12zM306.8 792h4v4h-4zM326.8 792h8v4h-8zM350.8 792h16v4h-16zM390.8 792h20v4h-20zM426.8 792h4v4h-4zM446.8 792h20v4h-20zM474.8 792h4v4h-4zM590.8 792h4v4h-4zM610.8 792h12v4h-12zM110.8 796h12v4h-12zM138.8 796h4v4h-4zM274.8 796h12v4h-12zM306.8 796h4v4h-4zM326.8 796h8v4h-8zM350.8 796h16v4h-16zM390.8 796h20v4h-20zM426.8 796h4v4h-4zM446.8 796h20v4h-20zM474.8 796h4v4h-4zM590.8 796h4v4h-4zM610.8 796h12v4h-12zM110.8 800h12v4h-12zM138.8 800h8v4h-8zM274.8 800h12v4h-12zM306.8 800h4v4h-4zM326.8 800h8v4h-8zM350.8 800h16v4h-16zM390.8 800h20v4h-20zM426.8 800h4v4h-4zM446.8 800h20v4h-20zM474.8 800h4v4h-4zM590.8 800h4v4h-4zM610.8 800h12v4h-12zM182.8 804h4v4h-4zM462.8 804h4v4h-4zM474.8 804h4v4h-4zM462.8 808h4v4h-4zM474.8 808h4v4h-4zM230.8 812h4v4h-4zM154.8 816h4v4h-4zM230.8 816h4v4h-4zM254.8 816h4v4h-4zM230.8 820h4v4h-4zM254.8 820h4v4h-4zM586.8 820h4v4h-4zM230.8 824h4v4h-4zM586.8 824h4v4h-4zM154.8 828h4v4h-4zM230.8 828h4v4h-4zM250.8 828h4v4h-4zM502.8 828h4v4h-4zM586.8 828h4v4h-4zM250.8 832h4v4h-4zM510.8 832h4v4h-4zM186.8 836h4v4h-4zM522.8 836h8v4h-8zM574.8 836h8v4h-8z"/><path fill="rgb(32,32,32)" d="M294.8 624h4v4h-4zM290.8 628h4v4h-4zM126.8 632h4v4h-4zM134.8 632h4v4h-4zM302.8 632h4v4h-4zM338.8 636h4v4h-4zM346.8 636h4v4h-4zM422.8 636h4v4h-4zM390.8 640h4v4h-4zM606.8 640h4v4h-4zM118.8 644h8v4h-8zM138.8 644h4v4h-4zM426.8 644h4v4h-4zM138.8 648h4v4h-4zM334.8 648h4v4h-4zM370.8 648h4v4h-4zM442.8 648h4v4h-4zM610.8 648h4v4h-4zM138.8 652h4v4h-4zM314.8 652h4v4h-4zM446.8 652h4v4h-4zM614.8 652h8v4h-8zM318.8 656h4v4h-4zM614.8 656h8v4h-8zM434.8 660h4v4h-4zM614.8 660h8v4h-8zM286.8 664h4v4h-4zM302.8 664h4v4h-4zM410.8 664h4v4h-4zM426.8 664h4v4h-4zM594.8 664h4v4h-4zM610.8 664h12v4h-12zM286.8 668h4v4h-4zM302.8 668h4v4h-4zM410.8 668h4v4h-4zM426.8 668h4v4h-4zM594.8 668h4v4h-4zM610.8 668h12v4h-12zM286.8 672h4v4h-4zM302.8 672h4v4h-4zM410.8 672h4v4h-4zM426.8 672h4v4h-4zM594.8 672h4v4h-4zM610.8 672h4v4h-4zM286.8 676h4v4h-4zM302.8 676h4v4h-4zM410.8 676h4v4h-4zM426.8 676h4v4h-4zM594.8 676h4v4h-4zM610.8 676h4v4h-4zM270.8 680h4v4h-4zM286.8 680h4v4h-4zM302.8 680h4v4h-4zM410.8 680h4v4h-4zM426.8 680h4v4h-4zM594.8 680h4v4h-4zM610.8 680h4v4h-4zM274.8 684h4v4h-4zM274.8 700h4v4h-4zM274.8 704h4v4h-4zM318.8 704h4v4h-4zM390.8 704h4v4h-4zM266.8 708h4v4h-4zM390.8 708h4v4h-4zM118.8 712h4v4h-4zM270.8 712h4v4h-4zM390.8 712h4v4h-4zM110.8 716h8v4h-8zM310.8 716h4v4h-4zM390.8 716h4v4h-4zM346.8 720h4v4h-4zM446.8 720h4v4h-4zM286.8 724h4v4h-4zM334.8 724h4v4h-4zM434.8 724h4v4h-4zM134.8 728h4v4h-4zM298.8 728h4v4h-4zM410.8 728h4v4h-4zM442.8 728h4v4h-4zM594.8 728h4v4h-4zM122.8 732h4v4h-4zM370.8 732h4v4h-4zM386.8 732h4v4h-4zM130.8 736h4v4h-4zM378.8 740h4v4h-4zM598.8 752h4v4h-4zM270.8 756h4v4h-4zM346.8 756h4v4h-4zM422.8 756h4v4h-4zM594.8 756h4v4h-4zM122.8 760h4v4h-4zM366.8 760h4v4h-4zM434.8 760h8v4h-8zM226.8 764h4v4h-4zM274.8 764h4v4h-4zM314.8 764h4v4h-4zM442.8 764h4v4h-4zM162.8 768h4v4h-4zM274.8 768h4v4h-4zM322.8 768h4v4h-4zM546.8 768h4v4h-4zM258.8 772h4v4h-4zM274.8 772h4v4h-4zM538.8 772h4v4h-4zM546.8 772h4v4h-4zM258.8 776h4v4h-4zM538.8 776h4v4h-4zM258.8 780h4v4h-4zM286.8 780h4v4h-4zM470.8 780h4v4h-4zM538.8 780h4v4h-4zM258.8 784h4v4h-4zM286.8 784h4v4h-4zM218.8 788h4v4h-4zM258.8 788h4v4h-4zM286.8 788h4v4h-4zM310.8 788h4v4h-4zM218.8 792h4v4h-4zM286.8 792h4v4h-4zM310.8 792h4v4h-4zM494.8 792h4v4h-4zM502.8 792h4v4h-4zM218.8 796h4v4h-4zM230.8 796h4v4h-4zM310.8 796h4v4h-4zM322.8 796h4v4h-4zM218.8 800h4v4h-4zM230.8 800h4v4h-4zM310.8 800h4v4h-4zM322.8 800h4v4h-4zM110.8 804h12v4h-12zM138.8 804h4v4h-4zM150.8 804h4v4h-4zM230.8 804h4v4h-4zM274.8 804h12v4h-12zM322.8 804h12v4h-12zM350.8 804h4v4h-4zM362.8 804h4v4h-4zM390.8 804h20v4h-20zM426.8 804h4v4h-4zM446.8 804h16v4h-16zM502.8 804h4v4h-4zM590.8 804h4v4h-4zM610.8 804h12v4h-12zM110.8 808h12v4h-12zM230.8 808h4v4h-4zM274.8 808h12v4h-12zM330.8 808h4v4h-4zM362.8 808h4v4h-4zM394.8 808h16v4h-16zM426.8 808h4v4h-4zM446.8 808h16v4h-16zM502.8 808h4v4h-4zM590.8 808h4v4h-4zM110.8 812h12v4h-12zM274.8 812h4v4h-4zM330.8 812h4v4h-4zM398.8 812h12v4h-12zM446.8 812h12v4h-12zM462.8 812h4v4h-4zM502.8 812h4v4h-4zM590.8 812h4v4h-4zM502.8 816h4v4h-4zM590.8 816h4v4h-4zM154.8 820h4v4h-4zM502.8 820h4v4h-4zM590.8 820h4v4h-4zM154.8 824h4v4h-4zM254.8 824h4v4h-4zM502.8 824h4v4h-4zM206.8 828h4v4h-4zM234.8 828h4v4h-4zM254.8 828h4v4h-4zM546.8 828h4v4h-4zM238.8 832h4v4h-4zM254.8 832h4v4h-4zM558.8 832h4v4h-4zM586.8 832h4v4h-4zM166.8 836h4v4h-4zM198.8 836h4v4h-4zM246.8 836h8v4h-8zM522.8 840h4v4h-4z"/><path fill="rgb(36,36,36)" d="M302.8 636h4v4h-4zM342.8 636h4v4h-4zM386.8 636h4v4h-4zM418.8 636h4v4h-4zM414.8 640h4v4h-4zM602.8 640h4v4h-4zM302.8 644h4v4h-4zM390.8 644h4v4h-4zM598.8 644h4v4h-4zM110.8 648h8v4h-8zM122.8 648h4v4h-4zM302.8 648h4v4h-4zM426.8 648h4v4h-4zM122.8 652h4v4h-4zM302.8 652h4v4h-4zM334.8 652h4v4h-4zM370.8 652h4v4h-4zM426.8 652h4v4h-4zM438.8 652h4v4h-4zM610.8 652h4v4h-4zM122.8 656h4v4h-4zM302.8 656h4v4h-4zM334.8 656h4v4h-4zM370.8 656h4v4h-4zM426.8 656h4v4h-4zM610.8 656h4v4h-4zM122.8 660h4v4h-4zM302.8 660h4v4h-4zM310.8 660h4v4h-4zM334.8 660h4v4h-4zM370.8 660h4v4h-4zM426.8 660h4v4h-4zM610.8 660h4v4h-4zM334.8 664h4v4h-4zM370.8 664h4v4h-4zM434.8 664h4v4h-4zM434.8 668h4v4h-4zM434.8 672h4v4h-4zM434.8 676h4v4h-4zM390.8 680h4v4h-4zM434.8 680h4v4h-4zM266.8 684h4v4h-4zM286.8 684h4v4h-4zM390.8 684h4v4h-4zM410.8 684h4v4h-4zM594.8 684h4v4h-4zM274.8 688h4v4h-4zM286.8 688h4v4h-4zM390.8 688h4v4h-4zM410.8 688h4v4h-4zM594.8 688h4v4h-4zM274.8 692h4v4h-4zM286.8 692h4v4h-4zM390.8 692h4v4h-4zM410.8 692h4v4h-4zM594.8 692h4v4h-4zM274.8 696h4v4h-4zM286.8 696h4v4h-4zM390.8 696h4v4h-4zM410.8 696h4v4h-4zM594.8 696h4v4h-4zM286.8 700h4v4h-4zM318.8 700h4v4h-4zM390.8 700h4v4h-4zM410.8 700h4v4h-4zM594.8 700h4v4h-4zM118.8 708h4v4h-4zM310.8 712h4v4h-4zM314.8 716h4v4h-4zM446.8 716h4v4h-4zM286.8 720h4v4h-4zM334.8 720h4v4h-4zM434.8 720h4v4h-4zM134.8 724h4v4h-4zM298.8 724h4v4h-4zM410.8 724h4v4h-4zM594.8 724h4v4h-4zM338.8 728h8v4h-8zM370.8 728h4v4h-4zM422.8 728h4v4h-4zM438.8 728h4v4h-4zM606.8 728h4v4h-4zM290.8 732h8v4h-8zM126.8 736h4v4h-4zM374.8 736h4v4h-4zM382.8 736h4v4h-4zM414.8 736h8v4h-8zM598.8 736h8v4h-8zM130.8 752h4v4h-4zM374.8 752h12v4h-12zM602.8 752h4v4h-4zM266.8 756h4v4h-4zM302.8 756h4v4h-4zM338.8 756h4v4h-4zM370.8 756h4v4h-4zM386.8 756h4v4h-4zM606.8 756h4v4h-4zM410.8 760h4v4h-4zM542.8 760h4v4h-4zM122.8 764h4v4h-4zM318.8 764h4v4h-4zM334.8 764h4v4h-4zM366.8 764h4v4h-4zM122.8 768h4v4h-4zM222.8 768h4v4h-4zM334.8 768h4v4h-4zM366.8 768h4v4h-4zM430.8 768h4v4h-4zM166.8 772h4v4h-4zM230.8 772h4v4h-4zM322.8 772h4v4h-4zM366.8 772h4v4h-4zM158.8 776h4v4h-4zM366.8 776h4v4h-4zM230.8 780h4v4h-4zM322.8 780h4v4h-4zM230.8 784h4v4h-4zM322.8 784h4v4h-4zM466.8 784h4v4h-4zM538.8 784h4v4h-4zM230.8 788h4v4h-4zM302.8 788h4v4h-4zM322.8 788h4v4h-4zM498.8 788h4v4h-4zM538.8 788h4v4h-4zM230.8 792h4v4h-4zM258.8 792h4v4h-4zM302.8 792h4v4h-4zM322.8 792h4v4h-4zM258.8 796h4v4h-4zM286.8 796h4v4h-4zM302.8 796h4v4h-4zM442.8 796h4v4h-4zM494.8 796h4v4h-4zM502.8 796h4v4h-4zM258.8 800h4v4h-4zM286.8 800h4v4h-4zM302.8 800h4v4h-4zM442.8 800h4v4h-4zM494.8 800h4v4h-4zM502.8 800h4v4h-4zM218.8 804h4v4h-4zM258.8 804h4v4h-4zM286.8 804h4v4h-4zM310.8 804h4v4h-4zM442.8 804h4v4h-4zM494.8 804h4v4h-4zM186.8 808h4v4h-4zM218.8 808h4v4h-4zM258.8 808h4v4h-4zM286.8 808h4v4h-4zM310.8 808h4v4h-4zM350.8 808h4v4h-4zM442.8 808h4v4h-4zM494.8 808h4v4h-4zM218.8 812h4v4h-4zM422.8 812h4v4h-4zM442.8 812h4v4h-4zM494.8 812h4v4h-4zM110.8 816h12v4h-12zM218.8 816h4v4h-4zM398.8 816h12v4h-12zM442.8 816h12v4h-12zM494.8 816h4v4h-4zM110.8 820h8v4h-8zM166.8 820h4v4h-4zM402.8 820h8v4h-8zM442.8 820h8v4h-8zM166.8 824h4v4h-4zM478.8 824h4v4h-4zM590.8 824h4v4h-4zM166.8 828h4v4h-4zM550.8 828h4v4h-4zM590.8 828h4v4h-4zM166.8 832h4v4h-4zM186.8 832h4v4h-4zM482.8 832h4v4h-4zM514.8 832h4v4h-4zM554.8 832h4v4h-4zM518.8 836h4v4h-4zM530.8 836h4v4h-4zM570.8 836h4v4h-4zM586.8 836h4v4h-4z"/><path fill="rgb(40,40,40)" d="M298.8 628h4v4h-4zM130.8 632h4v4h-4zM290.8 632h4v4h-4zM378.8 636h8v4h-8zM302.8 640h4v4h-4zM338.8 640h4v4h-4zM346.8 640h4v4h-4zM374.8 640h4v4h-4zM118.8 648h4v4h-4zM390.8 648h4v4h-4zM318.8 660h4v4h-4zM390.8 660h4v4h-4zM122.8 664h4v4h-4zM310.8 664h4v4h-4zM390.8 664h4v4h-4zM122.8 668h4v4h-4zM334.8 668h4v4h-4zM370.8 668h4v4h-4zM390.8 668h4v4h-4zM122.8 672h4v4h-4zM334.8 672h4v4h-4zM370.8 672h4v4h-4zM390.8 672h4v4h-4zM122.8 676h4v4h-4zM334.8 676h4v4h-4zM370.8 676h4v4h-4zM390.8 676h4v4h-4zM334.8 680h4v4h-4zM370.8 680h4v4h-4zM318.8 684h4v4h-4zM334.8 684h4v4h-4zM370.8 684h4v4h-4zM434.8 684h4v4h-4zM266.8 688h4v4h-4zM318.8 688h4v4h-4zM434.8 688h4v4h-4zM318.8 692h4v4h-4zM434.8 692h4v4h-4zM318.8 696h4v4h-4zM434.8 696h4v4h-4zM118.8 704h4v4h-4zM266.8 704h4v4h-4zM286.8 704h4v4h-4zM410.8 704h4v4h-4zM594.8 704h4v4h-4zM270.8 708h4v4h-4zM286.8 708h4v4h-4zM410.8 708h4v4h-4zM594.8 708h4v4h-4zM110.8 712h8v4h-8zM286.8 712h4v4h-4zM410.8 712h4v4h-4zM446.8 712h4v4h-4zM594.8 712h4v4h-4zM286.8 716h4v4h-4zM346.8 716h4v4h-4zM410.8 716h4v4h-4zM434.8 716h4v4h-4zM594.8 716h4v4h-4zM134.8 720h4v4h-4zM410.8 720h4v4h-4zM594.8 720h4v4h-4zM370.8 724h4v4h-4zM442.8 724h4v4h-4zM122.8 728h4v4h-4zM386.8 728h4v4h-4zM378.8 736h4v4h-4zM294.8 752h8v4h-8zM126.8 756h4v4h-4zM134.8 756h4v4h-4zM290.8 756h4v4h-4zM342.8 756h4v4h-4zM414.8 756h4v4h-4zM262.8 760h4v4h-4zM422.8 760h4v4h-4zM594.8 760h4v4h-4zM314.8 768h4v4h-4zM442.8 768h4v4h-4zM122.8 772h4v4h-4zM302.8 772h4v4h-4zM334.8 772h4v4h-4zM122.8 776h4v4h-4zM230.8 776h4v4h-4zM302.8 776h4v4h-4zM322.8 776h4v4h-4zM334.8 776h4v4h-4zM122.8 780h4v4h-4zM158.8 780h4v4h-4zM302.8 780h4v4h-4zM334.8 780h4v4h-4zM366.8 780h4v4h-4zM442.8 780h4v4h-4zM122.8 784h4v4h-4zM158.8 784h4v4h-4zM302.8 784h4v4h-4zM334.8 784h4v4h-4zM366.8 784h4v4h-4zM442.8 784h4v4h-4zM470.8 784h4v4h-4zM158.8 788h4v4h-4zM366.8 788h4v4h-4zM442.8 788h4v4h-4zM366.8 792h4v4h-4zM442.8 792h4v4h-4zM538.8 792h4v4h-4zM366.8 796h4v4h-4zM422.8 796h4v4h-4zM538.8 796h4v4h-4zM606.8 796h4v4h-4zM386.8 800h4v4h-4zM422.8 800h4v4h-4zM538.8 800h4v4h-4zM606.8 800h4v4h-4zM302.8 804h4v4h-4zM354.8 804h4v4h-4zM386.8 804h4v4h-4zM422.8 804h4v4h-4zM606.8 804h4v4h-4zM138.8 808h4v4h-4zM166.8 808h4v4h-4zM386.8 808h4v4h-4zM422.8 808h4v4h-4zM606.8 808h4v4h-4zM166.8 812h4v4h-4zM258.8 812h4v4h-4zM286.8 812h4v4h-4zM346.8 812h4v4h-4zM166.8 816h4v4h-4zM258.8 816h4v4h-4zM274.8 816h4v4h-4zM286.8 816h4v4h-4zM462.8 816h4v4h-4zM118.8 820h4v4h-4zM218.8 820h4v4h-4zM258.8 820h4v4h-4zM270.8 820h4v4h-4zM286.8 820h4v4h-4zM494.8 820h4v4h-4zM110.8 824h8v4h-8zM218.8 824h4v4h-4zM258.8 824h4v4h-4zM402.8 824h8v4h-8zM442.8 824h4v4h-4zM494.8 824h4v4h-4zM210.8 828h4v4h-4zM490.8 828h8v4h-8zM502.8 832h4v4h-4zM590.8 832h4v4h-4zM170.8 836h4v4h-4zM242.8 836h4v4h-4zM254.8 836h4v4h-4zM534.8 836h4v4h-4zM582.8 836h4v4h-4zM590.8 836h4v4h-4zM186.8 840h4v4h-4zM250.8 840h4v4h-4zM526.8 840h4v4h-4zM574.8 840h4v4h-4z"/><path fill="rgb(45,45,45)" d="M294.8 628h4v4h-4zM126.8 636h4v4h-4zM134.8 636h4v4h-4zM422.8 640h4v4h-4zM606.8 644h4v4h-4zM110.8 652h8v4h-8zM390.8 652h4v4h-4zM442.8 652h4v4h-4zM314.8 656h4v4h-4zM390.8 656h4v4h-4zM446.8 656h4v4h-4zM318.8 664h4v4h-4zM310.8 668h4v4h-4zM310.8 672h4v4h-4zM318.8 672h4v4h-4zM318.8 676h4v4h-4zM122.8 680h4v4h-4zM318.8 680h4v4h-4zM122.8 684h4v4h-4zM270.8 684h4v4h-4zM122.8 688h4v4h-4zM334.8 688h4v4h-4zM370.8 688h4v4h-4zM122.8 692h4v4h-4zM266.8 692h4v4h-4zM334.8 692h4v4h-4zM370.8 692h4v4h-4zM266.8 696h4v4h-4zM334.8 696h4v4h-4zM370.8 696h4v4h-4zM446.8 696h4v4h-4zM118.8 700h4v4h-4zM266.8 700h4v4h-4zM370.8 700h4v4h-4zM434.8 700h4v4h-4zM446.8 700h4v4h-4zM270.8 704h4v4h-4zM370.8 704h4v4h-4zM434.8 704h4v4h-4zM446.8 704h4v4h-4zM310.8 708h4v4h-4zM434.8 708h4v4h-4zM446.8 708h4v4h-4zM314.8 712h4v4h-4zM346.8 712h4v4h-4zM434.8 712h4v4h-4zM134.8 716h4v4h-4zM334.8 716h4v4h-4zM298.8 720h4v4h-4zM370.8 720h4v4h-4zM122.8 724h4v4h-4zM342.8 724h4v4h-4zM422.8 724h4v4h-4zM438.8 724h4v4h-4zM606.8 724h4v4h-4zM290.8 728h4v4h-4zM130.8 732h4v4h-4zM374.8 732h4v4h-4zM382.8 732h4v4h-4zM414.8 732h8v4h-8zM598.8 732h8v4h-8zM418.8 756h4v4h-4zM270.8 760h4v4h-4zM302.8 760h4v4h-4zM346.8 760h4v4h-4zM386.8 760h4v4h-4zM606.8 760h4v4h-4zM302.8 764h4v4h-4zM410.8 764h4v4h-4zM434.8 764h8v4h-8zM594.8 764h4v4h-4zM226.8 768h4v4h-4zM302.8 768h4v4h-4zM162.8 772h4v4h-4zM430.8 772h4v4h-4zM442.8 772h4v4h-4zM166.8 776h4v4h-4zM430.8 776h4v4h-4zM442.8 776h4v4h-4zM386.8 780h4v4h-4zM430.8 780h4v4h-4zM386.8 784h4v4h-4zM422.8 784h4v4h-4zM606.8 784h4v4h-4zM122.8 788h4v4h-4zM334.8 788h4v4h-4zM386.8 788h4v4h-4zM422.8 788h4v4h-4zM466.8 788h4v4h-4zM606.8 788h4v4h-4zM122.8 792h4v4h-4zM158.8 792h4v4h-4zM166.8 792h4v4h-4zM334.8 792h4v4h-4zM386.8 792h4v4h-4zM422.8 792h4v4h-4zM498.8 792h4v4h-4zM606.8 792h4v4h-4zM122.8 796h4v4h-4zM158.8 796h4v4h-4zM166.8 796h4v4h-4zM334.8 796h4v4h-4zM386.8 796h4v4h-4zM134.8 800h4v4h-4zM158.8 800h4v4h-4zM166.8 800h4v4h-4zM346.8 800h4v4h-4zM366.8 800h4v4h-4zM134.8 804h4v4h-4zM158.8 804h4v4h-4zM166.8 804h4v4h-4zM270.8 804h4v4h-4zM346.8 804h4v4h-4zM366.8 804h4v4h-4zM538.8 804h4v4h-4zM270.8 808h4v4h-4zM346.8 808h4v4h-4zM366.8 808h4v4h-4zM470.8 808h4v4h-4zM538.8 808h4v4h-4zM270.8 812h4v4h-4zM278.8 812h8v4h-8zM366.8 812h4v4h-4zM470.8 812h4v4h-4zM270.8 816h4v4h-4zM366.8 816h4v4h-4zM470.8 816h4v4h-4zM470.8 820h4v4h-4zM498.8 820h4v4h-4zM470.8 824h4v4h-4zM498.8 824h4v4h-4zM110.8 828h8v4h-8zM258.8 828h4v4h-4zM402.8 828h8v4h-8zM442.8 828h4v4h-4zM498.8 828h4v4h-4zM110.8 832h8v4h-8zM402.8 832h8v4h-8zM566.8 832h4v4h-4zM202.8 836h4v4h-4zM238.8 836h4v4h-4zM506.8 836h4v4h-4zM590.8 840h4v4h-4zM498.8 932h4v4h-4zM554.8 932h4v4h-4zM498.8 936h4v4h-4zM554.8 936h4v4h-4zM498.8 940h4v4h-4zM522.8 940h4v4h-4zM554.8 940h4v4h-4zM498.8 944h4v4h-4zM522.8 944h4v4h-4zM554.8 944h4v4h-4z"/><path fill="rgb(49,49,49)" d="M290.8 636h4v4h-4zM386.8 640h4v4h-4zM414.8 644h4v4h-4zM598.8 648h4v4h-4zM118.8 652h4v4h-4zM110.8 656h8v4h-8zM438.8 656h4v4h-4zM110.8 660h8v4h-8zM110.8 664h8v4h-8zM318.8 668h4v4h-4zM118.8 676h4v4h-4zM310.8 676h4v4h-4zM118.8 680h4v4h-4zM310.8 680h4v4h-4zM446.8 680h4v4h-4zM118.8 684h4v4h-4zM310.8 684h4v4h-4zM446.8 684h4v4h-4zM118.8 688h4v4h-4zM446.8 688h4v4h-4zM118.8 692h4v4h-4zM446.8 692h4v4h-4zM118.8 696h8v4h-8zM346.8 696h4v4h-4zM122.8 700h4v4h-4zM334.8 700h4v4h-4zM346.8 700h4v4h-4zM122.8 704h4v4h-4zM134.8 704h4v4h-4zM310.8 704h4v4h-4zM334.8 704h4v4h-4zM346.8 704h4v4h-4zM110.8 708h8v4h-8zM134.8 708h4v4h-4zM334.8 708h4v4h-4zM346.8 708h4v4h-4zM370.8 708h4v4h-4zM134.8 712h4v4h-4zM334.8 712h4v4h-4zM370.8 712h4v4h-4zM370.8 716h4v4h-4zM122.8 720h4v4h-4zM422.8 720h4v4h-4zM606.8 720h4v4h-4zM338.8 724h4v4h-4zM386.8 724h4v4h-4zM294.8 728h4v4h-4zM126.8 732h4v4h-4zM130.8 756h4v4h-4zM374.8 756h4v4h-4zM382.8 756h4v4h-4zM598.8 756h4v4h-4zM134.8 760h4v4h-4zM290.8 760h4v4h-4zM338.8 760h4v4h-4zM370.8 760h4v4h-4zM262.8 764h4v4h-4zM386.8 764h4v4h-4zM422.8 764h4v4h-4zM542.8 764h4v4h-4zM318.8 768h4v4h-4zM386.8 768h4v4h-4zM410.8 768h4v4h-4zM422.8 768h4v4h-4zM594.8 768h4v4h-4zM606.8 768h4v4h-4zM222.8 772h4v4h-4zM386.8 772h4v4h-4zM410.8 772h4v4h-4zM422.8 772h4v4h-4zM594.8 772h4v4h-4zM606.8 772h4v4h-4zM386.8 776h4v4h-4zM410.8 776h4v4h-4zM422.8 776h4v4h-4zM594.8 776h4v4h-4zM606.8 776h4v4h-4zM166.8 780h4v4h-4zM422.8 780h4v4h-4zM606.8 780h4v4h-4zM134.8 784h4v4h-4zM166.8 784h4v4h-4zM346.8 784h4v4h-4zM430.8 784h4v4h-4zM134.8 788h4v4h-4zM166.8 788h4v4h-4zM270.8 788h4v4h-4zM346.8 788h4v4h-4zM430.8 788h4v4h-4zM470.8 788h4v4h-4zM134.8 792h4v4h-4zM270.8 792h4v4h-4zM346.8 792h4v4h-4zM430.8 792h4v4h-4zM466.8 792h8v4h-8zM134.8 796h4v4h-4zM270.8 796h4v4h-4zM346.8 796h4v4h-4zM430.8 796h4v4h-4zM466.8 796h8v4h-8zM498.8 796h4v4h-4zM122.8 800h4v4h-4zM270.8 800h4v4h-4zM334.8 800h4v4h-4zM466.8 800h8v4h-8zM498.8 800h4v4h-4zM122.8 804h4v4h-4zM142.8 804h4v4h-4zM334.8 804h4v4h-4zM466.8 804h8v4h-8zM498.8 804h4v4h-4zM122.8 808h4v4h-4zM158.8 808h4v4h-4zM334.8 808h4v4h-4zM466.8 808h4v4h-4zM498.8 808h4v4h-4zM122.8 812h4v4h-4zM158.8 812h4v4h-4zM334.8 812h4v4h-4zM394.8 812h4v4h-4zM466.8 812h4v4h-4zM498.8 812h4v4h-4zM538.8 812h4v4h-4zM158.8 816h4v4h-4zM466.8 816h4v4h-4zM498.8 816h4v4h-4zM538.8 816h4v4h-4zM158.8 820h4v4h-4zM366.8 820h4v4h-4zM398.8 820h4v4h-4zM366.8 824h4v4h-4zM446.8 824h4v4h-4zM366.8 828h4v4h-4zM366.8 832h4v4h-4zM542.8 832h4v4h-4zM562.8 832h4v4h-4zM402.8 836h4v4h-4zM542.8 836h4v4h-4zM238.8 840h4v4h-4zM586.8 840h4v4h-4zM498.8 924h4v4h-4zM554.8 924h4v4h-4zM498.8 928h4v4h-4zM522.8 928h4v4h-4zM554.8 928h4v4h-4zM502.8 932h4v4h-4zM522.8 932h4v4h-4zM530.8 932h8v4h-8zM558.8 932h4v4h-4zM502.8 936h4v4h-4zM522.8 936h4v4h-4zM530.8 936h8v4h-8zM558.8 936h4v4h-4zM566.8 936h4v4h-4zM502.8 940h4v4h-4zM530.8 940h8v4h-8zM558.8 940h4v4h-4zM566.8 940h4v4h-4zM502.8 944h4v4h-4zM530.8 944h8v4h-8zM558.8 944h4v4h-4zM566.8 944h4v4h-4z"/><path fill="rgb(53,53,53)" d="M342.8 640h4v4h-4zM418.8 640h4v4h-4zM346.8 644h4v4h-4zM374.8 644h4v4h-4zM602.8 644h4v4h-4zM118.8 656h4v4h-4zM118.8 660h4v4h-4zM446.8 660h4v4h-4zM118.8 664h4v4h-4zM446.8 664h4v4h-4zM110.8 668h12v4h-12zM446.8 668h4v4h-4zM110.8 672h12v4h-12zM446.8 672h4v4h-4zM110.8 676h8v4h-8zM446.8 676h4v4h-4zM110.8 680h8v4h-8zM110.8 684h8v4h-8zM346.8 684h4v4h-4zM110.8 688h8v4h-8zM270.8 688h4v4h-4zM310.8 688h4v4h-4zM346.8 688h4v4h-4zM110.8 692h8v4h-8zM134.8 692h4v4h-4zM310.8 692h4v4h-4zM346.8 692h4v4h-4zM134.8 696h4v4h-4zM310.8 696h4v4h-4zM134.8 700h4v4h-4zM270.8 700h4v4h-4zM310.8 700h4v4h-4zM110.8 704h8v4h-8zM122.8 708h4v4h-4zM314.8 708h4v4h-4zM122.8 712h4v4h-4zM122.8 716h4v4h-4zM298.8 716h4v4h-4zM422.8 716h4v4h-4zM606.8 716h4v4h-4zM386.8 720h4v4h-4zM438.8 720h8v4h-8zM414.8 728h4v4h-4zM598.8 728h4v4h-4zM378.8 732h4v4h-4zM602.8 756h4v4h-4zM266.8 760h4v4h-4zM270.8 764h4v4h-4zM290.8 764h4v4h-4zM346.8 764h4v4h-4zM606.8 764h4v4h-4zM262.8 768h4v4h-4zM134.8 772h4v4h-4zM262.8 772h4v4h-4zM270.8 772h4v4h-4zM314.8 772h4v4h-4zM346.8 772h4v4h-4zM134.8 776h4v4h-4zM262.8 776h4v4h-4zM270.8 776h4v4h-4zM346.8 776h4v4h-4zM134.8 780h4v4h-4zM270.8 780h4v4h-4zM346.8 780h4v4h-4zM410.8 780h4v4h-4zM594.8 780h4v4h-4zM270.8 784h4v4h-4zM410.8 784h4v4h-4zM594.8 784h4v4h-4zM410.8 788h4v4h-4zM594.8 788h4v4h-4zM146.8 800h4v4h-4zM430.8 800h4v4h-4zM306.8 804h4v4h-4zM358.8 804h4v4h-4zM430.8 804h4v4h-4zM430.8 808h4v4h-4zM430.8 812h4v4h-4zM174.8 820h4v4h-4zM466.8 820h4v4h-4zM538.8 820h4v4h-4zM158.8 824h4v4h-4zM466.8 824h4v4h-4zM538.8 824h8v4h-8zM158.8 828h4v4h-4zM226.8 828h4v4h-4zM542.8 828h4v4h-4zM226.8 832h4v4h-4zM110.8 836h8v4h-8zM190.8 836h8v4h-8zM366.8 836h4v4h-4zM510.8 836h4v4h-4zM246.8 840h4v4h-4zM402.8 840h4v4h-4zM498.8 920h4v4h-4zM554.8 920h4v4h-4zM502.8 924h4v4h-4zM522.8 924h4v4h-4zM530.8 924h8v4h-8zM558.8 924h4v4h-4zM566.8 924h4v4h-4zM502.8 928h4v4h-4zM530.8 928h8v4h-8zM558.8 928h4v4h-4zM566.8 928h4v4h-4zM526.8 932h4v4h-4zM566.8 932h4v4h-4zM526.8 936h4v4h-4zM562.8 936h4v4h-4zM578.8 936h4v4h-4zM526.8 940h4v4h-4zM562.8 940h4v4h-4zM578.8 940h4v4h-4zM526.8 944h4v4h-4zM562.8 944h4v4h-4zM578.8 944h4v4h-4z"/><path fill="rgb(57,57,57)" d="M298.8 632h4v4h-4zM130.8 636h4v4h-4zM126.8 640h4v4h-4zM134.8 640h4v4h-4zM290.8 640h4v4h-4zM378.8 640h4v4h-4zM338.8 644h4v4h-4zM414.8 648h4v4h-4zM598.8 652h4v4h-4zM314.8 660h4v4h-4zM346.8 672h4v4h-4zM346.8 676h4v4h-4zM134.8 680h4v4h-4zM346.8 680h4v4h-4zM134.8 684h4v4h-4zM134.8 688h4v4h-4zM270.8 692h4v4h-4zM110.8 696h8v4h-8zM270.8 696h4v4h-4zM110.8 700h8v4h-8zM298.8 704h4v4h-4zM422.8 704h4v4h-4zM606.8 704h4v4h-4zM298.8 708h4v4h-4zM422.8 708h4v4h-4zM606.8 708h4v4h-4zM298.8 712h4v4h-4zM422.8 712h4v4h-4zM606.8 712h4v4h-4zM342.8 720h4v4h-4zM290.8 724h4v4h-4zM130.8 728h4v4h-4zM374.8 728h4v4h-4zM418.8 728h4v4h-4zM602.8 728h4v4h-4zM298.8 756h4v4h-4zM378.8 756h4v4h-4zM126.8 760h4v4h-4zM342.8 760h4v4h-4zM414.8 760h4v4h-4zM134.8 764h4v4h-4zM370.8 764h4v4h-4zM134.8 768h4v4h-4zM270.8 768h4v4h-4zM290.8 768h4v4h-4zM346.8 768h4v4h-4zM370.8 768h4v4h-4zM434.8 768h8v4h-8zM226.8 772h4v4h-4zM290.8 772h4v4h-4zM162.8 776h4v4h-4zM222.8 776h4v4h-4zM290.8 776h4v4h-4zM314.8 776h4v4h-4zM222.8 780h4v4h-4zM262.8 780h4v4h-4zM314.8 780h4v4h-4zM222.8 784h4v4h-4zM262.8 784h4v4h-4zM314.8 784h4v4h-4zM262.8 788h4v4h-4zM262.8 792h4v4h-4zM410.8 792h4v4h-4zM594.8 792h4v4h-4zM410.8 796h4v4h-4zM594.8 796h4v4h-4zM410.8 800h4v4h-4zM594.8 800h4v4h-4zM226.8 812h4v4h-4zM310.8 812h4v4h-4zM542.8 812h4v4h-4zM226.8 816h4v4h-4zM330.8 816h4v4h-4zM542.8 816h4v4h-4zM226.8 820h4v4h-4zM438.8 820h4v4h-4zM450.8 820h4v4h-4zM542.8 820h4v4h-4zM226.8 824h4v4h-4zM438.8 824h4v4h-4zM438.8 828h4v4h-4zM538.8 828h4v4h-4zM154.8 832h4v4h-4zM206.8 832h4v4h-4zM258.8 832h4v4h-4zM486.8 832h4v4h-4zM494.8 832h4v4h-4zM538.8 832h4v4h-4zM546.8 832h4v4h-4zM558.8 836h4v4h-4zM578.8 840h4v4h-4zM522.8 844h4v4h-4zM498.8 916h4v4h-4zM522.8 916h4v4h-4zM554.8 916h4v4h-4zM502.8 920h4v4h-4zM522.8 920h4v4h-4zM530.8 920h8v4h-8zM558.8 920h4v4h-4zM566.8 920h4v4h-4zM526.8 924h4v4h-4zM510.8 928h4v4h-4zM526.8 928h4v4h-4zM562.8 928h4v4h-4zM578.8 928h4v4h-4zM290.8 932h4v4h-4zM378.8 932h4v4h-4zM510.8 932h4v4h-4zM562.8 932h4v4h-4zM578.8 932h4v4h-4zM170.8 936h4v4h-4zM202.8 936h4v4h-4zM258.8 936h4v4h-4zM290.8 936h4v4h-4zM346.8 936h4v4h-4zM378.8 936h4v4h-4zM466.8 936h4v4h-4zM510.8 936h4v4h-4zM170.8 940h4v4h-4zM202.8 940h4v4h-4zM258.8 940h4v4h-4zM290.8 940h4v4h-4zM346.8 940h4v4h-4zM378.8 940h4v4h-4zM466.8 940h4v4h-4zM510.8 940h4v4h-4zM170.8 944h4v4h-4zM202.8 944h4v4h-4zM258.8 944h4v4h-4zM290.8 944h4v4h-4zM346.8 944h4v4h-4zM378.8 944h4v4h-4zM466.8 944h4v4h-4zM510.8 944h4v4h-4z"/><path fill="rgb(61,61,61)" d="M294.8 632h4v4h-4zM382.8 640h4v4h-4zM290.8 644h4v4h-4zM386.8 644h4v4h-4zM422.8 644h4v4h-4zM290.8 648h4v4h-4zM346.8 648h4v4h-4zM374.8 648h4v4h-4zM606.8 648h4v4h-4zM290.8 652h4v4h-4zM414.8 652h4v4h-4zM346.8 656h4v4h-4zM442.8 656h4v4h-4zM346.8 660h4v4h-4zM438.8 660h4v4h-4zM346.8 664h4v4h-4zM134.8 668h4v4h-4zM346.8 668h4v4h-4zM134.8 672h4v4h-4zM134.8 676h4v4h-4zM298.8 692h4v4h-4zM422.8 692h4v4h-4zM606.8 692h4v4h-4zM298.8 696h4v4h-4zM422.8 696h4v4h-4zM606.8 696h4v4h-4zM298.8 700h4v4h-4zM422.8 700h4v4h-4zM606.8 700h4v4h-4zM314.8 704h4v4h-4zM386.8 708h4v4h-4zM386.8 712h4v4h-4zM386.8 716h4v4h-4zM442.8 716h4v4h-4zM338.8 720h4v4h-4zM294.8 724h4v4h-4zM126.8 728h4v4h-4zM382.8 728h4v4h-4zM294.8 756h4v4h-4zM418.8 760h4v4h-4zM266.8 764h4v4h-4zM338.8 764h4v4h-4zM542.8 768h4v4h-4zM318.8 772h4v4h-4zM370.8 772h4v4h-4zM370.8 776h4v4h-4zM162.8 780h4v4h-4zM290.8 780h4v4h-4zM370.8 780h4v4h-4zM162.8 784h4v4h-4zM290.8 784h4v4h-4zM370.8 784h4v4h-4zM162.8 788h4v4h-4zM222.8 788h4v4h-4zM290.8 788h4v4h-4zM314.8 788h4v4h-4zM162.8 792h4v4h-4zM222.8 792h4v4h-4zM314.8 792h4v4h-4zM162.8 796h4v4h-4zM222.8 796h8v4h-8zM262.8 796h4v4h-4zM314.8 796h8v4h-8zM162.8 800h4v4h-4zM222.8 800h8v4h-8zM262.8 800h4v4h-4zM314.8 800h8v4h-8zM162.8 804h4v4h-4zM226.8 804h4v4h-4zM262.8 804h4v4h-4zM318.8 804h4v4h-4zM410.8 804h4v4h-4zM438.8 804h4v4h-4zM542.8 804h4v4h-4zM594.8 804h4v4h-4zM162.8 808h4v4h-4zM226.8 808h4v4h-4zM262.8 808h4v4h-4zM298.8 808h4v4h-4zM318.8 808h4v4h-4zM410.8 808h4v4h-4zM438.8 808h4v4h-4zM542.8 808h4v4h-4zM594.8 808h4v4h-4zM162.8 812h4v4h-4zM186.8 812h4v4h-4zM262.8 812h4v4h-4zM362.8 812h4v4h-4zM382.8 812h4v4h-4zM410.8 812h4v4h-4zM438.8 812h4v4h-4zM594.8 812h4v4h-4zM162.8 816h4v4h-4zM262.8 816h4v4h-4zM410.8 816h4v4h-4zM438.8 816h4v4h-4zM454.8 816h4v4h-4zM594.8 816h4v4h-4zM162.8 820h4v4h-4zM162.8 824h4v4h-4zM162.8 828h4v4h-4zM186.8 828h4v4h-4zM470.8 828h4v4h-4zM162.8 832h4v4h-4zM230.8 836h4v4h-4zM482.8 836h4v4h-4zM514.8 836h4v4h-4zM538.8 836h4v4h-4zM166.8 840h4v4h-4zM198.8 840h4v4h-4zM366.8 840h4v4h-4zM538.8 840h4v4h-4zM590.8 844h4v4h-4zM498.8 912h4v4h-4zM554.8 912h4v4h-4zM502.8 916h4v4h-4zM530.8 916h8v4h-8zM558.8 916h4v4h-4zM566.8 916h4v4h-4zM526.8 920h4v4h-4zM562.8 920h4v4h-4zM578.8 920h4v4h-4zM258.8 924h4v4h-4zM290.8 924h4v4h-4zM378.8 924h4v4h-4zM510.8 924h4v4h-4zM562.8 924h4v4h-4zM578.8 924h4v4h-4zM170.8 928h4v4h-4zM202.8 928h4v4h-4zM258.8 928h4v4h-4zM290.8 928h4v4h-4zM346.8 928h4v4h-4zM378.8 928h4v4h-4zM410.8 928h4v4h-4zM466.8 928h4v4h-4zM542.8 928h8v4h-8zM582.8 928h4v4h-4zM110.8 932h8v4h-8zM138.8 932h4v4h-4zM170.8 932h4v4h-4zM202.8 932h4v4h-4zM226.8 932h4v4h-4zM258.8 932h4v4h-4zM322.8 932h4v4h-4zM346.8 932h4v4h-4zM410.8 932h4v4h-4zM434.8 932h4v4h-4zM466.8 932h4v4h-4zM542.8 932h8v4h-8zM582.8 932h12v4h-12zM110.8 936h8v4h-8zM138.8 936h4v4h-4zM226.8 936h4v4h-4zM234.8 936h4v4h-4zM322.8 936h4v4h-4zM410.8 936h4v4h-4zM434.8 936h4v4h-4zM506.8 936h4v4h-4zM542.8 936h12v4h-12zM582.8 936h12v4h-12zM110.8 940h8v4h-8zM138.8 940h4v4h-4zM226.8 940h4v4h-4zM234.8 940h4v4h-4zM314.8 940h4v4h-4zM322.8 940h4v4h-4zM410.8 940h4v4h-4zM434.8 940h4v4h-4zM506.8 940h4v4h-4zM518.8 940h4v4h-4zM542.8 940h12v4h-12zM582.8 940h12v4h-12zM110.8 944h8v4h-8zM138.8 944h4v4h-4zM226.8 944h4v4h-4zM234.8 944h4v4h-4zM314.8 944h4v4h-4zM322.8 944h4v4h-4zM410.8 944h4v4h-4zM434.8 944h4v4h-4zM506.8 944h4v4h-4zM518.8 944h4v4h-4zM542.8 944h12v4h-12zM582.8 944h12v4h-12z"/><path fill="rgb(65,65,65)" d="M134.8 644h4v4h-4zM346.8 652h4v4h-4zM134.8 656h4v4h-4zM290.8 656h4v4h-4zM414.8 656h4v4h-4zM598.8 656h4v4h-4zM134.8 660h4v4h-4zM290.8 660h4v4h-4zM414.8 660h4v4h-4zM598.8 660h4v4h-4zM134.8 664h4v4h-4zM290.8 664h4v4h-4zM414.8 664h4v4h-4zM598.8 664h4v4h-4zM298.8 676h4v4h-4zM422.8 676h4v4h-4zM606.8 676h4v4h-4zM298.8 680h4v4h-4zM422.8 680h4v4h-4zM606.8 680h4v4h-4zM298.8 684h4v4h-4zM422.8 684h4v4h-4zM606.8 684h4v4h-4zM298.8 688h4v4h-4zM422.8 688h4v4h-4zM606.8 688h4v4h-4zM386.8 692h4v4h-4zM386.8 696h4v4h-4zM386.8 700h4v4h-4zM386.8 704h4v4h-4zM438.8 716h4v4h-4zM414.8 724h4v4h-4zM598.8 724h4v4h-4zM130.8 760h4v4h-4zM382.8 760h4v4h-4zM598.8 760h4v4h-4zM126.8 764h4v4h-4zM126.8 768h4v4h-4zM338.8 768h4v4h-4zM226.8 776h4v4h-4zM318.8 776h4v4h-4zM226.8 780h4v4h-4zM318.8 780h4v4h-4zM226.8 784h4v4h-4zM318.8 784h4v4h-4zM438.8 784h4v4h-4zM226.8 788h4v4h-4zM318.8 788h4v4h-4zM370.8 788h4v4h-4zM438.8 788h4v4h-4zM542.8 788h4v4h-4zM226.8 792h4v4h-4zM290.8 792h4v4h-4zM298.8 792h4v4h-4zM318.8 792h4v4h-4zM370.8 792h4v4h-4zM438.8 792h4v4h-4zM542.8 792h4v4h-4zM266.8 796h4v4h-4zM290.8 796h4v4h-4zM298.8 796h4v4h-4zM370.8 796h4v4h-4zM382.8 796h4v4h-4zM438.8 796h4v4h-4zM542.8 796h4v4h-4zM266.8 800h4v4h-4zM290.8 800h4v4h-4zM298.8 800h4v4h-4zM370.8 800h4v4h-4zM382.8 800h4v4h-4zM438.8 800h4v4h-4zM542.8 800h4v4h-4zM222.8 804h4v4h-4zM266.8 804h4v4h-4zM290.8 804h4v4h-4zM298.8 804h4v4h-4zM314.8 804h4v4h-4zM382.8 804h4v4h-4zM150.8 808h4v4h-4zM222.8 808h4v4h-4zM266.8 808h4v4h-4zM314.8 808h4v4h-4zM326.8 808h4v4h-4zM382.8 808h4v4h-4zM178.8 812h4v4h-4zM222.8 812h4v4h-4zM266.8 812h4v4h-4zM314.8 812h4v4h-4zM458.8 812h4v4h-4zM606.8 812h4v4h-4zM222.8 816h4v4h-4zM266.8 816h4v4h-4zM314.8 816h4v4h-4zM222.8 820h4v4h-4zM262.8 820h8v4h-8zM410.8 820h4v4h-4zM594.8 820h4v4h-4zM222.8 824h4v4h-4zM262.8 824h8v4h-8zM286.8 824h4v4h-4zM410.8 824h4v4h-4zM594.8 824h4v4h-4zM262.8 828h8v4h-8zM410.8 828h4v4h-4zM478.8 828h4v4h-4zM594.8 828h4v4h-4zM214.8 832h4v4h-4zM262.8 832h4v4h-4zM498.8 832h4v4h-4zM550.8 832h4v4h-4zM554.8 836h4v4h-4zM242.8 840h4v4h-4zM518.8 840h4v4h-4zM542.8 840h4v4h-4zM250.8 844h4v4h-4zM498.8 908h4v4h-4zM554.8 908h4v4h-4zM502.8 912h4v4h-4zM522.8 912h4v4h-4zM530.8 912h8v4h-8zM558.8 912h4v4h-4zM566.8 912h4v4h-4zM510.8 916h4v4h-4zM526.8 916h4v4h-4zM562.8 916h4v4h-4zM578.8 916h4v4h-4zM170.8 920h4v4h-4zM202.8 920h4v4h-4zM258.8 920h4v4h-4zM290.8 920h4v4h-4zM346.8 920h4v4h-4zM378.8 920h4v4h-4zM466.8 920h4v4h-4zM510.8 920h4v4h-4zM110.8 924h8v4h-8zM138.8 924h4v4h-4zM170.8 924h4v4h-4zM202.8 924h4v4h-4zM226.8 924h4v4h-4zM322.8 924h4v4h-4zM346.8 924h4v4h-4zM410.8 924h4v4h-4zM434.8 924h4v4h-4zM466.8 924h4v4h-4zM506.8 924h4v4h-4zM542.8 924h8v4h-8zM582.8 924h12v4h-12zM110.8 928h8v4h-8zM138.8 928h4v4h-4zM226.8 928h4v4h-4zM234.8 928h4v4h-4zM314.8 928h4v4h-4zM322.8 928h4v4h-4zM434.8 928h4v4h-4zM506.8 928h4v4h-4zM518.8 928h4v4h-4zM550.8 928h4v4h-4zM574.8 928h4v4h-4zM586.8 928h8v4h-8zM134.8 932h4v4h-4zM146.8 932h4v4h-4zM234.8 932h4v4h-4zM314.8 932h4v4h-4zM402.8 932h4v4h-4zM442.8 932h4v4h-4zM506.8 932h4v4h-4zM514.8 932h8v4h-8zM538.8 932h4v4h-4zM550.8 932h4v4h-4zM574.8 932h4v4h-4zM610.8 932h12v4h-12zM134.8 936h4v4h-4zM146.8 936h4v4h-4zM166.8 936h4v4h-4zM314.8 936h4v4h-4zM354.8 936h4v4h-4zM402.8 936h4v4h-4zM414.8 936h4v4h-4zM442.8 936h8v4h-8zM470.8 936h4v4h-4zM514.8 936h8v4h-8zM538.8 936h4v4h-4zM570.8 936h8v4h-8zM610.8 936h12v4h-12zM134.8 940h4v4h-4zM146.8 940h4v4h-4zM166.8 940h4v4h-4zM354.8 940h4v4h-4zM382.8 940h4v4h-4zM402.8 940h4v4h-4zM414.8 940h4v4h-4zM442.8 940h8v4h-8zM470.8 940h4v4h-4zM490.8 940h4v4h-4zM514.8 940h4v4h-4zM538.8 940h4v4h-4zM570.8 940h8v4h-8zM610.8 940h12v4h-12zM134.8 944h4v4h-4zM146.8 944h4v4h-4zM166.8 944h4v4h-4zM354.8 944h4v4h-4zM382.8 944h4v4h-4zM402.8 944h4v4h-4zM414.8 944h4v4h-4zM442.8 944h8v4h-8zM470.8 944h4v4h-4zM490.8 944h4v4h-4zM514.8 944h4v4h-4zM538.8 944h4v4h-4zM570.8 944h8v4h-8zM610.8 944h12v4h-12z"/><path fill="rgb(69,69,69)" d="M298.8 636h4v4h-4zM126.8 644h4v4h-4zM134.8 648h4v4h-4zM338.8 648h4v4h-4zM422.8 648h4v4h-4zM134.8 652h4v4h-4zM374.8 652h4v4h-4zM606.8 652h4v4h-4zM374.8 656h4v4h-4zM374.8 660h4v4h-4zM298.8 664h4v4h-4zM314.8 664h4v4h-4zM374.8 664h4v4h-4zM422.8 664h4v4h-4zM438.8 664h4v4h-4zM606.8 664h4v4h-4zM290.8 668h4v4h-4zM298.8 668h4v4h-4zM414.8 668h4v4h-4zM422.8 668h4v4h-4zM438.8 668h4v4h-4zM598.8 668h4v4h-4zM606.8 668h4v4h-4zM290.8 672h4v4h-4zM298.8 672h4v4h-4zM414.8 672h4v4h-4zM422.8 672h4v4h-4zM438.8 672h4v4h-4zM598.8 672h4v4h-4zM606.8 672h4v4h-4zM290.8 676h4v4h-4zM414.8 676h4v4h-4zM438.8 676h4v4h-4zM598.8 676h4v4h-4zM290.8 680h4v4h-4zM386.8 680h4v4h-4zM414.8 680h4v4h-4zM598.8 680h4v4h-4zM386.8 684h4v4h-4zM386.8 688h4v4h-4zM314.8 700h4v4h-4zM442.8 712h4v4h-4zM342.8 716h4v4h-4zM290.8 720h4v4h-4zM130.8 724h4v4h-4zM374.8 724h4v4h-4zM418.8 724h4v4h-4zM602.8 724h4v4h-4zM378.8 728h4v4h-4zM298.8 760h4v4h-4zM374.8 760h4v4h-4zM602.8 760h4v4h-4zM414.8 764h4v4h-4zM266.8 768h4v4h-4zM126.8 772h4v4h-4zM266.8 772h4v4h-4zM338.8 772h4v4h-4zM434.8 772h8v4h-8zM542.8 772h4v4h-4zM126.8 776h4v4h-4zM266.8 776h4v4h-4zM338.8 776h4v4h-4zM434.8 776h8v4h-8zM542.8 776h4v4h-4zM126.8 780h4v4h-4zM266.8 780h4v4h-4zM298.8 780h4v4h-4zM338.8 780h4v4h-4zM382.8 780h4v4h-4zM434.8 780h8v4h-8zM542.8 780h4v4h-4zM126.8 784h4v4h-4zM266.8 784h4v4h-4zM298.8 784h4v4h-4zM338.8 784h4v4h-4zM382.8 784h4v4h-4zM434.8 784h4v4h-4zM542.8 784h4v4h-4zM266.8 788h4v4h-4zM298.8 788h4v4h-4zM382.8 788h4v4h-4zM434.8 788h4v4h-4zM266.8 792h4v4h-4zM382.8 792h4v4h-4zM370.8 804h4v4h-4zM418.8 804h4v4h-4zM602.8 804h4v4h-4zM290.8 808h4v4h-4zM370.8 808h4v4h-4zM418.8 808h4v4h-4zM602.8 808h4v4h-4zM610.8 808h4v4h-4zM290.8 812h4v4h-4zM318.8 812h4v4h-4zM370.8 812h4v4h-4zM418.8 812h4v4h-4zM602.8 812h4v4h-4zM290.8 816h4v4h-4zM370.8 816h4v4h-4zM418.8 816h4v4h-4zM602.8 816h4v4h-4zM418.8 820h4v4h-4zM210.8 832h4v4h-4zM266.8 832h4v4h-4zM490.8 832h4v4h-4zM594.8 832h4v4h-4zM162.8 836h4v4h-4zM226.8 836h4v4h-4zM406.8 836h4v4h-4zM502.8 836h4v4h-4zM562.8 836h4v4h-4zM170.8 840h4v4h-4zM530.8 840h8v4h-8zM570.8 840h4v4h-4zM582.8 840h4v4h-4zM186.8 844h4v4h-4zM502.8 908h4v4h-4zM522.8 908h4v4h-4zM530.8 908h8v4h-8zM558.8 908h4v4h-4zM526.8 912h4v4h-4zM562.8 912h4v4h-4zM578.8 912h4v4h-4zM170.8 916h4v4h-4zM202.8 916h4v4h-4zM258.8 916h4v4h-4zM290.8 916h4v4h-4zM346.8 916h4v4h-4zM378.8 916h4v4h-4zM410.8 916h4v4h-4zM466.8 916h4v4h-4zM582.8 916h4v4h-4zM110.8 920h8v4h-8zM138.8 920h4v4h-4zM226.8 920h4v4h-4zM234.8 920h4v4h-4zM314.8 920h4v4h-4zM322.8 920h4v4h-4zM410.8 920h4v4h-4zM434.8 920h4v4h-4zM506.8 920h4v4h-4zM542.8 920h12v4h-12zM582.8 920h12v4h-12zM134.8 924h4v4h-4zM146.8 924h4v4h-4zM234.8 924h4v4h-4zM314.8 924h4v4h-4zM402.8 924h4v4h-4zM442.8 924h4v4h-4zM470.8 924h4v4h-4zM514.8 924h8v4h-8zM538.8 924h4v4h-4zM550.8 924h4v4h-4zM574.8 924h4v4h-4zM610.8 924h12v4h-12zM134.8 928h4v4h-4zM146.8 928h4v4h-4zM166.8 928h4v4h-4zM194.8 928h8v4h-8zM354.8 928h4v4h-4zM382.8 928h4v4h-4zM402.8 928h4v4h-4zM414.8 928h4v4h-4zM442.8 928h8v4h-8zM470.8 928h4v4h-4zM478.8 928h4v4h-4zM490.8 928h4v4h-4zM514.8 928h4v4h-4zM538.8 928h4v4h-4zM570.8 928h4v4h-4zM610.8 928h12v4h-12zM166.8 932h4v4h-4zM190.8 932h12v4h-12zM222.8 932h4v4h-4zM230.8 932h4v4h-4zM254.8 932h4v4h-4zM266.8 932h4v4h-4zM286.8 932h4v4h-4zM350.8 932h12v4h-12zM382.8 932h4v4h-4zM414.8 932h4v4h-4zM438.8 932h4v4h-4zM446.8 932h4v4h-4zM470.8 932h4v4h-4zM478.8 932h4v4h-4zM490.8 932h4v4h-4zM570.8 932h4v4h-4zM598.8 932h4v4h-4zM142.8 936h4v4h-4zM158.8 936h4v4h-4zM178.8 936h4v4h-4zM190.8 936h12v4h-12zM222.8 936h4v4h-4zM230.8 936h4v4h-4zM254.8 936h4v4h-4zM262.8 936h8v4h-8zM282.8 936h8v4h-8zM294.8 936h4v4h-4zM318.8 936h4v4h-4zM326.8 936h4v4h-4zM350.8 936h4v4h-4zM358.8 936h4v4h-4zM382.8 936h4v4h-4zM390.8 936h4v4h-4zM406.8 936h4v4h-4zM438.8 936h4v4h-4zM478.8 936h4v4h-4zM490.8 936h4v4h-4zM598.8 936h4v4h-4zM142.8 940h4v4h-4zM158.8 940h4v4h-4zM178.8 940h4v4h-4zM190.8 940h12v4h-12zM222.8 940h4v4h-4zM230.8 940h4v4h-4zM246.8 940h4v4h-4zM254.8 940h4v4h-4zM262.8 940h8v4h-8zM278.8 940h12v4h-12zM294.8 940h4v4h-4zM310.8 940h4v4h-4zM318.8 940h4v4h-4zM326.8 940h4v4h-4zM350.8 940h4v4h-4zM358.8 940h4v4h-4zM390.8 940h4v4h-4zM406.8 940h4v4h-4zM438.8 940h4v4h-4zM474.8 940h8v4h-8zM598.8 940h4v4h-4zM142.8 944h4v4h-4zM158.8 944h4v4h-4zM178.8 944h4v4h-4zM190.8 944h12v4h-12zM222.8 944h4v4h-4zM230.8 944h4v4h-4zM246.8 944h4v4h-4zM254.8 944h4v4h-4zM262.8 944h8v4h-8zM278.8 944h12v4h-12zM294.8 944h4v4h-4zM310.8 944h4v4h-4zM318.8 944h4v4h-4zM326.8 944h4v4h-4zM350.8 944h4v4h-4zM358.8 944h4v4h-4zM390.8 944h4v4h-4zM406.8 944h4v4h-4zM438.8 944h4v4h-4zM474.8 944h8v4h-8zM598.8 944h4v4h-4z"/><path fill="rgb(73,73,73)" d="M342.8 644h4v4h-4zM418.8 644h4v4h-4zM126.8 648h4v4h-4zM386.8 648h4v4h-4zM602.8 648h4v4h-4zM298.8 652h4v4h-4zM338.8 652h4v4h-4zM422.8 652h4v4h-4zM298.8 656h4v4h-4zM338.8 656h4v4h-4zM422.8 656h4v4h-4zM606.8 656h4v4h-4zM298.8 660h4v4h-4zM338.8 660h4v4h-4zM422.8 660h4v4h-4zM442.8 660h4v4h-4zM606.8 660h4v4h-4zM386.8 664h4v4h-4zM314.8 668h4v4h-4zM374.8 668h4v4h-4zM386.8 668h4v4h-4zM314.8 672h4v4h-4zM374.8 672h4v4h-4zM386.8 672h4v4h-4zM314.8 676h4v4h-4zM374.8 676h4v4h-4zM386.8 676h4v4h-4zM314.8 680h4v4h-4zM374.8 680h4v4h-4zM438.8 680h4v4h-4zM290.8 684h4v4h-4zM314.8 684h4v4h-4zM414.8 684h4v4h-4zM438.8 684h4v4h-4zM598.8 684h4v4h-4zM290.8 688h4v4h-4zM314.8 688h4v4h-4zM414.8 688h4v4h-4zM438.8 688h4v4h-4zM598.8 688h4v4h-4zM290.8 692h4v4h-4zM314.8 692h4v4h-4zM414.8 692h4v4h-4zM438.8 692h4v4h-4zM598.8 692h4v4h-4zM314.8 696h4v4h-4zM438.8 712h4v4h-4zM338.8 716h4v4h-4zM294.8 720h4v4h-4zM414.8 720h4v4h-4zM598.8 720h4v4h-4zM126.8 724h4v4h-4zM382.8 724h4v4h-4zM294.8 760h4v4h-4zM378.8 760h4v4h-4zM298.8 764h4v4h-4zM342.8 764h4v4h-4zM382.8 764h4v4h-4zM418.8 764h4v4h-4zM598.8 764h4v4h-4zM298.8 768h4v4h-4zM382.8 768h4v4h-4zM298.8 772h4v4h-4zM382.8 772h4v4h-4zM298.8 776h4v4h-4zM382.8 776h4v4h-4zM126.8 788h8v4h-8zM338.8 788h8v4h-8zM418.8 788h4v4h-4zM602.8 788h4v4h-4zM126.8 792h8v4h-8zM338.8 792h8v4h-8zM418.8 792h4v4h-4zM434.8 792h4v4h-4zM602.8 792h4v4h-4zM126.8 796h8v4h-8zM338.8 796h8v4h-8zM418.8 796h4v4h-4zM434.8 796h4v4h-4zM602.8 796h4v4h-4zM126.8 800h8v4h-8zM338.8 800h8v4h-8zM418.8 800h4v4h-4zM434.8 800h4v4h-4zM602.8 800h4v4h-4zM126.8 804h8v4h-8zM338.8 804h8v4h-8zM434.8 804h4v4h-4zM126.8 808h4v4h-4zM338.8 808h8v4h-8zM434.8 808h4v4h-4zM434.8 812h4v4h-4zM422.8 816h4v4h-4zM434.8 816h4v4h-4zM290.8 820h4v4h-4zM370.8 820h4v4h-4zM434.8 820h4v4h-4zM370.8 824h4v4h-4zM474.8 824h4v4h-4zM370.8 828h4v4h-4zM466.8 828h4v4h-4zM158.8 832h4v4h-4zM234.8 832h4v4h-4zM370.8 832h4v4h-4zM566.8 836h4v4h-4zM202.8 840h4v4h-4zM254.8 840h4v4h-4zM526.8 844h4v4h-4zM498.8 904h4v4h-4zM554.8 904h4v4h-4zM526.8 908h4v4h-4zM566.8 908h4v4h-4zM170.8 912h4v4h-4zM202.8 912h4v4h-4zM258.8 912h4v4h-4zM290.8 912h4v4h-4zM346.8 912h4v4h-4zM378.8 912h4v4h-4zM466.8 912h4v4h-4zM510.8 912h4v4h-4zM110.8 916h8v4h-8zM138.8 916h4v4h-4zM226.8 916h4v4h-4zM234.8 916h4v4h-4zM314.8 916h4v4h-4zM322.8 916h4v4h-4zM434.8 916h4v4h-4zM506.8 916h4v4h-4zM518.8 916h4v4h-4zM542.8 916h12v4h-12zM574.8 916h4v4h-4zM586.8 916h8v4h-8zM134.8 920h4v4h-4zM146.8 920h4v4h-4zM166.8 920h4v4h-4zM354.8 920h4v4h-4zM402.8 920h4v4h-4zM414.8 920h4v4h-4zM442.8 920h8v4h-8zM470.8 920h4v4h-4zM514.8 920h8v4h-8zM538.8 920h4v4h-4zM570.8 920h8v4h-8zM610.8 920h12v4h-12zM158.8 924h4v4h-4zM166.8 924h4v4h-4zM190.8 924h12v4h-12zM222.8 924h4v4h-4zM230.8 924h4v4h-4zM254.8 924h4v4h-4zM266.8 924h4v4h-4zM282.8 924h8v4h-8zM318.8 924h4v4h-4zM326.8 924h4v4h-4zM350.8 924h12v4h-12zM382.8 924h4v4h-4zM414.8 924h4v4h-4zM438.8 924h4v4h-4zM446.8 924h4v4h-4zM478.8 924h4v4h-4zM490.8 924h4v4h-4zM570.8 924h4v4h-4zM598.8 924h4v4h-4zM142.8 928h4v4h-4zM158.8 928h4v4h-4zM178.8 928h4v4h-4zM190.8 928h4v4h-4zM222.8 928h4v4h-4zM230.8 928h4v4h-4zM246.8 928h4v4h-4zM254.8 928h4v4h-4zM262.8 928h8v4h-8zM278.8 928h12v4h-12zM294.8 928h4v4h-4zM302.8 928h4v4h-4zM310.8 928h4v4h-4zM318.8 928h4v4h-4zM326.8 928h4v4h-4zM350.8 928h4v4h-4zM358.8 928h4v4h-4zM370.8 928h8v4h-8zM390.8 928h4v4h-4zM406.8 928h4v4h-4zM438.8 928h4v4h-4zM474.8 928h4v4h-4zM598.8 928h4v4h-4zM126.8 932h4v4h-4zM142.8 932h4v4h-4zM158.8 932h4v4h-4zM174.8 932h8v4h-8zM206.8 932h4v4h-4zM214.8 932h4v4h-4zM238.8 932h4v4h-4zM246.8 932h4v4h-4zM262.8 932h4v4h-4zM270.8 932h4v4h-4zM278.8 932h8v4h-8zM294.8 932h4v4h-4zM302.8 932h4v4h-4zM310.8 932h4v4h-4zM318.8 932h4v4h-4zM326.8 932h4v4h-4zM334.8 932h4v4h-4zM342.8 932h4v4h-4zM366.8 932h12v4h-12zM386.8 932h8v4h-8zM406.8 932h4v4h-4zM422.8 932h4v4h-4zM474.8 932h4v4h-4zM494.8 932h4v4h-4zM126.8 936h4v4h-4zM162.8 936h4v4h-4zM174.8 936h4v4h-4zM182.8 936h4v4h-4zM206.8 936h4v4h-4zM214.8 936h4v4h-4zM238.8 936h4v4h-4zM246.8 936h4v4h-4zM270.8 936h4v4h-4zM278.8 936h4v4h-4zM302.8 936h4v4h-4zM310.8 936h4v4h-4zM334.8 936h4v4h-4zM342.8 936h4v4h-4zM366.8 936h12v4h-12zM386.8 936h4v4h-4zM398.8 936h4v4h-4zM422.8 936h4v4h-4zM454.8 936h12v4h-12zM474.8 936h4v4h-4zM494.8 936h4v4h-4zM594.8 936h4v4h-4zM126.8 940h4v4h-4zM162.8 940h4v4h-4zM174.8 940h4v4h-4zM182.8 940h4v4h-4zM206.8 940h4v4h-4zM214.8 940h4v4h-4zM238.8 940h4v4h-4zM270.8 940h4v4h-4zM298.8 940h8v4h-8zM334.8 940h4v4h-4zM342.8 940h4v4h-4zM366.8 940h12v4h-12zM386.8 940h4v4h-4zM398.8 940h4v4h-4zM422.8 940h4v4h-4zM430.8 940h4v4h-4zM454.8 940h12v4h-12zM494.8 940h4v4h-4zM594.8 940h4v4h-4zM126.8 944h4v4h-4zM162.8 944h4v4h-4zM174.8 944h4v4h-4zM182.8 944h4v4h-4zM206.8 944h4v4h-4zM214.8 944h4v4h-4zM238.8 944h4v4h-4zM270.8 944h4v4h-4zM298.8 944h8v4h-8zM334.8 944h4v4h-4zM342.8 944h4v4h-4zM366.8 944h12v4h-12zM386.8 944h4v4h-4zM398.8 944h4v4h-4zM422.8 944h4v4h-4zM430.8 944h4v4h-4zM454.8 944h12v4h-12zM494.8 944h4v4h-4zM594.8 944h4v4h-4z"/><path fill="rgb(77,77,77)" d="M294.8 636h4v4h-4zM130.8 640h4v4h-4zM298.8 640h4v4h-4zM298.8 644h4v4h-4zM378.8 644h4v4h-4zM298.8 648h4v4h-4zM126.8 652h4v4h-4zM386.8 652h4v4h-4zM126.8 656h4v4h-4zM386.8 656h4v4h-4zM126.8 660h4v4h-4zM386.8 660h4v4h-4zM338.8 664h4v4h-4zM338.8 668h4v4h-4zM338.8 672h4v4h-4zM374.8 684h4v4h-4zM374.8 688h4v4h-4zM374.8 692h4v4h-4zM442.8 692h4v4h-4zM290.8 696h4v4h-4zM414.8 696h4v4h-4zM438.8 696h8v4h-8zM598.8 696h4v4h-4zM290.8 700h4v4h-4zM414.8 700h4v4h-4zM438.8 700h8v4h-8zM598.8 700h4v4h-4zM290.8 704h4v4h-4zM414.8 704h4v4h-4zM438.8 704h8v4h-8zM598.8 704h4v4h-4zM290.8 708h4v4h-4zM414.8 708h4v4h-4zM438.8 708h8v4h-8zM598.8 708h4v4h-4zM342.8 712h4v4h-4zM290.8 716h4v4h-4zM130.8 720h4v4h-4zM374.8 720h4v4h-4zM130.8 764h4v4h-4zM374.8 764h4v4h-4zM602.8 764h4v4h-4zM130.8 768h4v4h-4zM342.8 768h4v4h-4zM414.8 768h8v4h-8zM598.8 768h8v4h-8zM130.8 772h4v4h-4zM342.8 772h4v4h-4zM414.8 772h8v4h-8zM598.8 772h8v4h-8zM130.8 776h4v4h-4zM342.8 776h4v4h-4zM414.8 776h8v4h-8zM598.8 776h8v4h-8zM130.8 780h4v4h-4zM342.8 780h4v4h-4zM418.8 780h4v4h-4zM602.8 780h4v4h-4zM130.8 784h4v4h-4zM342.8 784h4v4h-4zM418.8 784h4v4h-4zM602.8 784h4v4h-4zM134.8 808h4v4h-4zM182.8 808h4v4h-4zM322.8 808h4v4h-4zM390.8 808h4v4h-4zM614.8 808h8v4h-8zM426.8 812h4v4h-4zM382.8 816h4v4h-4zM462.8 820h4v4h-4zM270.8 824h4v4h-4zM438.8 832h4v4h-4zM110.8 840h8v4h-8zM190.8 840h4v4h-4zM506.8 840h4v4h-4zM402.8 844h4v4h-4zM574.8 844h4v4h-4zM586.8 844h4v4h-4zM502.8 904h4v4h-4zM530.8 904h8v4h-8zM558.8 904h4v4h-4zM258.8 908h4v4h-4zM290.8 908h4v4h-4zM378.8 908h4v4h-4zM510.8 908h4v4h-4zM562.8 908h4v4h-4zM578.8 908h4v4h-4zM110.8 912h8v4h-8zM138.8 912h4v4h-4zM226.8 912h4v4h-4zM234.8 912h4v4h-4zM314.8 912h4v4h-4zM322.8 912h4v4h-4zM410.8 912h4v4h-4zM434.8 912h4v4h-4zM506.8 912h4v4h-4zM518.8 912h4v4h-4zM542.8 912h12v4h-12zM582.8 912h12v4h-12zM134.8 916h4v4h-4zM146.8 916h4v4h-4zM166.8 916h4v4h-4zM194.8 916h4v4h-4zM354.8 916h4v4h-4zM382.8 916h4v4h-4zM402.8 916h4v4h-4zM414.8 916h4v4h-4zM442.8 916h8v4h-8zM470.8 916h4v4h-4zM478.8 916h4v4h-4zM490.8 916h4v4h-4zM514.8 916h4v4h-4zM538.8 916h4v4h-4zM570.8 916h4v4h-4zM610.8 916h12v4h-12zM142.8 920h4v4h-4zM158.8 920h4v4h-4zM178.8 920h4v4h-4zM190.8 920h12v4h-12zM222.8 920h4v4h-4zM230.8 920h4v4h-4zM254.8 920h4v4h-4zM262.8 920h8v4h-8zM278.8 920h12v4h-12zM294.8 920h4v4h-4zM318.8 920h4v4h-4zM326.8 920h4v4h-4zM350.8 920h4v4h-4zM358.8 920h4v4h-4zM382.8 920h4v4h-4zM390.8 920h4v4h-4zM406.8 920h4v4h-4zM438.8 920h4v4h-4zM474.8 920h8v4h-8zM490.8 920h4v4h-4zM598.8 920h4v4h-4zM126.8 924h4v4h-4zM142.8 924h4v4h-4zM174.8 924h8v4h-8zM206.8 924h4v4h-4zM214.8 924h4v4h-4zM238.8 924h4v4h-4zM246.8 924h4v4h-4zM262.8 924h4v4h-4zM270.8 924h4v4h-4zM278.8 924h4v4h-4zM294.8 924h4v4h-4zM302.8 924h4v4h-4zM310.8 924h4v4h-4zM334.8 924h4v4h-4zM342.8 924h4v4h-4zM366.8 924h12v4h-12zM386.8 924h8v4h-8zM406.8 924h4v4h-4zM422.8 924h4v4h-4zM458.8 924h4v4h-4zM474.8 924h4v4h-4zM494.8 924h4v4h-4zM126.8 928h4v4h-4zM162.8 928h4v4h-4zM174.8 928h4v4h-4zM182.8 928h4v4h-4zM206.8 928h4v4h-4zM214.8 928h4v4h-4zM238.8 928h4v4h-4zM270.8 928h4v4h-4zM298.8 928h4v4h-4zM334.8 928h4v4h-4zM342.8 928h4v4h-4zM366.8 928h4v4h-4zM386.8 928h4v4h-4zM398.8 928h4v4h-4zM422.8 928h4v4h-4zM430.8 928h4v4h-4zM454.8 928h12v4h-12zM494.8 928h4v4h-4zM594.8 928h4v4h-4zM118.8 932h4v4h-4zM150.8 932h4v4h-4zM162.8 932h4v4h-4zM182.8 932h4v4h-4zM210.8 932h4v4h-4zM250.8 932h4v4h-4zM298.8 932h4v4h-4zM398.8 932h4v4h-4zM430.8 932h4v4h-4zM454.8 932h12v4h-12zM486.8 932h4v4h-4zM594.8 932h4v4h-4zM118.8 936h8v4h-8zM150.8 936h4v4h-4zM210.8 936h4v4h-4zM250.8 936h4v4h-4zM298.8 936h4v4h-4zM338.8 936h4v4h-4zM430.8 936h4v4h-4zM486.8 936h4v4h-4zM118.8 940h8v4h-8zM150.8 940h4v4h-4zM210.8 940h4v4h-4zM250.8 940h4v4h-4zM338.8 940h4v4h-4zM418.8 940h4v4h-4zM486.8 940h4v4h-4zM602.8 940h4v4h-4zM118.8 944h8v4h-8zM150.8 944h4v4h-4zM210.8 944h4v4h-4zM250.8 944h4v4h-4zM338.8 944h4v4h-4zM418.8 944h4v4h-4zM486.8 944h4v4h-4zM602.8 944h4v4h-4z"/><path fill="rgb(81,81,81)" d="M382.8 644h4v4h-4zM126.8 664h4v4h-4zM442.8 664h4v4h-4zM126.8 668h4v4h-4zM442.8 668h4v4h-4zM126.8 672h4v4h-4zM442.8 672h4v4h-4zM338.8 676h4v4h-4zM442.8 676h4v4h-4zM338.8 680h4v4h-4zM442.8 680h4v4h-4zM338.8 684h4v4h-4zM442.8 684h4v4h-4zM338.8 688h4v4h-4zM442.8 688h4v4h-4zM374.8 696h4v4h-4zM374.8 700h4v4h-4zM374.8 704h4v4h-4zM374.8 708h4v4h-4zM290.8 712h4v4h-4zM338.8 712h4v4h-4zM414.8 712h4v4h-4zM598.8 712h4v4h-4zM374.8 716h4v4h-4zM414.8 716h4v4h-4zM598.8 716h4v4h-4zM418.8 720h4v4h-4zM602.8 720h4v4h-4zM294.8 764h4v4h-4zM294.8 768h4v4h-4zM374.8 768h4v4h-4zM294.8 772h4v4h-4zM374.8 772h4v4h-4zM294.8 776h4v4h-4zM374.8 776h4v4h-4zM294.8 780h4v4h-4zM374.8 780h4v4h-4zM414.8 780h4v4h-4zM598.8 780h4v4h-4zM294.8 784h4v4h-4zM414.8 784h4v4h-4zM598.8 784h4v4h-4zM294.8 788h4v4h-4zM414.8 788h4v4h-4zM598.8 788h4v4h-4zM294.8 792h4v4h-4zM414.8 792h4v4h-4zM598.8 792h4v4h-4zM294.8 796h4v4h-4zM414.8 796h4v4h-4zM598.8 796h4v4h-4zM294.8 800h4v4h-4zM414.8 800h4v4h-4zM598.8 800h4v4h-4zM294.8 804h4v4h-4zM414.8 804h4v4h-4zM598.8 804h4v4h-4zM294.8 808h4v4h-4zM414.8 808h4v4h-4zM598.8 808h4v4h-4zM294.8 812h4v4h-4zM414.8 812h4v4h-4zM598.8 812h4v4h-4zM282.8 816h4v4h-4zM378.8 816h4v4h-4zM414.8 816h4v4h-4zM598.8 816h4v4h-4zM378.8 820h4v4h-4zM414.8 820h4v4h-4zM598.8 820h4v4h-4zM414.8 824h4v4h-4zM598.8 824h4v4h-4zM442.8 832h4v4h-4zM262.8 836h4v4h-4zM546.8 836h4v4h-4zM194.8 840h4v4h-4zM510.8 840h4v4h-4zM538.8 844h4v4h-4zM578.8 904h4v4h-4zM110.8 908h8v4h-8zM138.8 908h4v4h-4zM170.8 908h4v4h-4zM202.8 908h4v4h-4zM226.8 908h4v4h-4zM322.8 908h4v4h-4zM346.8 908h4v4h-4zM410.8 908h4v4h-4zM434.8 908h4v4h-4zM466.8 908h4v4h-4zM506.8 908h4v4h-4zM542.8 908h8v4h-8zM582.8 908h12v4h-12zM134.8 912h4v4h-4zM146.8 912h4v4h-4zM166.8 912h4v4h-4zM354.8 912h4v4h-4zM402.8 912h4v4h-4zM414.8 912h4v4h-4zM442.8 912h8v4h-8zM470.8 912h4v4h-4zM514.8 912h4v4h-4zM538.8 912h4v4h-4zM570.8 912h8v4h-8zM610.8 912h12v4h-12zM142.8 916h4v4h-4zM158.8 916h4v4h-4zM178.8 916h4v4h-4zM190.8 916h4v4h-4zM198.8 916h4v4h-4zM222.8 916h4v4h-4zM230.8 916h4v4h-4zM246.8 916h4v4h-4zM254.8 916h4v4h-4zM262.8 916h8v4h-8zM278.8 916h12v4h-12zM294.8 916h4v4h-4zM310.8 916h4v4h-4zM318.8 916h4v4h-4zM326.8 916h4v4h-4zM350.8 916h4v4h-4zM358.8 916h4v4h-4zM390.8 916h4v4h-4zM406.8 916h4v4h-4zM438.8 916h4v4h-4zM474.8 916h4v4h-4zM598.8 916h4v4h-4zM126.8 920h4v4h-4zM162.8 920h4v4h-4zM174.8 920h4v4h-4zM182.8 920h4v4h-4zM206.8 920h4v4h-4zM214.8 920h4v4h-4zM238.8 920h4v4h-4zM246.8 920h4v4h-4zM270.8 920h4v4h-4zM302.8 920h4v4h-4zM310.8 920h4v4h-4zM334.8 920h4v4h-4zM342.8 920h4v4h-4zM366.8 920h12v4h-12zM386.8 920h4v4h-4zM398.8 920h4v4h-4zM422.8 920h4v4h-4zM454.8 920h12v4h-12zM494.8 920h4v4h-4zM594.8 920h4v4h-4zM118.8 924h4v4h-4zM150.8 924h4v4h-4zM162.8 924h4v4h-4zM182.8 924h4v4h-4zM210.8 924h4v4h-4zM250.8 924h4v4h-4zM298.8 924h4v4h-4zM398.8 924h4v4h-4zM430.8 924h4v4h-4zM454.8 924h4v4h-4zM462.8 924h4v4h-4zM486.8 924h4v4h-4zM594.8 924h4v4h-4zM118.8 928h8v4h-8zM130.8 928h4v4h-4zM150.8 928h4v4h-4zM210.8 928h4v4h-4zM250.8 928h4v4h-4zM338.8 928h4v4h-4zM418.8 928h4v4h-4zM426.8 928h4v4h-4zM486.8 928h4v4h-4zM602.8 928h4v4h-4zM122.8 932h4v4h-4zM130.8 932h4v4h-4zM330.8 932h4v4h-4zM338.8 932h4v4h-4zM418.8 932h4v4h-4zM426.8 932h4v4h-4zM602.8 932h8v4h-8zM130.8 936h4v4h-4zM154.8 936h4v4h-4zM218.8 936h4v4h-4zM242.8 936h4v4h-4zM330.8 936h4v4h-4zM418.8 936h4v4h-4zM426.8 936h4v4h-4zM450.8 936h4v4h-4zM602.8 936h8v4h-8zM130.8 940h4v4h-4zM154.8 940h4v4h-4zM218.8 940h4v4h-4zM242.8 940h4v4h-4zM306.8 940h4v4h-4zM330.8 940h4v4h-4zM394.8 940h4v4h-4zM426.8 940h4v4h-4zM450.8 940h4v4h-4zM482.8 940h4v4h-4zM606.8 940h4v4h-4zM130.8 944h4v4h-4zM154.8 944h4v4h-4zM218.8 944h4v4h-4zM242.8 944h4v4h-4zM306.8 944h4v4h-4zM330.8 944h4v4h-4zM394.8 944h4v4h-4zM426.8 944h4v4h-4zM450.8 944h4v4h-4zM482.8 944h4v4h-4zM606.8 944h4v4h-4z"/><path fill="rgb(85,85,85)" d="M418.8 648h4v4h-4zM602.8 652h4v4h-4zM126.8 676h4v4h-4zM126.8 680h4v4h-4zM126.8 684h4v4h-4zM126.8 688h4v4h-4zM338.8 692h4v4h-4zM338.8 696h4v4h-4zM338.8 700h8v4h-8zM338.8 704h8v4h-8zM338.8 708h8v4h-8zM374.8 712h4v4h-4zM130.8 716h4v4h-4zM294.8 716h4v4h-4zM126.8 720h4v4h-4zM382.8 720h4v4h-4zM378.8 724h4v4h-4zM378.8 764h4v4h-4zM378.8 780h4v4h-4zM374.8 784h8v4h-8zM374.8 788h8v4h-8zM374.8 792h8v4h-8zM374.8 796h8v4h-8zM374.8 800h8v4h-8zM374.8 804h8v4h-8zM374.8 808h8v4h-8zM374.8 812h8v4h-8zM386.8 812h4v4h-4zM294.8 816h4v4h-4zM334.8 816h4v4h-4zM346.8 816h4v4h-4zM374.8 816h4v4h-4zM430.8 816h4v4h-4zM330.8 820h4v4h-4zM398.8 824h4v4h-4zM286.8 828h4v4h-4zM206.8 836h4v4h-4zM494.8 836h4v4h-4zM594.8 836h4v4h-4zM150.8 840h4v4h-4zM558.8 840h4v4h-4zM238.8 844h4v4h-4zM246.8 844h4v4h-4zM522.8 848h4v4h-4zM170.8 904h4v4h-4zM202.8 904h4v4h-4zM258.8 904h4v4h-4zM290.8 904h4v4h-4zM378.8 904h4v4h-4zM466.8 904h4v4h-4zM510.8 904h4v4h-4zM526.8 904h4v4h-4zM562.8 904h8v4h-8zM134.8 908h4v4h-4zM146.8 908h4v4h-4zM234.8 908h4v4h-4zM314.8 908h4v4h-4zM402.8 908h4v4h-4zM442.8 908h4v4h-4zM470.8 908h4v4h-4zM514.8 908h8v4h-8zM538.8 908h4v4h-4zM550.8 908h4v4h-4zM574.8 908h4v4h-4zM610.8 908h12v4h-12zM142.8 912h4v4h-4zM158.8 912h4v4h-4zM178.8 912h4v4h-4zM190.8 912h12v4h-12zM222.8 912h4v4h-4zM230.8 912h4v4h-4zM254.8 912h4v4h-4zM262.8 912h8v4h-8zM278.8 912h12v4h-12zM294.8 912h4v4h-4zM318.8 912h4v4h-4zM326.8 912h4v4h-4zM350.8 912h4v4h-4zM358.8 912h4v4h-4zM382.8 912h4v4h-4zM390.8 912h4v4h-4zM406.8 912h4v4h-4zM438.8 912h4v4h-4zM474.8 912h8v4h-8zM490.8 912h4v4h-4zM598.8 912h4v4h-4zM126.8 916h4v4h-4zM162.8 916h4v4h-4zM174.8 916h4v4h-4zM182.8 916h4v4h-4zM206.8 916h4v4h-4zM214.8 916h4v4h-4zM238.8 916h4v4h-4zM270.8 916h4v4h-4zM298.8 916h8v4h-8zM334.8 916h4v4h-4zM342.8 916h4v4h-4zM366.8 916h12v4h-12zM386.8 916h4v4h-4zM398.8 916h4v4h-4zM422.8 916h4v4h-4zM430.8 916h4v4h-4zM454.8 916h12v4h-12zM494.8 916h4v4h-4zM594.8 916h4v4h-4zM118.8 920h8v4h-8zM150.8 920h4v4h-4zM210.8 920h4v4h-4zM250.8 920h4v4h-4zM298.8 920h4v4h-4zM338.8 920h4v4h-4zM418.8 920h4v4h-4zM430.8 920h4v4h-4zM486.8 920h4v4h-4zM602.8 920h4v4h-4zM122.8 924h4v4h-4zM130.8 924h4v4h-4zM218.8 924h4v4h-4zM330.8 924h4v4h-4zM338.8 924h4v4h-4zM418.8 924h4v4h-4zM426.8 924h4v4h-4zM602.8 924h8v4h-8zM154.8 928h4v4h-4zM186.8 928h4v4h-4zM218.8 928h4v4h-4zM242.8 928h4v4h-4zM306.8 928h4v4h-4zM330.8 928h4v4h-4zM394.8 928h4v4h-4zM450.8 928h4v4h-4zM482.8 928h4v4h-4zM606.8 928h4v4h-4zM154.8 932h4v4h-4zM186.8 932h4v4h-4zM218.8 932h4v4h-4zM242.8 932h4v4h-4zM274.8 932h4v4h-4zM306.8 932h4v4h-4zM362.8 932h4v4h-4zM394.8 932h4v4h-4zM450.8 932h4v4h-4zM482.8 932h4v4h-4zM186.8 936h4v4h-4zM274.8 936h4v4h-4zM306.8 936h4v4h-4zM362.8 936h4v4h-4zM394.8 936h4v4h-4zM482.8 936h4v4h-4zM186.8 940h4v4h-4zM274.8 940h4v4h-4zM362.8 940h4v4h-4zM186.8 944h4v4h-4zM274.8 944h4v4h-4zM362.8 944h4v4h-4z"/><path fill="rgb(89,89,89)" d="M294.8 640h4v4h-4zM342.8 648h4v4h-4zM342.8 676h4v4h-4zM342.8 680h4v4h-4zM342.8 684h4v4h-4zM342.8 688h4v4h-4zM126.8 692h4v4h-4zM342.8 692h4v4h-4zM126.8 696h4v4h-4zM342.8 696h4v4h-4zM126.8 700h4v4h-4zM126.8 704h8v4h-8zM130.8 708h4v4h-4zM294.8 708h4v4h-4zM418.8 708h4v4h-4zM602.8 708h4v4h-4zM130.8 712h4v4h-4zM294.8 712h4v4h-4zM418.8 712h4v4h-4zM602.8 712h4v4h-4zM418.8 716h4v4h-4zM602.8 716h4v4h-4zM378.8 768h4v4h-4zM378.8 772h4v4h-4zM378.8 776h4v4h-4zM186.8 816h4v4h-4zM394.8 816h4v4h-4zM374.8 820h4v4h-4zM186.8 824h4v4h-4zM374.8 824h4v4h-4zM286.8 836h4v4h-4zM550.8 836h4v4h-4zM182.8 848h4v4h-4zM110.8 904h8v4h-8zM138.8 904h4v4h-4zM226.8 904h4v4h-4zM234.8 904h4v4h-4zM322.8 904h4v4h-4zM346.8 904h4v4h-4zM410.8 904h4v4h-4zM434.8 904h4v4h-4zM506.8 904h4v4h-4zM522.8 904h4v4h-4zM582.8 904h12v4h-12zM166.8 908h4v4h-4zM190.8 908h12v4h-12zM222.8 908h4v4h-4zM230.8 908h4v4h-4zM254.8 908h4v4h-4zM266.8 908h4v4h-4zM282.8 908h8v4h-8zM318.8 908h4v4h-4zM326.8 908h4v4h-4zM350.8 908h12v4h-12zM382.8 908h4v4h-4zM414.8 908h4v4h-4zM438.8 908h4v4h-4zM446.8 908h4v4h-4zM478.8 908h4v4h-4zM490.8 908h4v4h-4zM570.8 908h4v4h-4zM598.8 908h4v4h-4zM126.8 912h4v4h-4zM162.8 912h4v4h-4zM174.8 912h4v4h-4zM182.8 912h4v4h-4zM206.8 912h4v4h-4zM214.8 912h4v4h-4zM238.8 912h4v4h-4zM246.8 912h4v4h-4zM270.8 912h4v4h-4zM298.8 912h8v4h-8zM310.8 912h4v4h-4zM334.8 912h4v4h-4zM342.8 912h4v4h-4zM366.8 912h12v4h-12zM386.8 912h4v4h-4zM398.8 912h4v4h-4zM422.8 912h4v4h-4zM430.8 912h4v4h-4zM454.8 912h12v4h-12zM494.8 912h4v4h-4zM594.8 912h4v4h-4zM118.8 916h8v4h-8zM130.8 916h4v4h-4zM150.8 916h4v4h-4zM210.8 916h4v4h-4zM250.8 916h4v4h-4zM338.8 916h4v4h-4zM418.8 916h4v4h-4zM426.8 916h4v4h-4zM486.8 916h4v4h-4zM602.8 916h4v4h-4zM130.8 920h4v4h-4zM154.8 920h4v4h-4zM218.8 920h4v4h-4zM242.8 920h4v4h-4zM306.8 920h4v4h-4zM330.8 920h4v4h-4zM426.8 920h4v4h-4zM450.8 920h4v4h-4zM482.8 920h4v4h-4zM606.8 920h4v4h-4zM154.8 924h4v4h-4zM186.8 924h4v4h-4zM242.8 924h4v4h-4zM274.8 924h4v4h-4zM306.8 924h4v4h-4zM362.8 924h4v4h-4zM394.8 924h4v4h-4zM450.8 924h4v4h-4zM482.8 924h4v4h-4zM274.8 928h4v4h-4zM362.8 928h4v4h-4z"/><path fill="rgb(93,93,93)" d="M130.8 644h4v4h-4zM294.8 644h4v4h-4zM294.8 648h4v4h-4zM378.8 648h4v4h-4zM294.8 652h4v4h-4zM342.8 652h4v4h-4zM418.8 652h4v4h-4zM294.8 656h4v4h-4zM342.8 656h4v4h-4zM418.8 656h4v4h-4zM602.8 656h4v4h-4zM294.8 660h4v4h-4zM342.8 660h4v4h-4zM418.8 660h4v4h-4zM602.8 660h4v4h-4zM294.8 664h4v4h-4zM342.8 664h4v4h-4zM418.8 664h4v4h-4zM602.8 664h4v4h-4zM294.8 668h4v4h-4zM342.8 668h4v4h-4zM418.8 668h4v4h-4zM602.8 668h4v4h-4zM294.8 672h4v4h-4zM342.8 672h4v4h-4zM418.8 672h4v4h-4zM602.8 672h4v4h-4zM294.8 676h4v4h-4zM418.8 676h4v4h-4zM602.8 676h4v4h-4zM130.8 680h4v4h-4zM294.8 680h4v4h-4zM418.8 680h4v4h-4zM602.8 680h4v4h-4zM130.8 684h4v4h-4zM294.8 684h4v4h-4zM418.8 684h4v4h-4zM602.8 684h4v4h-4zM130.8 688h4v4h-4zM294.8 688h4v4h-4zM418.8 688h4v4h-4zM602.8 688h4v4h-4zM130.8 692h4v4h-4zM294.8 692h4v4h-4zM418.8 692h4v4h-4zM602.8 692h4v4h-4zM130.8 696h4v4h-4zM294.8 696h4v4h-4zM418.8 696h4v4h-4zM602.8 696h4v4h-4zM130.8 700h4v4h-4zM294.8 700h4v4h-4zM418.8 700h4v4h-4zM602.8 700h4v4h-4zM294.8 704h4v4h-4zM418.8 704h4v4h-4zM602.8 704h4v4h-4zM126.8 708h4v4h-4zM126.8 712h4v4h-4zM126.8 716h4v4h-4zM382.8 716h4v4h-4zM434.8 824h4v4h-4zM478.8 832h4v4h-4zM258.8 836h4v4h-4zM478.8 840h4v4h-4zM366.8 844h4v4h-4zM578.8 844h4v4h-4zM498.8 900h8v4h-8zM510.8 900h4v4h-4zM578.8 900h4v4h-4zM134.8 904h4v4h-4zM146.8 904h4v4h-4zM166.8 904h4v4h-4zM314.8 904h4v4h-4zM354.8 904h4v4h-4zM402.8 904h4v4h-4zM414.8 904h4v4h-4zM442.8 904h8v4h-8zM470.8 904h4v4h-4zM514.8 904h8v4h-8zM538.8 904h4v4h-4zM570.8 904h8v4h-8zM610.8 904h12v4h-12zM126.8 908h4v4h-4zM142.8 908h4v4h-4zM158.8 908h4v4h-4zM174.8 908h8v4h-8zM206.8 908h4v4h-4zM214.8 908h4v4h-4zM238.8 908h4v4h-4zM246.8 908h4v4h-4zM262.8 908h4v4h-4zM270.8 908h4v4h-4zM278.8 908h4v4h-4zM294.8 908h4v4h-4zM302.8 908h4v4h-4zM310.8 908h4v4h-4zM334.8 908h4v4h-4zM342.8 908h4v4h-4zM366.8 908h12v4h-12zM386.8 908h8v4h-8zM406.8 908h4v4h-4zM422.8 908h4v4h-4zM458.8 908h4v4h-4zM474.8 908h4v4h-4zM494.8 908h4v4h-4zM118.8 912h8v4h-8zM150.8 912h4v4h-4zM210.8 912h4v4h-4zM250.8 912h4v4h-4zM338.8 912h4v4h-4zM418.8 912h4v4h-4zM486.8 912h4v4h-4zM602.8 912h4v4h-4zM154.8 916h4v4h-4zM218.8 916h4v4h-4zM242.8 916h4v4h-4zM306.8 916h4v4h-4zM330.8 916h4v4h-4zM394.8 916h4v4h-4zM450.8 916h4v4h-4zM482.8 916h4v4h-4zM606.8 916h4v4h-4zM186.8 920h4v4h-4zM274.8 920h4v4h-4zM362.8 920h4v4h-4zM394.8 920h4v4h-4z"/><path fill="rgb(97,97,97)" d="M130.8 648h4v4h-4zM130.8 652h4v4h-4zM130.8 656h4v4h-4zM130.8 660h4v4h-4zM130.8 664h4v4h-4zM130.8 668h4v4h-4zM130.8 672h4v4h-4zM130.8 676h4v4h-4zM382.8 700h4v4h-4zM382.8 704h4v4h-4zM382.8 708h4v4h-4zM382.8 712h4v4h-4zM378.8 720h4v4h-4zM306.8 808h4v4h-4zM358.8 808h4v4h-4zM338.8 812h8v4h-8zM122.8 816h4v4h-4zM310.8 816h4v4h-4zM118.8 824h4v4h-4zM286.8 832h4v4h-4zM150.8 836h8v4h-8zM162.8 840h4v4h-4zM514.8 840h4v4h-4zM554.8 840h4v4h-4zM166.8 844h4v4h-4zM518.8 844h4v4h-4zM590.8 848h4v4h-4zM138.8 900h4v4h-4zM322.8 900h4v4h-4zM410.8 900h4v4h-4zM530.8 900h4v4h-4zM582.8 900h8v4h-8zM142.8 904h4v4h-4zM158.8 904h4v4h-4zM190.8 904h12v4h-12zM222.8 904h4v4h-4zM230.8 904h4v4h-4zM254.8 904h4v4h-4zM294.8 904h4v4h-4zM318.8 904h4v4h-4zM326.8 904h4v4h-4zM358.8 904h4v4h-4zM382.8 904h4v4h-4zM390.8 904h4v4h-4zM438.8 904h4v4h-4zM478.8 904h4v4h-4zM490.8 904h4v4h-4zM550.8 904h4v4h-4zM598.8 904h4v4h-4zM118.8 908h4v4h-4zM150.8 908h4v4h-4zM162.8 908h4v4h-4zM182.8 908h4v4h-4zM210.8 908h4v4h-4zM250.8 908h4v4h-4zM298.8 908h4v4h-4zM398.8 908h4v4h-4zM430.8 908h4v4h-4zM454.8 908h4v4h-4zM462.8 908h4v4h-4zM486.8 908h4v4h-4zM594.8 908h4v4h-4zM130.8 912h4v4h-4zM154.8 912h4v4h-4zM218.8 912h4v4h-4zM242.8 912h4v4h-4zM306.8 912h4v4h-4zM330.8 912h4v4h-4zM426.8 912h4v4h-4zM450.8 912h4v4h-4zM482.8 912h4v4h-4zM606.8 912h4v4h-4zM186.8 916h4v4h-4zM274.8 916h4v4h-4zM362.8 916h4v4h-4z"/><path fill="rgb(101,101,101)" d="M382.8 648h4v4h-4zM378.8 652h4v4h-4zM378.8 656h4v4h-4zM378.8 660h4v4h-4zM378.8 664h4v4h-4zM378.8 668h4v4h-4zM382.8 676h4v4h-4zM382.8 680h4v4h-4zM382.8 684h4v4h-4zM382.8 688h4v4h-4zM382.8 692h4v4h-4zM382.8 696h4v4h-4zM362.8 816h4v4h-4zM186.8 820h4v4h-4zM274.8 820h4v4h-4zM218.8 828h4v4h-4zM490.8 836h4v4h-4zM226.8 840h4v4h-4zM482.8 840h4v4h-4zM562.8 840h4v4h-4zM594.8 840h4v4h-4zM110.8 844h8v4h-8zM170.8 844h4v4h-4zM198.8 844h4v4h-4zM242.8 844h4v4h-4zM542.8 844h4v4h-4zM250.8 848h4v4h-4zM134.8 900h4v4h-4zM146.8 900h4v4h-4zM226.8 900h4v4h-4zM234.8 900h4v4h-4zM314.8 900h4v4h-4zM402.8 900h4v4h-4zM506.8 900h4v4h-4zM514.8 900h8v4h-8zM534.8 900h4v4h-4zM574.8 900h4v4h-4zM590.8 900h4v4h-4zM126.8 904h4v4h-4zM162.8 904h4v4h-4zM206.8 904h4v4h-4zM214.8 904h4v4h-4zM238.8 904h4v4h-4zM246.8 904h4v4h-4zM266.8 904h8v4h-8zM278.8 904h4v4h-4zM302.8 904h4v4h-4zM310.8 904h4v4h-4zM334.8 904h4v4h-4zM342.8 904h4v4h-4zM350.8 904h4v4h-4zM366.8 904h4v4h-4zM386.8 904h4v4h-4zM406.8 904h4v4h-4zM422.8 904h4v4h-4zM474.8 904h4v4h-4zM494.8 904h4v4h-4zM594.8 904h4v4h-4zM122.8 908h4v4h-4zM130.8 908h4v4h-4zM330.8 908h4v4h-4zM338.8 908h4v4h-4zM418.8 908h4v4h-4zM426.8 908h4v4h-4zM602.8 908h8v4h-8zM186.8 912h4v4h-4zM274.8 912h4v4h-4zM362.8 912h4v4h-4zM394.8 912h4v4h-4z"/><path fill="rgb(105,105,105)" d="M382.8 652h4v4h-4zM382.8 656h4v4h-4zM382.8 660h4v4h-4zM382.8 664h4v4h-4zM382.8 668h4v4h-4zM378.8 672h8v4h-8zM378.8 676h4v4h-4zM378.8 680h4v4h-4zM378.8 684h4v4h-4zM378.8 688h4v4h-4zM378.8 692h4v4h-4zM378.8 696h4v4h-4zM378.8 700h4v4h-4zM378.8 704h4v4h-4zM378.8 716h4v4h-4zM146.8 804h4v4h-4zM298.8 812h4v4h-4zM350.8 812h4v4h-4zM174.8 824h4v4h-4zM290.8 824h4v4h-4zM222.8 828h4v4h-4zM466.8 832h4v4h-4zM210.8 836h4v4h-4zM438.8 836h4v4h-4zM478.8 836h4v4h-4zM230.8 840h4v4h-4zM286.8 840h4v4h-4zM362.8 840h4v4h-4zM502.8 840h4v4h-4zM190.8 844h4v4h-4zM534.8 844h4v4h-4zM570.8 844h4v4h-4zM582.8 844h4v4h-4zM186.8 848h4v4h-4zM526.8 848h4v4h-4zM578.8 896h4v4h-4zM166.8 900h4v4h-4zM202.8 900h4v4h-4zM222.8 900h4v4h-4zM254.8 900h4v4h-4zM382.8 900h4v4h-4zM414.8 900h4v4h-4zM446.8 900h4v4h-4zM470.8 900h4v4h-4zM478.8 900h4v4h-4zM490.8 900h4v4h-4zM554.8 900h8v4h-8zM570.8 900h4v4h-4zM598.8 900h4v4h-4zM118.8 904h8v4h-8zM150.8 904h4v4h-4zM174.8 904h12v4h-12zM210.8 904h4v4h-4zM250.8 904h4v4h-4zM262.8 904h4v4h-4zM298.8 904h4v4h-4zM338.8 904h4v4h-4zM370.8 904h4v4h-4zM398.8 904h4v4h-4zM430.8 904h4v4h-4zM454.8 904h4v4h-4zM462.8 904h4v4h-4zM486.8 904h4v4h-4zM542.8 904h4v4h-4zM154.8 908h4v4h-4zM186.8 908h4v4h-4zM218.8 908h4v4h-4zM242.8 908h4v4h-4zM274.8 908h4v4h-4zM306.8 908h4v4h-4zM362.8 908h4v4h-4zM394.8 908h4v4h-4zM450.8 908h4v4h-4zM482.8 908h4v4h-4z"/><path fill="rgb(109,109,109)" d="M378.8 708h4v4h-4zM378.8 712h4v4h-4zM302.8 808h4v4h-4zM138.8 812h4v4h-4zM150.8 812h4v4h-4zM278.8 816h4v4h-4zM330.8 824h4v4h-4zM410.8 832h4v4h-4zM234.8 836h4v4h-4zM266.8 836h4v4h-4zM498.8 836h4v4h-4zM566.8 840h4v4h-4zM182.8 844h4v4h-4zM254.8 844h4v4h-4zM574.8 848h4v4h-4zM502.8 896h4v4h-4zM510.8 896h4v4h-4zM582.8 896h4v4h-4zM126.8 900h4v4h-4zM142.8 900h4v4h-4zM158.8 900h4v4h-4zM190.8 900h4v4h-4zM214.8 900h4v4h-4zM230.8 900h4v4h-4zM238.8 900h4v4h-4zM246.8 900h4v4h-4zM270.8 900h4v4h-4zM294.8 900h4v4h-4zM302.8 900h4v4h-4zM310.8 900h4v4h-4zM318.8 900h4v4h-4zM326.8 900h4v4h-4zM334.8 900h4v4h-4zM342.8 900h4v4h-4zM358.8 900h4v4h-4zM378.8 900h4v4h-4zM386.8 900h4v4h-4zM406.8 900h4v4h-4zM422.8 900h4v4h-4zM474.8 900h4v4h-4zM494.8 900h4v4h-4zM130.8 904h4v4h-4zM154.8 904h4v4h-4zM218.8 904h4v4h-4zM242.8 904h4v4h-4zM330.8 904h4v4h-4zM418.8 904h4v4h-4zM426.8 904h4v4h-4zM546.8 904h4v4h-4zM602.8 904h8v4h-8z"/><path fill="rgb(113,113,113)" d="M354.8 808h4v4h-4zM326.8 812h4v4h-4zM458.8 816h4v4h-4zM314.8 820h4v4h-4zM158.8 836h4v4h-4zM486.8 836h4v4h-4zM150.8 844h4v4h-4zM194.8 844h4v4h-4zM202.8 844h4v4h-4zM506.8 844h4v4h-4zM586.8 848h4v4h-4zM146.8 896h4v4h-4zM226.8 896h4v4h-4zM234.8 896h4v4h-4zM314.8 896h4v4h-4zM506.8 896h4v4h-4zM574.8 896h4v4h-4zM586.8 896h4v4h-4zM118.8 900h4v4h-4zM150.8 900h4v4h-4zM162.8 900h4v4h-4zM170.8 900h4v4h-4zM206.8 900h8v4h-8zM250.8 900h4v4h-4zM258.8 900h4v4h-4zM298.8 900h4v4h-4zM390.8 900h4v4h-4zM398.8 900h4v4h-4zM430.8 900h4v4h-4zM466.8 900h4v4h-4zM486.8 900h4v4h-4zM594.8 900h4v4h-4zM610.8 900h4v4h-4zM186.8 904h4v4h-4zM274.8 904h4v4h-4zM286.8 904h4v4h-4zM306.8 904h4v4h-4zM362.8 904h4v4h-4zM374.8 904h4v4h-4zM394.8 904h4v4h-4zM450.8 904h4v4h-4zM482.8 904h4v4h-4z"/><path fill="rgb(117,117,117)" d="M374.8 828h4v4h-4zM446.8 828h4v4h-4zM206.8 840h4v4h-4zM546.8 840h4v4h-4zM510.8 844h4v4h-4zM530.8 844h4v4h-4zM558.8 844h4v4h-4zM246.8 848h4v4h-4zM538.8 848h4v4h-4zM138.8 896h4v4h-4zM166.8 896h4v4h-4zM222.8 896h4v4h-4zM490.8 896h4v4h-4zM498.8 896h4v4h-4zM514.8 896h4v4h-4zM122.8 900h4v4h-4zM130.8 900h4v4h-4zM290.8 900h4v4h-4zM330.8 900h4v4h-4zM338.8 900h4v4h-4zM418.8 900h4v4h-4zM426.8 900h4v4h-4zM434.8 900h4v4h-4zM442.8 900h4v4h-4zM602.8 900h8v4h-8zM614.8 900h8v4h-8zM282.8 904h4v4h-4z"/><path fill="rgb(121,121,121)" d="M602.8 820h4v4h-4zM398.8 828h4v4h-4zM370.8 836h4v4h-4zM154.8 840h4v4h-4zM262.8 840h4v4h-4zM438.8 840h4v4h-4zM494.8 840h4v4h-4zM362.8 844h4v4h-4zM478.8 844h4v4h-4zM594.8 844h4v4h-4zM166.8 848h4v4h-4zM234.8 848h4v4h-4zM402.8 848h4v4h-4zM522.8 852h4v4h-4zM578.8 892h4v4h-4zM142.8 896h4v4h-4zM214.8 896h4v4h-4zM230.8 896h4v4h-4zM246.8 896h4v4h-4zM318.8 896h4v4h-4zM402.8 896h4v4h-4zM422.8 896h4v4h-4zM494.8 896h4v4h-4zM590.8 896h4v4h-4zM110.8 900h8v4h-8zM154.8 900h4v4h-4zM186.8 900h4v4h-4zM218.8 900h4v4h-4zM242.8 900h4v4h-4zM274.8 900h4v4h-4zM306.8 900h4v4h-4zM362.8 900h8v4h-8zM394.8 900h4v4h-4zM450.8 900h4v4h-4zM482.8 900h4v4h-4zM526.8 900h4v4h-4zM538.8 900h4v4h-4zM562.8 900h8v4h-8zM458.8 904h4v4h-4z"/><path fill="rgb(125,125,125)" d="M142.8 808h4v4h-4zM126.8 812h4v4h-4zM134.8 812h4v4h-4zM462.8 824h4v4h-4zM150.8 832h4v4h-4zM214.8 836h4v4h-4zM362.8 836h4v4h-4zM234.8 840h4v4h-4zM406.8 840h4v4h-4zM230.8 844h8v4h-8zM286.8 844h4v4h-4zM182.8 852h4v4h-4zM226.8 892h4v4h-4zM582.8 892h4v4h-4zM134.8 896h4v4h-4zM150.8 896h4v4h-4zM162.8 896h4v4h-4zM210.8 896h4v4h-4zM238.8 896h4v4h-4zM250.8 896h4v4h-4zM294.8 896h8v4h-8zM322.8 896h4v4h-4zM334.8 896h4v4h-4zM398.8 896h4v4h-4zM486.8 896h4v4h-4zM182.8 900h4v4h-4zM194.8 900h8v4h-8zM346.8 900h4v4h-4zM522.8 900h4v4h-4z"/><path fill="rgb(130,130,130)" d="M390.8 812h4v4h-4zM282.8 820h4v4h-4zM470.8 832h4v4h-4zM466.8 836h4v4h-4zM490.8 840h4v4h-4zM162.8 844h4v4h-4zM466.8 844h4v4h-4zM170.8 848h4v4h-4zM238.8 848h4v4h-4zM518.8 848h4v4h-4zM542.8 848h4v4h-4zM578.8 848h4v4h-4zM146.8 892h4v4h-4zM574.8 892h4v4h-4zM118.8 896h8v4h-8zM158.8 896h4v4h-4zM170.8 896h4v4h-4zM302.8 896h4v4h-4zM310.8 896h4v4h-4zM326.8 896h8v4h-8zM406.8 896h4v4h-4zM426.8 896h8v4h-8zM466.8 896h4v4h-4zM554.8 896h8v4h-8zM354.8 900h4v4h-4zM438.8 900h4v4h-4zM550.8 900h4v4h-4z"/><path fill="rgb(134,134,134)" d="M130.8 808h4v4h-4zM178.8 816h4v4h-4zM450.8 824h4v4h-4zM174.8 828h4v4h-4zM266.8 840h4v4h-4zM550.8 840h4v4h-4zM514.8 844h4v4h-4zM554.8 844h4v4h-4zM562.8 844h4v4h-4zM110.8 848h8v4h-8zM198.8 848h4v4h-4zM230.8 848h4v4h-4zM570.8 848h4v4h-4zM582.8 848h4v4h-4zM234.8 852h4v4h-4zM166.8 892h4v4h-4zM230.8 892h8v4h-8zM318.8 892h4v4h-4zM490.8 892h4v4h-4zM510.8 892h4v4h-4zM126.8 896h8v4h-8zM186.8 896h4v4h-4zM218.8 896h4v4h-4zM242.8 896h4v4h-4zM338.8 896h8v4h-8zM410.8 896h4v4h-4zM478.8 896h8v4h-8zM594.8 896h12v4h-12zM454.8 900h4v4h-4z"/><path fill="rgb(138,138,138)" d="M310.8 820h4v4h-4zM430.8 820h4v4h-4zM118.8 828h4v4h-4zM414.8 828h4v4h-4zM598.8 828h4v4h-4zM182.8 840h4v4h-4zM258.8 840h4v4h-4zM466.8 840h4v4h-4zM226.8 844h4v4h-4zM398.8 844h4v4h-4zM490.8 844h4v4h-4zM526.8 852h4v4h-4zM142.8 892h4v4h-4zM494.8 892h4v4h-4zM206.8 896h4v4h-4zM254.8 896h4v4h-4zM534.8 896h4v4h-4zM570.8 896h4v4h-4zM266.8 900h4v4h-4zM278.8 900h4v4h-4zM350.8 900h4v4h-4z"/><path fill="rgb(142,142,142)" d="M362.8 820h4v4h-4zM394.8 820h4v4h-4zM454.8 820h4v4h-4zM434.8 828h4v4h-4zM474.8 828h4v4h-4zM222.8 832h4v4h-4zM158.8 840h4v4h-4zM210.8 840h4v4h-4zM498.8 840h4v4h-4zM222.8 844h4v4h-4zM242.8 848h4v4h-4zM490.8 848h4v4h-4zM534.8 848h4v4h-4zM594.8 848h4v4h-4zM590.8 852h4v4h-4zM510.8 888h4v4h-4zM162.8 892h4v4h-4zM210.8 892h4v4h-4zM486.8 892h4v4h-4zM506.8 892h4v4h-4zM514.8 892h4v4h-4zM290.8 896h4v4h-4zM306.8 896h4v4h-4zM382.8 896h4v4h-4zM418.8 896h4v4h-4zM446.8 896h4v4h-4zM470.8 896h4v4h-4zM518.8 896h4v4h-4zM530.8 896h4v4h-4zM606.8 896h4v4h-4zM174.8 900h4v4h-4zM262.8 900h4v4h-4zM370.8 900h4v4h-4zM462.8 900h4v4h-4zM542.8 900h4v4h-4z"/><path fill="rgb(146,146,146)" d="M182.8 812h4v4h-4zM606.8 816h4v4h-4zM310.8 832h4v4h-4zM370.8 840h4v4h-4zM398.8 840h4v4h-4zM154.8 844h4v4h-4zM438.8 844h4v4h-4zM482.8 844h4v4h-4zM502.8 844h4v4h-4zM566.8 844h4v4h-4zM202.8 848h4v4h-4zM254.8 848h4v4h-4zM366.8 848h4v4h-4zM506.8 848h4v4h-4zM250.8 852h4v4h-4zM574.8 852h4v4h-4zM222.8 892h4v4h-4zM246.8 892h4v4h-4zM110.8 896h8v4h-8zM154.8 896h4v4h-4zM198.8 896h8v4h-8zM346.8 896h4v4h-4zM386.8 896h4v4h-4zM442.8 896h4v4h-4zM474.8 896h4v4h-4zM286.8 900h4v4h-4zM546.8 900h4v4h-4z"/><path fill="rgb(150,150,150)" d="M150.8 816h4v4h-4zM318.8 816h4v4h-4zM342.8 816h4v4h-4zM378.8 824h4v4h-4zM150.8 828h4v4h-4zM270.8 828h4v4h-4zM362.8 832h4v4h-4zM398.8 832h4v4h-4zM310.8 836h4v4h-4zM442.8 836h4v4h-4zM486.8 840h4v4h-4zM206.8 844h4v4h-4zM282.8 848h8v4h-8zM510.8 848h4v4h-4zM530.8 848h4v4h-4zM558.8 848h4v4h-4zM186.8 852h4v4h-4zM514.8 888h4v4h-4zM578.8 888h4v4h-4zM122.8 892h4v4h-4zM138.8 892h4v4h-4zM150.8 892h4v4h-4zM214.8 892h4v4h-4zM398.8 892h4v4h-4zM482.8 892h4v4h-4zM586.8 892h4v4h-4zM414.8 896h4v4h-4zM434.8 896h4v4h-4zM562.8 896h4v4h-4zM178.8 900h4v4h-4zM282.8 900h4v4h-4zM374.8 900h4v4h-4z"/><path fill="rgb(154,154,154)" d="M306.8 812h4v4h-4zM358.8 812h4v4h-4zM418.8 824h4v4h-4zM406.8 844h4v4h-4zM486.8 844h4v4h-4zM546.8 844h4v4h-4zM190.8 848h4v4h-4zM466.8 848h4v4h-4zM486.8 848h4v4h-4zM538.8 852h8v4h-8zM490.8 888h4v4h-4zM158.8 892h4v4h-4zM186.8 892h4v4h-4zM242.8 892h4v4h-4zM330.8 892h4v4h-4zM426.8 892h4v4h-4zM466.8 892h4v4h-4zM502.8 892h4v4h-4zM174.8 896h4v4h-4zM182.8 896h4v4h-4zM190.8 896h4v4h-4zM274.8 896h4v4h-4zM362.8 896h4v4h-4zM394.8 896h4v4h-4zM438.8 896h4v4h-4zM566.8 896h4v4h-4z"/><path fill="rgb(158,158,158)" d="M610.8 812h4v4h-4zM290.8 828h4v4h-4zM174.8 832h4v4h-4zM182.8 836h4v4h-4zM398.8 836h4v4h-4zM262.8 844h8v4h-8zM494.8 844h4v4h-4zM150.8 848h4v4h-4zM162.8 848h4v4h-4zM194.8 848h4v4h-4zM478.8 848h4v4h-4zM402.8 852h4v4h-4zM586.8 852h4v4h-4zM234.8 856h4v4h-4zM522.8 856h4v4h-4zM574.8 888h4v4h-4zM582.8 888h4v4h-4zM170.8 892h4v4h-4zM250.8 892h4v4h-4zM298.8 892h4v4h-4zM314.8 892h4v4h-4zM402.8 892h4v4h-4zM498.8 892h4v4h-4zM558.8 892h4v4h-4zM590.8 892h4v4h-4zM278.8 896h4v4h-4zM358.8 896h4v4h-4zM378.8 896h4v4h-4zM390.8 896h4v4h-4zM526.8 896h4v4h-4zM538.8 896h4v4h-4zM550.8 896h4v4h-4z"/><path fill="rgb(162,162,162)" d="M146.8 808h4v4h-4zM322.8 812h4v4h-4zM422.8 820h4v4h-4zM310.8 824h4v4h-4zM218.8 832h4v4h-4zM214.8 840h4v4h-4zM222.8 840h4v4h-4zM158.8 844h4v4h-4zM370.8 844h4v4h-4zM498.8 844h4v4h-4zM514.8 848h4v4h-4zM554.8 848h4v4h-4zM166.8 852h8v4h-8zM230.8 852h4v4h-4zM246.8 852h4v4h-4zM306.8 852h4v4h-4zM474.8 852h4v4h-4zM182.8 856h4v4h-4zM142.8 888h8v4h-8zM162.8 888h8v4h-8zM210.8 888h4v4h-4zM226.8 888h8v4h-8zM486.8 888h4v4h-4zM494.8 888h4v4h-4zM198.8 892h4v4h-4zM218.8 892h4v4h-4zM238.8 892h4v4h-4zM254.8 892h4v4h-4zM302.8 892h4v4h-4zM322.8 892h8v4h-8zM334.8 892h4v4h-4zM478.8 892h4v4h-4zM518.8 892h4v4h-4zM554.8 892h4v4h-4zM286.8 896h4v4h-4zM350.8 896h4v4h-4zM450.8 896h4v4h-4zM522.8 896h4v4h-4zM610.8 896h12v4h-12zM458.8 900h4v4h-4z"/><path fill="rgb(166,166,166)" d="M614.8 812h8v4h-8zM326.8 816h4v4h-4zM426.8 816h4v4h-4zM294.8 820h4v4h-4zM382.8 820h4v4h-4zM362.8 824h4v4h-4zM310.8 828h4v4h-4zM118.8 832h4v4h-4zM222.8 836h4v4h-4zM146.8 848h4v4h-4zM222.8 848h4v4h-4zM494.8 848h4v4h-4zM238.8 852h4v4h-4zM518.8 852h4v4h-4zM578.8 852h4v4h-4zM154.8 856h4v4h-4zM526.8 856h4v4h-4zM542.8 856h4v4h-4zM562.8 868h4v4h-4zM538.8 876h8v4h-8zM150.8 888h4v4h-4zM158.8 888h4v4h-4zM246.8 888h4v4h-4zM518.8 888h4v4h-4zM154.8 892h4v4h-4zM294.8 892h4v4h-4zM306.8 892h8v4h-8zM422.8 892h4v4h-4zM430.8 892h4v4h-4zM470.8 892h4v4h-4zM530.8 892h8v4h-8zM570.8 892h4v4h-4zM258.8 896h4v4h-4zM270.8 896h4v4h-4zM282.8 896h4v4h-4z"/><path fill="rgb(170,170,170)" d="M334.8 820h4v4h-4zM346.8 820h4v4h-4zM458.8 820h4v4h-4zM330.8 828h4v4h-4zM362.8 828h4v4h-4zM598.8 832h4v4h-4zM326.8 840h4v4h-4zM210.8 844h4v4h-4zM282.8 844h4v4h-4zM398.8 848h4v4h-4zM406.8 848h4v4h-4zM502.8 848h4v4h-4zM562.8 848h8v4h-8zM110.8 852h8v4h-8zM198.8 852h4v4h-4zM286.8 852h4v4h-4zM490.8 852h4v4h-4zM498.8 852h4v4h-4zM534.8 852h4v4h-4zM558.8 852h4v4h-4zM570.8 852h4v4h-4zM594.8 852h4v4h-4zM230.8 856h4v4h-4zM498.8 856h4v4h-4zM182.8 860h4v4h-4zM498.8 860h4v4h-4zM178.8 864h8v4h-8zM478.8 864h12v4h-12zM498.8 864h4v4h-4zM562.8 872h4v4h-4zM186.8 876h4v4h-4zM562.8 876h4v4h-4zM158.8 880h8v4h-8zM222.8 880h8v4h-8zM526.8 880h4v4h-4zM146.8 884h4v4h-4zM154.8 884h12v4h-12zM226.8 884h4v4h-4zM526.8 884h8v4h-8zM154.8 888h4v4h-4zM198.8 888h4v4h-4zM214.8 888h4v4h-4zM466.8 888h4v4h-4zM530.8 888h4v4h-4zM118.8 892h4v4h-4zM134.8 892h4v4h-4zM206.8 892h4v4h-4zM446.8 892h4v4h-4zM474.8 892h4v4h-4zM194.8 896h4v4h-4zM262.8 896h8v4h-8zM366.8 896h4v4h-4zM462.8 896h4v4h-4z"/><path fill="rgb(174,174,174)" d="M386.8 816h4v4h-4zM150.8 824h4v4h-4zM182.8 832h4v4h-4zM174.8 836h4v4h-4zM310.8 840h4v4h-4zM214.8 844h4v4h-4zM550.8 844h4v4h-4zM206.8 848h4v4h-4zM226.8 848h4v4h-4zM362.8 848h4v4h-4zM482.8 848h4v4h-4zM498.8 848h4v4h-4zM546.8 848h4v4h-4zM466.8 852h4v4h-4zM494.8 852h4v4h-4zM530.8 852h4v4h-4zM582.8 852h4v4h-4zM158.8 856h4v4h-4zM178.8 856h4v4h-4zM474.8 856h4v4h-4zM530.8 856h4v4h-4zM538.8 856h4v4h-4zM178.8 860h4v4h-4zM478.8 860h4v4h-4zM542.8 860h4v4h-4zM186.8 864h4v4h-4zM206.8 868h4v4h-4zM486.8 868h4v4h-4zM522.8 868h4v4h-4zM486.8 872h4v4h-4zM538.8 872h4v4h-4zM146.8 876h4v4h-4zM166.8 876h4v4h-4zM486.8 876h4v4h-4zM510.8 876h4v4h-4zM546.8 876h4v4h-4zM146.8 880h12v4h-12zM166.8 880h4v4h-4zM218.8 880h4v4h-4zM498.8 880h4v4h-4zM522.8 880h4v4h-4zM530.8 880h24v4h-24zM150.8 884h4v4h-4zM166.8 884h4v4h-4zM222.8 884h4v4h-4zM498.8 884h4v4h-4zM522.8 884h4v4h-4zM570.8 884h4v4h-4zM186.8 888h12v4h-12zM234.8 888h4v4h-4zM242.8 888h4v4h-4zM254.8 888h8v4h-8zM482.8 888h4v4h-4zM126.8 892h4v4h-4zM182.8 892h4v4h-4zM190.8 892h4v4h-4zM202.8 892h4v4h-4zM290.8 892h4v4h-4zM382.8 892h4v4h-4zM406.8 892h4v4h-4zM594.8 892h4v4h-4zM602.8 892h8v4h-8zM354.8 896h4v4h-4z"/><path fill="rgb(178,178,178)" d="M134.8 816h4v4h-4zM182.8 816h4v4h-4zM150.8 820h4v4h-4zM282.8 824h4v4h-4zM462.8 828h4v4h-4zM290.8 832h4v4h-4zM474.8 832h4v4h-4zM210.8 848h8v4h-8zM266.8 848h4v4h-4zM306.8 848h4v4h-4zM358.8 848h4v4h-4zM370.8 848h4v4h-4zM438.8 848h4v4h-4zM474.8 848h4v4h-4zM162.8 852h4v4h-4zM202.8 852h4v4h-4zM242.8 852h4v4h-4zM254.8 852h4v4h-4zM366.8 852h4v4h-4zM506.8 852h8v4h-8zM546.8 852h4v4h-4zM554.8 852h4v4h-4zM150.8 856h4v4h-4zM218.8 856h4v4h-4zM534.8 856h4v4h-4zM546.8 856h4v4h-4zM558.8 856h4v4h-4zM574.8 856h4v4h-4zM482.8 860h4v4h-4zM546.8 860h4v4h-4zM394.8 864h4v4h-4zM546.8 864h8v4h-8zM154.8 868h4v4h-4zM242.8 868h4v4h-4zM498.8 868h4v4h-4zM526.8 868h4v4h-4zM566.8 868h4v4h-4zM574.8 868h12v4h-12zM522.8 872h4v4h-4zM534.8 872h4v4h-4zM174.8 876h4v4h-4zM222.8 876h8v4h-8zM250.8 876h4v4h-4zM514.8 876h8v4h-8zM534.8 876h4v4h-4zM534.8 884h4v4h-4zM542.8 884h8v4h-8zM138.8 888h4v4h-4zM178.8 888h8v4h-8zM318.8 888h4v4h-4zM534.8 888h4v4h-4zM130.8 892h4v4h-4zM174.8 892h4v4h-4zM274.8 892h4v4h-4zM338.8 892h8v4h-8zM410.8 892h4v4h-4zM418.8 892h4v4h-4zM442.8 892h4v4h-4zM526.8 892h4v4h-4zM538.8 892h4v4h-4zM562.8 892h8v4h-8zM598.8 892h4v4h-4zM178.8 896h4v4h-4zM374.8 896h4v4h-4zM546.8 896h4v4h-4z"/><path fill="rgb(182,182,182)" d="M338.8 816h4v4h-4zM122.8 820h4v4h-4zM218.8 836h4v4h-4zM410.8 836h4v4h-4zM470.8 836h4v4h-4zM174.8 840h4v4h-4zM218.8 840h4v4h-4zM218.8 844h4v4h-4zM258.8 844h4v4h-4zM158.8 848h4v4h-4zM218.8 848h4v4h-4zM262.8 848h4v4h-4zM326.8 848h4v4h-4zM146.8 852h8v4h-8zM158.8 852h4v4h-4zM178.8 852h4v4h-4zM214.8 852h8v4h-8zM282.8 852h4v4h-4zM358.8 852h4v4h-4zM406.8 852h4v4h-4zM486.8 852h4v4h-4zM562.8 852h4v4h-4zM402.8 856h4v4h-4zM554.8 856h4v4h-4zM562.8 856h4v4h-4zM186.8 860h4v4h-4zM474.8 860h4v4h-4zM486.8 860h4v4h-4zM494.8 860h4v4h-4zM550.8 860h12v4h-12zM474.8 864h4v4h-4zM542.8 864h4v4h-4zM554.8 864h8v4h-8zM582.8 864h4v4h-4zM158.8 868h4v4h-4zM178.8 868h4v4h-4zM202.8 868h4v4h-4zM238.8 868h4v4h-4zM246.8 868h4v4h-4zM482.8 868h4v4h-4zM534.8 868h8v4h-8zM558.8 868h4v4h-4zM150.8 872h8v4h-8zM166.8 872h4v4h-4zM206.8 872h4v4h-4zM518.8 872h4v4h-4zM526.8 872h4v4h-4zM566.8 872h4v4h-4zM142.8 876h4v4h-4zM150.8 876h4v4h-4zM162.8 876h4v4h-4zM394.8 876h4v4h-4zM522.8 876h4v4h-4zM550.8 876h4v4h-4zM250.8 880h8v4h-8zM566.8 880h8v4h-8zM142.8 884h4v4h-4zM170.8 884h4v4h-4zM214.8 884h8v4h-8zM254.8 884h8v4h-8zM470.8 884h4v4h-4zM494.8 884h4v4h-4zM510.8 884h4v4h-4zM538.8 884h4v4h-4zM550.8 884h4v4h-4zM170.8 888h4v4h-4zM250.8 888h4v4h-4zM298.8 888h4v4h-4zM470.8 888h4v4h-4zM478.8 888h4v4h-4zM506.8 888h4v4h-4zM526.8 888h4v4h-4zM558.8 888h4v4h-4zM570.8 888h4v4h-4zM110.8 892h8v4h-8zM194.8 892h4v4h-4zM258.8 892h12v4h-12zM278.8 892h4v4h-4zM434.8 892h4v4h-4zM522.8 892h4v4h-4zM370.8 896h4v4h-4zM542.8 896h4v4h-4z"/><path fill="rgb(186,186,186)" d="M390.8 816h4v4h-4zM178.8 820h4v4h-4zM274.8 824h4v4h-4zM182.8 828h4v4h-4zM374.8 832h4v4h-4zM118.8 836h4v4h-4zM598.8 836h4v4h-4zM282.8 840h4v4h-4zM442.8 840h4v4h-4zM146.8 844h4v4h-4zM326.8 844h4v4h-4zM474.8 844h4v4h-4zM178.8 848h4v4h-4zM434.8 848h4v4h-4zM190.8 852h8v4h-8zM206.8 852h8v4h-8zM326.8 852h4v4h-4zM462.8 852h4v4h-4zM478.8 852h4v4h-4zM502.8 852h4v4h-4zM514.8 852h4v4h-4zM566.8 852h4v4h-4zM110.8 856h8v4h-8zM162.8 856h4v4h-4zM170.8 856h4v4h-4zM238.8 856h4v4h-4zM494.8 856h4v4h-4zM562.8 860h4v4h-4zM190.8 864h4v4h-4zM226.8 864h4v4h-4zM238.8 864h4v4h-4zM494.8 864h4v4h-4zM562.8 864h4v4h-4zM150.8 868h4v4h-4zM162.8 868h4v4h-4zM518.8 868h4v4h-4zM146.8 872h4v4h-4zM158.8 872h8v4h-8zM174.8 872h4v4h-4zM242.8 872h8v4h-8zM394.8 872h4v4h-4zM482.8 872h4v4h-4zM542.8 872h4v4h-4zM254.8 876h4v4h-4zM434.8 876h4v4h-4zM482.8 876h4v4h-4zM490.8 876h4v4h-4zM506.8 876h4v4h-4zM526.8 876h4v4h-4zM174.8 880h4v4h-4zM238.8 880h4v4h-4zM258.8 880h4v4h-4zM470.8 880h4v4h-4zM502.8 880h4v4h-4zM554.8 880h4v4h-4zM562.8 880h4v4h-4zM590.8 880h4v4h-4zM210.8 884h4v4h-4zM230.8 884h4v4h-4zM250.8 884h4v4h-4zM474.8 884h4v4h-4zM490.8 884h4v4h-4zM554.8 884h4v4h-4zM566.8 884h4v4h-4zM222.8 888h4v4h-4zM274.8 888h4v4h-4zM302.8 888h4v4h-4zM354.8 888h4v4h-4zM398.8 888h8v4h-8zM474.8 888h4v4h-4zM522.8 888h4v4h-4zM538.8 888h8v4h-8zM554.8 888h4v4h-4zM178.8 892h4v4h-4zM270.8 892h4v4h-4zM286.8 892h4v4h-4zM346.8 892h4v4h-4zM358.8 892h4v4h-4zM378.8 892h4v4h-4zM386.8 892h4v4h-4zM394.8 892h4v4h-4zM438.8 892h4v4h-4zM450.8 892h4v4h-4zM462.8 892h4v4h-4zM550.8 892h4v4h-4z"/><path fill="rgb(190,190,190)" d="M182.8 820h4v4h-4zM178.8 824h8v4h-8zM314.8 824h4v4h-4zM178.8 828h4v4h-4zM178.8 832h4v4h-4zM330.8 832h4v4h-4zM434.8 832h4v4h-4zM178.8 836h4v4h-4zM326.8 836h4v4h-4zM474.8 836h4v4h-4zM178.8 840h4v4h-4zM470.8 840h8v4h-8zM174.8 844h8v4h-8zM470.8 844h4v4h-4zM174.8 848h4v4h-4zM470.8 848h4v4h-4zM154.8 852h4v4h-4zM174.8 852h4v4h-4zM222.8 852h4v4h-4zM262.8 852h4v4h-4zM394.8 852h4v4h-4zM470.8 852h4v4h-4zM174.8 856h4v4h-4zM250.8 856h4v4h-4zM262.8 856h4v4h-4zM306.8 856h4v4h-4zM366.8 856h4v4h-4zM470.8 856h4v4h-4zM578.8 856h4v4h-4zM146.8 860h16v4h-16zM190.8 860h4v4h-4zM234.8 860h8v4h-8zM394.8 860h4v4h-4zM470.8 860h4v4h-4zM490.8 860h4v4h-4zM502.8 860h4v4h-4zM522.8 860h4v4h-4zM582.8 860h4v4h-4zM146.8 864h4v4h-4zM194.8 864h8v4h-8zM222.8 864h4v4h-4zM462.8 864h4v4h-4zM470.8 864h4v4h-4zM490.8 864h4v4h-4zM566.8 864h4v4h-4zM578.8 864h4v4h-4zM258.8 868h4v4h-4zM322.8 868h4v4h-4zM394.8 868h4v4h-4zM462.8 868h4v4h-4zM530.8 868h4v4h-4zM554.8 868h4v4h-4zM570.8 868h4v4h-4zM586.8 868h4v4h-4zM170.8 872h4v4h-4zM202.8 872h4v4h-4zM226.8 872h4v4h-4zM238.8 872h4v4h-4zM250.8 872h12v4h-12zM434.8 872h4v4h-4zM458.8 872h12v4h-12zM514.8 872h4v4h-4zM546.8 872h4v4h-4zM558.8 872h4v4h-4zM582.8 872h4v4h-4zM154.8 876h8v4h-8zM170.8 876h4v4h-4zM218.8 876h4v4h-4zM390.8 876h4v4h-4zM458.8 876h12v4h-12zM566.8 876h4v4h-4zM590.8 876h4v4h-4zM142.8 880h4v4h-4zM170.8 880h4v4h-4zM214.8 880h4v4h-4zM474.8 880h4v4h-4zM494.8 880h4v4h-4zM510.8 880h4v4h-4zM558.8 880h4v4h-4zM174.8 884h4v4h-4zM234.8 884h16v4h-16zM502.8 884h4v4h-4zM514.8 884h4v4h-4zM558.8 884h4v4h-4zM202.8 888h4v4h-4zM238.8 888h4v4h-4zM262.8 888h4v4h-4zM270.8 888h4v4h-4zM278.8 888h4v4h-4zM322.8 888h4v4h-4zM586.8 888h4v4h-4zM282.8 892h4v4h-4zM350.8 892h8v4h-8zM362.8 892h8v4h-8zM414.8 892h4v4h-4zM610.8 892h12v4h-12zM454.8 896h4v4h-4z"/><path fill="rgb(194,194,194)" d="M298.8 816h4v4h-4zM278.8 820h4v4h-4zM430.8 824h4v4h-4zM306.8 844h8v4h-8zM154.8 848h4v4h-4zM462.8 848h4v4h-4zM550.8 848h4v4h-4zM266.8 852h4v4h-4zM370.8 852h4v4h-4zM398.8 852h4v4h-4zM482.8 852h4v4h-4zM146.8 856h4v4h-4zM186.8 856h4v4h-4zM258.8 856h4v4h-4zM286.8 856h4v4h-4zM406.8 856h4v4h-4zM490.8 856h4v4h-4zM502.8 856h4v4h-4zM510.8 856h4v4h-4zM590.8 856h4v4h-4zM162.8 860h4v4h-4zM174.8 860h4v4h-4zM194.8 860h8v4h-8zM218.8 860h16v4h-16zM262.8 860h4v4h-4zM362.8 860h4v4h-4zM398.8 860h8v4h-8zM526.8 860h4v4h-4zM538.8 860h4v4h-4zM566.8 860h4v4h-4zM574.8 860h8v4h-8zM150.8 864h4v4h-4zM158.8 864h8v4h-8zM202.8 864h4v4h-4zM250.8 864h4v4h-4zM362.8 864h4v4h-4zM398.8 864h4v4h-4zM466.8 864h4v4h-4zM502.8 864h4v4h-4zM522.8 864h4v4h-4zM570.8 864h8v4h-8zM586.8 864h4v4h-4zM146.8 868h4v4h-4zM166.8 868h12v4h-12zM182.8 868h4v4h-4zM254.8 868h4v4h-4zM282.8 868h4v4h-4zM430.8 868h8v4h-8zM466.8 868h4v4h-4zM494.8 868h4v4h-4zM142.8 872h4v4h-4zM178.8 872h12v4h-12zM222.8 872h4v4h-4zM390.8 872h4v4h-4zM430.8 872h4v4h-4zM490.8 872h12v4h-12zM510.8 872h4v4h-4zM530.8 872h4v4h-4zM550.8 872h8v4h-8zM574.8 872h8v4h-8zM586.8 872h8v4h-8zM230.8 876h4v4h-4zM246.8 876h4v4h-4zM502.8 876h4v4h-4zM230.8 880h8v4h-8zM242.8 880h8v4h-8zM506.8 880h4v4h-4zM586.8 880h4v4h-4zM178.8 884h4v4h-4zM466.8 884h4v4h-4zM506.8 884h4v4h-4zM562.8 884h4v4h-4zM574.8 884h8v4h-8zM590.8 884h4v4h-4zM122.8 888h4v4h-4zM174.8 888h4v4h-4zM266.8 888h4v4h-4zM330.8 888h4v4h-4zM366.8 888h4v4h-4zM426.8 888h4v4h-4zM462.8 888h4v4h-4zM498.8 888h4v4h-4zM546.8 888h4v4h-4zM566.8 888h4v4h-4zM390.8 892h4v4h-4zM542.8 892h8v4h-8z"/><path fill="rgb(198,198,198)" d="M138.8 816h4v4h-4zM350.8 816h4v4h-4zM342.8 820h4v4h-4zM394.8 824h4v4h-4zM270.8 832h4v4h-4zM446.8 832h4v4h-4zM290.8 836h4v4h-4zM358.8 844h4v4h-4zM434.8 844h4v4h-4zM442.8 844h4v4h-4zM258.8 848h4v4h-4zM394.8 848h4v4h-4zM226.8 852h4v4h-4zM438.8 852h4v4h-4zM550.8 852h4v4h-4zM194.8 856h4v4h-4zM214.8 856h4v4h-4zM222.8 856h4v4h-4zM254.8 856h4v4h-4zM282.8 856h4v4h-4zM322.8 856h8v4h-8zM362.8 856h4v4h-4zM398.8 856h4v4h-4zM478.8 856h4v4h-4zM506.8 856h4v4h-4zM566.8 856h4v4h-4zM170.8 860h4v4h-4zM202.8 860h4v4h-4zM250.8 860h4v4h-4zM358.8 860h4v4h-4zM462.8 860h4v4h-4zM530.8 860h8v4h-8zM570.8 860h4v4h-4zM586.8 860h4v4h-4zM594.8 860h4v4h-4zM142.8 864h4v4h-4zM154.8 864h4v4h-4zM166.8 864h4v4h-4zM206.8 864h4v4h-4zM242.8 864h4v4h-4zM262.8 864h4v4h-4zM358.8 864h4v4h-4zM402.8 864h4v4h-4zM526.8 864h4v4h-4zM538.8 864h4v4h-4zM194.8 868h8v4h-8zM234.8 868h4v4h-4zM490.8 868h4v4h-4zM514.8 868h4v4h-4zM550.8 868h4v4h-4zM590.8 868h4v4h-4zM234.8 872h4v4h-4zM502.8 872h4v4h-4zM570.8 872h4v4h-4zM182.8 876h4v4h-4zM206.8 876h4v4h-4zM234.8 876h12v4h-12zM258.8 876h8v4h-8zM302.8 876h4v4h-4zM354.8 876h4v4h-4zM430.8 876h4v4h-4zM494.8 876h4v4h-4zM530.8 876h4v4h-4zM554.8 876h8v4h-8zM586.8 876h4v4h-4zM210.8 880h4v4h-4zM334.8 880h4v4h-4zM434.8 880h4v4h-4zM462.8 880h8v4h-8zM490.8 880h4v4h-4zM514.8 880h4v4h-4zM182.8 884h4v4h-4zM194.8 884h4v4h-4zM486.8 884h4v4h-4zM518.8 884h4v4h-4zM586.8 884h4v4h-4zM206.8 888h4v4h-4zM314.8 888h4v4h-4zM326.8 888h4v4h-4zM358.8 888h4v4h-4zM502.8 888h4v4h-4zM370.8 892h4v4h-4z"/><path fill="rgb(202,202,202)" d="M302.8 812h4v4h-4zM602.8 824h4v4h-4zM282.8 836h4v4h-4zM342.8 836h4v4h-4zM118.8 840h4v4h-4zM598.8 840h4v4h-4zM258.8 852h4v4h-4zM362.8 852h4v4h-4zM190.8 856h4v4h-4zM198.8 856h4v4h-4zM338.8 856h4v4h-4zM438.8 856h4v4h-4zM482.8 856h8v4h-8zM514.8 856h8v4h-8zM550.8 856h4v4h-4zM586.8 856h4v4h-4zM110.8 860h8v4h-8zM166.8 860h4v4h-4zM206.8 860h12v4h-12zM282.8 860h4v4h-4zM322.8 860h4v4h-4zM366.8 860h4v4h-4zM466.8 860h4v4h-4zM506.8 860h4v4h-4zM590.8 860h4v4h-4zM170.8 864h8v4h-8zM210.8 864h4v4h-4zM234.8 864h4v4h-4zM246.8 864h4v4h-4zM282.8 864h4v4h-4zM322.8 864h4v4h-4zM434.8 864h4v4h-4zM506.8 864h4v4h-4zM590.8 864h4v4h-4zM142.8 868h4v4h-4zM190.8 868h4v4h-4zM226.8 868h4v4h-4zM250.8 868h4v4h-4zM262.8 868h4v4h-4zM306.8 868h4v4h-4zM390.8 868h4v4h-4zM398.8 868h4v4h-4zM458.8 868h4v4h-4zM502.8 868h4v4h-4zM542.8 868h8v4h-8zM190.8 872h4v4h-4zM198.8 872h4v4h-4zM218.8 872h4v4h-4zM230.8 872h4v4h-4zM262.8 872h4v4h-4zM302.8 872h4v4h-4zM398.8 872h4v4h-4zM506.8 872h4v4h-4zM190.8 876h4v4h-4zM202.8 876h4v4h-4zM398.8 876h8v4h-8zM178.8 880h8v4h-8zM458.8 880h4v4h-4zM486.8 880h4v4h-4zM518.8 880h4v4h-4zM138.8 884h4v4h-4zM190.8 884h4v4h-4zM198.8 884h4v4h-4zM434.8 884h4v4h-4zM462.8 884h4v4h-4zM482.8 884h4v4h-4zM582.8 884h4v4h-4zM306.8 888h4v4h-4zM394.8 888h4v4h-4zM430.8 888h4v4h-4zM450.8 888h8v4h-8zM562.8 888h4v4h-4zM374.8 892h4v4h-4zM458.8 896h4v4h-4z"/><path fill="rgb(206,206,206)" d="M354.8 812h4v4h-4zM306.8 816h4v4h-4zM134.8 828h4v4h-4zM326.8 832h4v4h-4zM342.8 832h4v4h-4zM330.8 836h4v4h-4zM146.8 840h4v4h-4zM462.8 844h4v4h-4zM434.8 852h4v4h-4zM202.8 856h12v4h-12zM266.8 856h4v4h-4zM278.8 856h4v4h-4zM358.8 856h4v4h-4zM370.8 856h4v4h-4zM570.8 856h4v4h-4zM242.8 860h8v4h-8zM254.8 860h4v4h-4zM286.8 860h4v4h-4zM338.8 860h4v4h-4zM406.8 860h4v4h-4zM438.8 860h4v4h-4zM510.8 860h12v4h-12zM214.8 864h8v4h-8zM230.8 864h4v4h-4zM254.8 864h4v4h-4zM354.8 864h4v4h-4zM430.8 864h4v4h-4zM438.8 864h4v4h-4zM518.8 864h4v4h-4zM534.8 864h4v4h-4zM594.8 864h4v4h-4zM210.8 868h4v4h-4zM222.8 868h4v4h-4zM230.8 868h4v4h-4zM302.8 868h4v4h-4zM402.8 868h4v4h-4zM438.8 868h4v4h-4zM470.8 868h12v4h-12zM126.8 872h4v4h-4zM194.8 872h4v4h-4zM282.8 872h4v4h-4zM322.8 872h4v4h-4zM402.8 872h4v4h-4zM470.8 872h4v4h-4zM198.8 876h4v4h-4zM214.8 876h4v4h-4zM318.8 876h4v4h-4zM470.8 876h4v4h-4zM186.8 880h12v4h-12zM202.8 880h8v4h-8zM390.8 880h4v4h-4zM430.8 880h4v4h-4zM482.8 880h4v4h-4zM574.8 880h4v4h-4zM186.8 884h4v4h-4zM202.8 884h8v4h-8zM318.8 884h8v4h-8zM334.8 884h4v4h-4zM350.8 884h4v4h-4zM402.8 884h4v4h-4zM454.8 884h4v4h-4zM478.8 884h4v4h-4zM218.8 888h4v4h-4zM282.8 888h4v4h-4zM294.8 888h4v4h-4zM310.8 888h4v4h-4zM334.8 888h4v4h-4zM422.8 888h4v4h-4zM434.8 888h16v4h-16zM550.8 888h4v4h-4zM590.8 888h4v4h-4zM606.8 888h4v4h-4zM614.8 888h8v4h-8zM454.8 892h4v4h-4z"/><path fill="rgb(210,210,210)" d="M358.8 816h4v4h-4zM326.8 820h4v4h-4zM282.8 828h4v4h-4zM282.8 832h4v4h-4zM270.8 836h4v4h-4zM374.8 836h4v4h-4zM290.8 840h4v4h-4zM306.8 840h4v4h-4zM410.8 840h4v4h-4zM434.8 840h4v4h-4zM394.8 844h4v4h-4zM310.8 848h4v4h-4zM442.8 848h4v4h-4zM166.8 856h4v4h-4zM226.8 856h4v4h-4zM242.8 856h8v4h-8zM394.8 856h4v4h-4zM462.8 856h8v4h-8zM582.8 856h4v4h-4zM278.8 860h4v4h-4zM306.8 860h4v4h-4zM110.8 864h8v4h-8zM366.8 864h4v4h-4zM458.8 864h4v4h-4zM510.8 864h8v4h-8zM530.8 864h4v4h-4zM186.8 868h4v4h-4zM218.8 868h4v4h-4zM506.8 868h8v4h-8zM210.8 872h8v4h-8zM354.8 872h4v4h-4zM474.8 872h8v4h-8zM178.8 876h4v4h-4zM210.8 876h4v4h-4zM334.8 876h4v4h-4zM358.8 876h4v4h-4zM366.8 876h4v4h-4zM474.8 876h4v4h-4zM498.8 876h4v4h-4zM570.8 876h4v4h-4zM582.8 876h4v4h-4zM198.8 880h4v4h-4zM262.8 880h4v4h-4zM322.8 880h4v4h-4zM362.8 880h4v4h-4zM394.8 880h4v4h-4zM478.8 880h4v4h-4zM578.8 880h4v4h-4zM262.8 884h4v4h-4zM274.8 884h4v4h-4zM362.8 884h4v4h-4zM386.8 884h4v4h-4zM430.8 884h4v4h-4zM458.8 884h4v4h-4zM118.8 888h4v4h-4zM126.8 888h4v4h-4zM286.8 888h8v4h-8zM350.8 888h4v4h-4zM382.8 888h4v4h-4zM406.8 888h4v4h-4zM458.8 888h4v4h-4zM610.8 888h4v4h-4z"/><path fill="rgb(215,215,215)" d="M142.8 812h8v4h-8zM126.8 816h4v4h-4zM134.8 820h4v4h-4zM314.8 828h4v4h-4zM462.8 832h4v4h-4zM434.8 836h4v4h-4zM342.8 840h4v4h-4zM358.8 840h4v4h-4zM462.8 840h4v4h-4zM598.8 844h4v4h-4zM130.8 848h4v4h-4zM130.8 852h4v4h-4zM278.8 852h4v4h-4zM322.8 852h4v4h-4zM338.8 852h4v4h-4zM142.8 860h4v4h-4zM266.8 860h4v4h-4zM302.8 860h4v4h-4zM326.8 860h4v4h-4zM370.8 860h4v4h-4zM430.8 860h8v4h-8zM278.8 864h4v4h-4zM286.8 864h4v4h-4zM302.8 864h4v4h-4zM390.8 864h4v4h-4zM406.8 864h4v4h-4zM214.8 868h4v4h-4zM278.8 868h4v4h-4zM306.8 872h4v4h-4zM366.8 872h4v4h-4zM438.8 872h4v4h-4zM194.8 876h4v4h-4zM478.8 876h4v4h-4zM574.8 876h8v4h-8zM318.8 880h4v4h-4zM398.8 880h8v4h-8zM582.8 880h4v4h-4zM278.8 884h4v4h-4zM298.8 884h4v4h-4zM358.8 884h4v4h-4zM390.8 884h12v4h-12zM610.8 884h12v4h-12zM110.8 888h8v4h-8zM134.8 888h4v4h-4zM338.8 888h4v4h-4zM362.8 888h4v4h-4zM370.8 888h4v4h-4zM378.8 888h4v4h-4zM390.8 888h4v4h-4zM410.8 888h4v4h-4zM418.8 888h4v4h-4zM594.8 888h4v4h-4zM602.8 888h4v4h-4z"/><path fill="rgb(219,219,219)" d="M130.8 812h4v4h-4zM134.8 824h4v4h-4zM458.8 824h4v4h-4zM326.8 828h4v4h-4zM342.8 828h4v4h-4zM450.8 828h4v4h-4zM414.8 832h4v4h-4zM270.8 840h4v4h-4zM330.8 840h4v4h-4zM394.8 840h4v4h-4zM118.8 844h4v4h-4zM410.8 844h4v4h-4zM442.8 852h4v4h-4zM594.8 856h4v4h-4zM258.8 860h4v4h-4zM354.8 860h4v4h-4zM458.8 860h4v4h-4zM306.8 864h4v4h-4zM126.8 868h4v4h-4zM366.8 868h4v4h-4zM594.8 868h4v4h-4zM318.8 872h4v4h-4zM334.8 872h4v4h-4zM358.8 872h4v4h-4zM126.8 876h4v4h-4zM274.8 876h4v4h-4zM614.8 876h8v4h-8zM274.8 880h4v4h-4zM358.8 880h4v4h-4zM610.8 880h12v4h-12zM266.8 884h8v4h-8zM354.8 884h4v4h-4zM366.8 884h4v4h-4zM426.8 884h4v4h-4zM130.8 888h4v4h-4zM342.8 888h8v4h-8zM374.8 888h4v4h-4zM386.8 888h4v4h-4zM414.8 888h4v4h-4zM598.8 888h4v4h-4zM458.8 892h4v4h-4z"/><path fill="rgb(223,223,223)" d="M342.8 824h4v4h-4zM454.8 824h4v4h-4zM134.8 832h4v4h-4zM146.8 836h4v4h-4zM306.8 836h4v4h-4zM462.8 836h4v4h-4zM374.8 840h4v4h-4zM270.8 844h4v4h-4zM290.8 844h4v4h-4zM278.8 848h4v4h-4zM322.8 848h4v4h-4zM338.8 848h4v4h-4zM310.8 852h4v4h-4zM430.8 856h4v4h-4zM390.8 860h4v4h-4zM258.8 864h4v4h-4zM266.8 864h4v4h-4zM326.8 864h4v4h-4zM338.8 864h4v4h-4zM110.8 868h8v4h-8zM274.8 868h4v4h-4zM354.8 868h8v4h-8zM406.8 868h4v4h-4zM274.8 872h8v4h-8zM282.8 876h4v4h-4zM438.8 876h4v4h-4zM610.8 876h4v4h-4zM138.8 880h4v4h-4zM278.8 880h4v4h-4zM298.8 880h8v4h-8zM354.8 880h4v4h-4zM366.8 880h4v4h-4zM426.8 880h4v4h-4zM454.8 880h4v4h-4zM282.8 884h4v4h-4zM302.8 884h4v4h-4zM330.8 884h4v4h-4zM438.8 884h4v4h-4z"/><path fill="rgb(227,227,227)" d="M318.8 820h4v4h-4zM122.8 824h4v4h-4zM294.8 824h4v4h-4zM326.8 824h4v4h-4zM334.8 824h4v4h-4zM274.8 828h4v4h-4zM378.8 828h4v4h-4zM314.8 832h4v4h-4zM358.8 836h4v4h-4zM394.8 836h4v4h-4zM278.8 840h4v4h-4zM130.8 844h4v4h-4zM278.8 844h4v4h-4zM330.8 844h4v4h-4zM342.8 844h4v4h-4zM270.8 848h4v4h-4zM410.8 848h4v4h-4zM598.8 848h4v4h-4zM270.8 852h4v4h-4zM130.8 856h4v4h-4zM302.8 856h4v4h-4zM442.8 856h4v4h-4zM458.8 856h4v4h-4zM274.8 860h4v4h-4zM274.8 864h4v4h-4zM370.8 864h4v4h-4zM266.8 868h4v4h-4zM286.8 868h4v4h-4zM326.8 868h4v4h-4zM334.8 868h4v4h-4zM362.8 868h4v4h-4zM266.8 872h4v4h-4zM362.8 872h4v4h-4zM614.8 872h8v4h-8zM278.8 876h4v4h-4zM306.8 876h4v4h-4zM362.8 876h4v4h-4zM426.8 876h4v4h-4zM282.8 880h4v4h-4zM350.8 880h4v4h-4zM122.8 884h4v4h-4zM306.8 884h4v4h-4zM314.8 884h4v4h-4zM326.8 884h4v4h-4z"/><path fill="rgb(231,231,231)" d="M322.8 816h4v4h-4zM426.8 820h4v4h-4zM606.8 820h4v4h-4zM278.8 824h4v4h-4zM346.8 824h4v4h-4zM278.8 828h4v4h-4zM334.8 828h4v4h-4zM394.8 828h4v4h-4zM602.8 828h4v4h-4zM274.8 832h8v4h-8zM306.8 832h4v4h-4zM274.8 836h8v4h-8zM446.8 836h4v4h-4zM274.8 840h4v4h-4zM338.8 840h4v4h-4zM274.8 844h4v4h-4zM322.8 844h4v4h-4zM338.8 844h4v4h-4zM374.8 844h4v4h-4zM118.8 848h4v4h-4zM274.8 848h4v4h-4zM290.8 848h4v4h-4zM330.8 848h4v4h-4zM274.8 852h4v4h-4zM430.8 852h4v4h-4zM458.8 852h4v4h-4zM142.8 856h4v4h-4zM270.8 856h8v4h-8zM310.8 856h4v4h-4zM354.8 856h4v4h-4zM390.8 856h4v4h-4zM434.8 856h4v4h-4zM270.8 860h4v4h-4zM442.8 860h4v4h-4zM126.8 864h4v4h-4zM270.8 864h4v4h-4zM334.8 864h4v4h-4zM270.8 868h4v4h-4zM318.8 868h4v4h-4zM338.8 868h4v4h-4zM370.8 868h4v4h-4zM270.8 872h4v4h-4zM326.8 872h4v4h-4zM406.8 872h4v4h-4zM594.8 872h4v4h-4zM266.8 876h8v4h-8zM298.8 876h4v4h-4zM322.8 876h4v4h-4zM454.8 876h4v4h-4zM266.8 880h8v4h-8zM306.8 880h4v4h-4zM386.8 880h4v4h-4zM438.8 880h4v4h-4zM126.8 884h4v4h-4zM310.8 884h4v4h-4zM450.8 884h4v4h-4z"/><path fill="rgb(235,235,235)" d="M338.8 820h4v4h-4zM390.8 820h4v4h-4zM338.8 824h4v4h-4zM122.8 828h4v4h-4zM294.8 828h4v4h-4zM338.8 828h4v4h-4zM418.8 828h4v4h-4zM146.8 832h4v4h-4zM334.8 832h8v4h-8zM358.8 832h4v4h-4zM394.8 832h4v4h-4zM134.8 836h4v4h-4zM314.8 836h4v4h-4zM334.8 836h8v4h-8zM130.8 840h4v4h-4zM334.8 840h4v4h-4zM446.8 840h4v4h-4zM334.8 844h4v4h-4zM334.8 848h4v4h-4zM342.8 848h4v4h-4zM374.8 848h4v4h-4zM430.8 848h4v4h-4zM302.8 852h4v4h-4zM330.8 852h8v4h-8zM410.8 852h4v4h-4zM598.8 852h4v4h-4zM330.8 856h8v4h-8zM310.8 860h4v4h-4zM330.8 860h8v4h-8zM318.8 864h4v4h-4zM330.8 864h4v4h-4zM442.8 864h4v4h-4zM330.8 868h4v4h-4zM614.8 868h8v4h-8zM110.8 872h8v4h-8zM286.8 872h4v4h-4zM330.8 872h4v4h-4zM426.8 872h4v4h-4zM454.8 872h4v4h-4zM610.8 872h4v4h-4zM138.8 876h4v4h-4zM326.8 876h8v4h-8zM350.8 876h4v4h-4zM386.8 876h4v4h-4zM406.8 876h4v4h-4zM594.8 876h4v4h-4zM126.8 880h4v4h-4zM326.8 880h8v4h-8zM110.8 884h8v4h-8zM406.8 884h4v4h-4zM422.8 884h4v4h-4zM442.8 884h8v4h-8z"/><path fill="rgb(239,239,239)" d="M610.8 816h4v4h-4zM306.8 820h4v4h-4zM306.8 828h4v4h-4zM346.8 828h4v4h-4zM430.8 828h4v4h-4zM122.8 832h4v4h-4zM602.8 832h4v4h-4zM130.8 836h4v4h-4zM322.8 836h4v4h-4zM314.8 840h4v4h-4zM322.8 840h4v4h-4zM314.8 844h4v4h-4zM446.8 844h4v4h-4zM458.8 844h4v4h-4zM302.8 848h4v4h-4zM446.8 848h4v4h-4zM458.8 848h4v4h-4zM118.8 852h4v4h-4zM142.8 852h4v4h-4zM290.8 852h4v4h-4zM354.8 852h4v4h-4zM390.8 852h4v4h-4zM318.8 856h4v4h-4zM410.8 856h4v4h-4zM598.8 856h4v4h-4zM126.8 860h8v4h-8zM318.8 860h4v4h-4zM310.8 864h4v4h-4zM310.8 868h4v4h-4zM426.8 868h4v4h-4zM442.8 868h4v4h-4zM454.8 868h4v4h-4zM610.8 868h4v4h-4zM298.8 872h4v4h-4zM338.8 872h4v4h-4zM370.8 872h4v4h-4zM110.8 876h8v4h-8zM286.8 876h4v4h-4zM122.8 880h4v4h-4zM314.8 880h4v4h-4zM118.8 884h4v4h-4zM286.8 884h12v4h-12zM370.8 884h4v4h-4zM382.8 884h4v4h-4zM594.8 884h4v4h-4zM606.8 884h4v4h-4z"/><path fill="rgb(243,243,243)" d="M614.8 816h8v4h-8zM322.8 820h4v4h-4zM358.8 820h4v4h-4zM306.8 824h4v4h-4zM318.8 824h8v4h-8zM382.8 824h4v4h-4zM422.8 824h4v4h-4zM146.8 828h4v4h-4zM318.8 828h8v4h-8zM358.8 828h4v4h-4zM454.8 828h8v4h-8zM130.8 832h4v4h-4zM294.8 832h4v4h-4zM318.8 832h8v4h-8zM378.8 832h4v4h-4zM450.8 832h12v4h-12zM122.8 836h4v4h-4zM318.8 836h4v4h-4zM414.8 836h4v4h-4zM450.8 836h12v4h-12zM602.8 836h4v4h-4zM134.8 840h4v4h-4zM318.8 840h4v4h-4zM450.8 840h12v4h-12zM302.8 844h4v4h-4zM318.8 844h4v4h-4zM430.8 844h4v4h-4zM450.8 844h8v4h-8zM314.8 848h8v4h-8zM390.8 848h4v4h-4zM450.8 848h8v4h-8zM314.8 852h8v4h-8zM342.8 852h4v4h-4zM374.8 852h4v4h-4zM446.8 852h12v4h-12zM118.8 856h4v4h-4zM126.8 856h4v4h-4zM290.8 856h4v4h-4zM314.8 856h4v4h-4zM446.8 856h12v4h-12zM118.8 860h4v4h-4zM314.8 860h4v4h-4zM410.8 860h4v4h-4zM446.8 860h12v4h-12zM314.8 864h4v4h-4zM426.8 864h4v4h-4zM446.8 864h12v4h-12zM614.8 864h8v4h-8zM298.8 868h4v4h-4zM314.8 868h4v4h-4zM446.8 868h8v4h-8zM138.8 872h4v4h-4zM310.8 872h8v4h-8zM350.8 872h4v4h-4zM386.8 872h4v4h-4zM442.8 872h12v4h-12zM122.8 876h4v4h-4zM310.8 876h8v4h-8zM370.8 876h4v4h-4zM442.8 876h12v4h-12zM110.8 880h8v4h-8zM286.8 880h4v4h-4zM310.8 880h4v4h-4zM406.8 880h4v4h-4zM442.8 880h12v4h-12zM594.8 880h4v4h-4zM130.8 884h8v4h-8zM338.8 884h12v4h-12zM374.8 884h8v4h-8zM410.8 884h12v4h-12zM598.8 884h8v4h-8z"/><path fill="rgb(247,247,247)" d="M130.8 816h4v4h-4zM126.8 820h8v4h-8zM138.8 820h4v4h-4zM298.8 820h4v4h-4zM386.8 820h4v4h-4zM126.8 824h8v4h-8zM146.8 824h4v4h-4zM358.8 824h4v4h-4zM126.8 828h8v4h-8zM126.8 832h4v4h-4zM346.8 832h4v4h-4zM126.8 836h4v4h-4zM294.8 836h4v4h-4zM302.8 836h4v4h-4zM378.8 836h4v4h-4zM430.8 836h4v4h-4zM122.8 840h8v4h-8zM294.8 840h4v4h-4zM302.8 840h4v4h-4zM414.8 840h4v4h-4zM430.8 840h4v4h-4zM602.8 840h4v4h-4zM122.8 844h8v4h-8zM134.8 844h4v4h-4zM294.8 844h4v4h-4zM390.8 844h4v4h-4zM414.8 844h4v4h-4zM122.8 848h8v4h-8zM142.8 848h4v4h-4zM354.8 848h4v4h-4zM122.8 852h8v4h-8zM122.8 856h4v4h-4zM342.8 856h4v4h-4zM374.8 856h4v4h-4zM122.8 860h4v4h-4zM290.8 860h4v4h-4zM298.8 860h4v4h-4zM426.8 860h4v4h-4zM598.8 860h4v4h-4zM610.8 860h12v4h-12zM118.8 864h8v4h-8zM130.8 864h4v4h-4zM290.8 864h4v4h-4zM298.8 864h4v4h-4zM386.8 864h4v4h-4zM410.8 864h4v4h-4zM610.8 864h4v4h-4zM118.8 868h8v4h-8zM350.8 868h4v4h-4zM386.8 868h4v4h-4zM118.8 872h8v4h-8zM118.8 876h4v4h-4zM338.8 876h4v4h-4zM118.8 880h4v4h-4zM294.8 880h4v4h-4zM370.8 880h4v4h-4zM422.8 880h4v4h-4z"/><path fill="rgb(251,251,251)" d="M146.8 816h4v4h-4zM302.8 816h4v4h-4zM146.8 820h4v4h-4zM302.8 820h4v4h-4zM350.8 820h4v4h-4zM138.8 824h4v4h-4zM298.8 824h8v4h-8zM606.8 824h4v4h-4zM298.8 828h8v4h-8zM298.8 832h8v4h-8zM430.8 832h4v4h-4zM298.8 836h4v4h-4zM346.8 836h4v4h-4zM390.8 836h4v4h-4zM298.8 840h4v4h-4zM346.8 840h4v4h-4zM354.8 840h4v4h-4zM378.8 840h4v4h-4zM390.8 840h4v4h-4zM142.8 844h4v4h-4zM298.8 844h4v4h-4zM354.8 844h4v4h-4zM378.8 844h4v4h-4zM602.8 844h4v4h-4zM134.8 848h4v4h-4zM294.8 848h8v4h-8zM414.8 848h4v4h-4zM426.8 848h4v4h-4zM602.8 848h4v4h-4zM294.8 852h8v4h-8zM414.8 852h4v4h-4zM426.8 852h4v4h-4zM614.8 852h8v4h-8zM294.8 856h8v4h-8zM386.8 856h4v4h-4zM426.8 856h4v4h-4zM610.8 856h12v4h-12zM294.8 860h4v4h-4zM342.8 860h4v4h-4zM374.8 860h4v4h-4zM386.8 860h4v4h-4zM138.8 864h4v4h-4zM294.8 864h4v4h-4zM350.8 864h4v4h-4zM374.8 864h4v4h-4zM598.8 864h4v4h-4zM130.8 868h4v4h-4zM138.8 868h4v4h-4zM290.8 868h8v4h-8zM374.8 868h4v4h-4zM410.8 868h4v4h-4zM598.8 868h4v4h-4zM130.8 872h4v4h-4zM290.8 872h8v4h-8zM410.8 872h4v4h-4zM422.8 872h4v4h-4zM290.8 876h8v4h-8zM410.8 876h4v4h-4zM422.8 876h4v4h-4zM606.8 876h4v4h-4zM290.8 880h4v4h-4zM338.8 880h4v4h-4zM382.8 880h4v4h-4zM606.8 880h4v4h-4z"/><path fill="rgb(255,255,255)" d="M142.8 816h4v4h-4zM354.8 816h4v4h-4zM142.8 820h4v4h-4zM354.8 820h4v4h-4zM610.8 820h12v4h-12zM142.8 824h4v4h-4zM350.8 824h8v4h-8zM386.8 824h8v4h-8zM426.8 824h4v4h-4zM610.8 824h12v4h-12zM138.8 828h8v4h-8zM350.8 828h8v4h-8zM382.8 828h12v4h-12zM422.8 828h8v4h-8zM606.8 828h16v4h-16zM138.8 832h8v4h-8zM350.8 832h8v4h-8zM382.8 832h12v4h-12zM418.8 832h12v4h-12zM606.8 832h16v4h-16zM138.8 836h8v4h-8zM350.8 836h8v4h-8zM382.8 836h8v4h-8zM418.8 836h12v4h-12zM606.8 836h16v4h-16zM138.8 840h8v4h-8zM350.8 840h4v4h-4zM382.8 840h8v4h-8zM418.8 840h12v4h-12zM606.8 840h16v4h-16zM138.8 844h4v4h-4zM346.8 844h8v4h-8zM382.8 844h8v4h-8zM418.8 844h12v4h-12zM606.8 844h16v4h-16zM138.8 848h4v4h-4zM346.8 848h8v4h-8zM378.8 848h12v4h-12zM418.8 848h8v4h-8zM606.8 848h16v4h-16zM134.8 852h8v4h-8zM346.8 852h8v4h-8zM378.8 852h12v4h-12zM418.8 852h8v4h-8zM602.8 852h12v4h-12zM134.8 856h8v4h-8zM346.8 856h8v4h-8zM378.8 856h8v4h-8zM414.8 856h12v4h-12zM602.8 856h8v4h-8zM134.8 860h8v4h-8zM346.8 860h8v4h-8zM378.8 860h8v4h-8zM414.8 860h12v4h-12zM602.8 860h8v4h-8zM134.8 864h4v4h-4zM342.8 864h8v4h-8zM378.8 864h8v4h-8zM414.8 864h12v4h-12zM602.8 864h8v4h-8zM134.8 868h4v4h-4zM342.8 868h8v4h-8zM378.8 868h8v4h-8zM414.8 868h12v4h-12zM602.8 868h8v4h-8zM134.8 872h4v4h-4zM342.8 872h8v4h-8zM374.8 872h12v4h-12zM414.8 872h8v4h-8zM598.8 872h12v4h-12zM130.8 876h8v4h-8zM342.8 876h8v4h-8zM374.8 876h12v4h-12zM414.8 876h8v4h-8zM598.8 876h8v4h-8zM130.8 880h8v4h-8zM342.8 880h8v4h-8zM374.8 880h8v4h-8zM410.8 880h12v4h-12zM598.8 880h8v4h-8z"/></g></g>
<rect x="112.8" y="517.6" width="507.6" height="423.8" fill="none" stroke="#595757" stroke-width="1.2"/>
<path d="M112.8,862.4h4.5M620.4,862.4h-4.5M112.8,706.4h4.5M620.4,706.4h-4.5M112.8,550.4h4.5M620.4,550.4h-4.5" stroke="#595757" stroke-width="1.2"/>
<path d="M117,753.7H613" stroke="#e8e8f4" stroke-width="2" stroke-dasharray="8.5 11"/>
<text x="532" y="742.3" font-family="Liberation Serif" font-size="25" fill="#ffffff">0.5<tspan font-style="italic">F</tspan><tspan font-size="17" dy="8">ce</tspan></text>
<path d="M132.5,584V620.5M126.9,605L132.5,620.5L138.1,605M291.1,584V620.5M285.5,605L291.1,620.5L296.70000000000005,605M307.9,584V620.5M302.29999999999995,605L307.9,620.5L313.5,605M337.4,584V620.5M331.79999999999995,605L337.4,620.5L343.0,605M376.6,584V620.5M371.0,605L376.6,620.5L382.20000000000005,605M414.7,584V620.5M409.09999999999997,605L414.7,620.5L420.3,605M434.8,584V620.5M429.2,605L434.8,620.5L440.40000000000003,605M592.8,584V620.5M587.1999999999999,605L592.8,620.5L598.4,605" fill="none" stroke="#3ef0f2" stroke-width="2.4"/>
<text x="101.5" y="560.4" font-family="Liberation Serif" font-size="28.5" fill="#3e3a39" text-anchor="end">3</text>
<text x="101.5" y="717.4" font-family="Liberation Serif" font-size="28.5" fill="#3e3a39" text-anchor="end">2</text>
<text x="101.5" y="873.5" font-family="Liberation Serif" font-size="28.5" fill="#3e3a39" text-anchor="end">1</text>
<text x="112" y="975.7" font-family="Liberation Serif" font-size="26.5" fill="#3e3a39" text-anchor="middle">0</text>
<text x="281.9" y="975.7" font-family="Liberation Serif" font-size="26.5" fill="#3e3a39" text-anchor="middle">2</text>
<text x="452.1" y="975.7" font-family="Liberation Serif" font-size="26.5" fill="#3e3a39" text-anchor="middle">4</text>
<text x="621.3" y="975.7" font-family="Liberation Serif" font-size="26.5" fill="#3e3a39" text-anchor="middle">6</text>
<text x="368.8" y="1009.9" font-family="Liberation Serif" font-size="36" fill="#231815" text-anchor="middle" textLength="328.3" lengthAdjust="spacingAndGlyphs">Δt (s) from 12:15:27.828</text>
<text transform="translate(66.2,742.6) rotate(-90)" font-family="Liberation Serif" font-size="37" fill="#231815" text-anchor="middle" textLength="108.8" lengthAdjust="spacingAndGlyphs"><tspan font-style="italic">F</tspan> (kHz)</text>
<text x="6" y="555.9" font-family="Liberation Sans" font-weight="bold" font-size="38" fill="#000">b</text>
<path d="M110.2,515.1L473.5,444.6" stroke="#0a0af5" stroke-width="2.6" stroke-dasharray="30.5 30.8" stroke-dashoffset="15.6"/>
<path d="M489.8,445.3L616.5,519.2" stroke="#0a0af5" stroke-width="2.6" stroke-dasharray="38 37.3" stroke-dashoffset="20.4"/>
<g shape-rendering="crispEdges"><path fill="#3e26a8" d="M117.3 1094.5h506.6v424.9h-506.6z"/><path fill="#4330c5" d="M170.8 1094.5h13v15.5h-13zM183.8 1094.5h13v15.5h-13zM222.9 1094.5h13v15.5h-13zM261.9 1094.5h13v15.5h-13zM340 1094.5h13v15.5h-13zM222.9 1110h13v14h-13zM288 1110h13v14h-13zM301 1110h13v14h-13zM170.8 1124h13v13.9h-13zM274.9 1124h13v13.9h-13zM288 1124h13v13.9h-13zM327 1124h13v13.9h-13zM196.8 1137.9h13v14h-13zM144.7 1165.8h13v14h-13zM157.8 1165.8h13v14h-13zM314 1193.8h13v13.9h-13zM170.8 1207.7h13v14h-13zM340 1207.7h13v14h-13zM366.1 1207.7h13v14h-13zM314 1221.6h13v14h-13zM405.1 1277.4h13v14h-13zM405.1 1291.4h13v14h-13zM418.2 1291.4h13v14h-13zM431.2 1333.2h13v13.9h-13zM457.2 1347.2h13v14h-13zM483.3 1361.1h13v14h-13zM496.3 1375.1h13v14h-13zM496.3 1389h13v14h-13zM157.8 1444.8h13v14h-13zM509.3 1444.8h13v14h-13zM509.3 1458.8h13v14h-13zM157.8 1472.8h13v13.9h-13zM248.9 1472.8h13v13.9h-13zM522.3 1472.8h13v13.9h-13zM340 1486.7h13v14h-13zM509.3 1486.7h13v14h-13zM522.3 1486.7h13v14h-13zM340 1500.6h13v14h-13zM353.1 1500.6h13v14h-13zM470.2 1500.6h13v14h-13zM548.4 1500.6h13v14h-13zM301 1514.6h13v4.8h-13zM327 1514.6h13v4.8h-13zM392.1 1514.6h13v4.8h-13zM483.3 1514.6h13v4.8h-13z"/><path fill="#412dbb" d="M196.8 1094.5h13v15.5h-13zM327 1094.5h13v15.5h-13zM157.8 1110h13v14h-13zM327 1110h13v14h-13zM340 1110h13v14h-13zM340 1124h13v13.9h-13zM157.8 1137.9h13v14h-13zM183.8 1137.9h13v14h-13zM314 1137.9h13v14h-13zM340 1137.9h13v14h-13zM157.8 1151.9h13v14h-13zM327 1151.9h13v14h-13zM366.1 1151.9h13v14h-13zM379.1 1151.9h13v14h-13zM288 1165.8h13v14h-13zM353.1 1165.8h13v14h-13zM157.8 1179.8h13v14h-13zM170.8 1179.8h13v14h-13zM340 1179.8h13v14h-13zM340 1193.8h13v13.9h-13zM366.1 1193.8h13v13.9h-13zM157.8 1207.7h13v14h-13zM301 1207.7h13v14h-13zM314 1207.7h13v14h-13zM301 1221.6h13v14h-13zM327 1221.6h13v14h-13zM392.1 1221.6h13v14h-13zM144.7 1235.6h13v14h-13zM340 1235.6h13v14h-13zM353.1 1249.5h13v14h-13zM366.1 1249.5h13v14h-13zM379.1 1277.4h13v14h-13zM392.1 1277.4h13v14h-13zM144.7 1305.3h13v14h-13zM457.2 1319.3h13v14h-13zM157.8 1333.2h13v13.9h-13zM470.2 1333.2h13v13.9h-13zM457.2 1361.1h13v14h-13zM470.2 1361.1h13v14h-13zM170.8 1375.1h13v14h-13zM483.3 1375.1h13v14h-13zM470.2 1389h13v14h-13zM509.3 1403h13v13.9h-13zM509.3 1430.9h13v14h-13zM535.3 1444.8h13v14h-13zM522.3 1458.8h13v14h-13zM535.3 1472.8h13v13.9h-13zM548.4 1472.8h13v13.9h-13zM144.7 1486.7h13v14h-13zM535.3 1486.7h13v14h-13zM548.4 1486.7h13v14h-13zM144.7 1500.6h13v14h-13zM301 1500.6h13v14h-13zM418.2 1500.6h13v14h-13zM522.3 1500.6h13v14h-13zM144.7 1514.6h13v4.8h-13zM274.9 1514.6h13v4.8h-13zM340 1514.6h13v4.8h-13zM353.1 1514.6h13v4.8h-13zM366.1 1514.6h13v4.8h-13zM405.1 1514.6h13v4.8h-13zM431.2 1514.6h13v4.8h-13zM470.2 1514.6h13v4.8h-13zM496.3 1514.6h13v4.8h-13z"/><path fill="#4743e7" d="M209.8 1094.5h13v15.5h-13zM196.8 1151.9h13v14h-13zM222.9 1151.9h13v14h-13zM170.8 1165.8h13v14h-13zM261.9 1165.8h13v14h-13zM288 1179.8h13v14h-13zM301 1179.8h13v14h-13zM261.9 1207.7h13v14h-13zM301 1235.6h13v14h-13zM327 1249.5h13v14h-13zM340 1263.5h13v13.9h-13zM353.1 1277.4h13v14h-13zM353.1 1291.4h13v14h-13zM366.1 1291.4h13v14h-13zM170.8 1319.3h13v14h-13zM392.1 1319.3h13v14h-13zM170.8 1333.2h13v13.9h-13zM392.1 1333.2h13v13.9h-13zM418.2 1333.2h13v13.9h-13zM418.2 1347.2h13v14h-13zM444.2 1361.1h13v14h-13zM444.2 1375.1h13v14h-13zM431.2 1389h13v14h-13zM196.8 1403h13v13.9h-13zM222.9 1403h13v13.9h-13zM444.2 1403h13v13.9h-13zM196.8 1416.9h13v14h-13zM209.8 1416.9h13v14h-13zM222.9 1416.9h13v14h-13zM235.9 1416.9h13v14h-13zM457.2 1416.9h13v14h-13zM470.2 1416.9h13v14h-13zM235.9 1430.9h13v14h-13zM261.9 1430.9h13v14h-13zM457.2 1430.9h13v14h-13zM470.2 1430.9h13v14h-13zM261.9 1444.8h13v14h-13zM457.2 1444.8h13v14h-13zM183.8 1458.8h13v14h-13zM209.8 1458.8h13v14h-13zM248.9 1458.8h13v14h-13zM288 1458.8h13v14h-13zM301 1458.8h13v14h-13zM314 1458.8h13v14h-13zM327 1458.8h13v14h-13zM340 1458.8h13v14h-13zM366.1 1458.8h13v14h-13zM470.2 1458.8h13v14h-13zM483.3 1458.8h13v14h-13zM222.9 1472.8h13v13.9h-13zM235.9 1472.8h13v13.9h-13zM261.9 1472.8h13v13.9h-13zM301 1472.8h13v13.9h-13zM314 1472.8h13v13.9h-13zM366.1 1472.8h13v13.9h-13zM457.2 1472.8h13v13.9h-13zM470.2 1472.8h13v13.9h-13zM248.9 1486.7h13v14h-13zM274.9 1486.7h13v14h-13zM314 1486.7h13v14h-13zM379.1 1486.7h13v14h-13zM405.1 1486.7h13v14h-13zM431.2 1486.7h13v14h-13zM444.2 1486.7h13v14h-13zM457.2 1486.7h13v14h-13zM261.9 1500.6h13v14h-13zM157.8 1514.6h13v4.8h-13zM209.8 1514.6h13v4.8h-13zM248.9 1514.6h13v4.8h-13z"/><path fill="#4433cc" d="M235.9 1094.5h13v15.5h-13zM248.9 1094.5h13v15.5h-13zM274.9 1094.5h13v15.5h-13zM235.9 1110h13v14h-13zM261.9 1110h13v14h-13zM183.8 1124h13v13.9h-13zM196.8 1124h13v13.9h-13zM222.9 1124h13v13.9h-13zM261.9 1124h13v13.9h-13zM314 1124h13v13.9h-13zM170.8 1137.9h13v14h-13zM301 1137.9h13v14h-13zM314 1151.9h13v14h-13zM327 1165.8h13v14h-13zM340 1165.8h13v14h-13zM261.9 1193.8h13v13.9h-13zM327 1193.8h13v13.9h-13zM327 1235.6h13v14h-13zM144.7 1249.5h13v14h-13zM340 1249.5h13v14h-13zM366.1 1263.5h13v13.9h-13zM144.7 1277.4h13v14h-13zM144.7 1291.4h13v14h-13zM392.1 1291.4h13v14h-13zM157.8 1305.3h13v14h-13zM366.1 1305.3h13v14h-13zM418.2 1305.3h13v14h-13zM431.2 1319.3h13v14h-13zM444.2 1319.3h13v14h-13zM444.2 1347.2h13v14h-13zM170.8 1361.1h13v14h-13zM183.8 1375.1h13v14h-13zM470.2 1375.1h13v14h-13zM183.8 1389h13v14h-13zM483.3 1389h13v14h-13zM170.8 1403h13v13.9h-13zM183.8 1403h13v13.9h-13zM470.2 1403h13v13.9h-13zM483.3 1403h13v13.9h-13zM496.3 1403h13v13.9h-13zM157.8 1416.9h13v14h-13zM170.8 1416.9h13v14h-13zM170.8 1430.9h13v14h-13zM496.3 1430.9h13v14h-13zM288 1444.8h13v14h-13zM470.2 1444.8h13v14h-13zM327 1472.8h13v13.9h-13zM340 1472.8h13v13.9h-13zM353.1 1472.8h13v13.9h-13zM496.3 1472.8h13v13.9h-13zM509.3 1472.8h13v13.9h-13zM288 1486.7h13v14h-13zM353.1 1486.7h13v14h-13zM392.1 1486.7h13v14h-13zM496.3 1486.7h13v14h-13zM366.1 1500.6h13v14h-13zM392.1 1500.6h13v14h-13zM405.1 1500.6h13v14h-13zM431.2 1500.6h13v14h-13zM509.3 1500.6h13v14h-13zM261.9 1514.6h13v4.8h-13zM288 1514.6h13v4.8h-13zM314 1514.6h13v4.8h-13zM379.1 1514.6h13v4.8h-13zM418.2 1514.6h13v4.8h-13zM457.2 1514.6h13v4.8h-13z"/><path fill="#402ab4" d="M288 1094.5h13v15.5h-13zM301 1094.5h13v15.5h-13zM314 1094.5h13v15.5h-13zM353.1 1094.5h13v15.5h-13zM366.1 1094.5h13v15.5h-13zM170.8 1110h13v14h-13zM274.9 1110h13v14h-13zM314 1110h13v14h-13zM353.1 1110h13v14h-13zM366.1 1110h13v14h-13zM157.8 1124h13v13.9h-13zM353.1 1124h13v13.9h-13zM366.1 1124h13v13.9h-13zM288 1137.9h13v14h-13zM353.1 1137.9h13v14h-13zM366.1 1137.9h13v14h-13zM340 1151.9h13v14h-13zM353.1 1151.9h13v14h-13zM366.1 1165.8h13v14h-13zM144.7 1179.8h13v14h-13zM353.1 1179.8h13v14h-13zM366.1 1179.8h13v14h-13zM144.7 1193.8h13v13.9h-13zM157.8 1193.8h13v13.9h-13zM353.1 1193.8h13v13.9h-13zM144.7 1207.7h13v14h-13zM327 1207.7h13v14h-13zM353.1 1207.7h13v14h-13zM131.7 1221.6h13v14h-13zM340 1221.6h13v14h-13zM353.1 1221.6h13v14h-13zM366.1 1221.6h13v14h-13zM131.7 1235.6h13v14h-13zM353.1 1235.6h13v14h-13zM366.1 1235.6h13v14h-13zM131.7 1249.5h13v14h-13zM131.7 1263.5h13v13.9h-13zM131.7 1277.4h13v14h-13zM131.7 1291.4h13v14h-13zM431.2 1291.4h13v14h-13zM131.7 1305.3h13v14h-13zM431.2 1305.3h13v14h-13zM470.2 1319.3h13v14h-13zM444.2 1333.2h13v13.9h-13zM457.2 1333.2h13v13.9h-13zM157.8 1347.2h13v14h-13zM470.2 1347.2h13v14h-13zM496.3 1361.1h13v14h-13zM157.8 1375.1h13v14h-13zM157.8 1389h13v14h-13zM170.8 1389h13v14h-13zM183.8 1416.9h13v14h-13zM509.3 1416.9h13v14h-13zM522.3 1444.8h13v14h-13zM548.4 1444.8h13v14h-13zM535.3 1458.8h13v14h-13zM144.7 1472.8h13v13.9h-13zM561.4 1472.8h13v13.9h-13zM561.4 1486.7h13v14h-13zM131.7 1500.6h13v14h-13zM535.3 1500.6h13v14h-13zM561.4 1500.6h13v14h-13zM131.7 1514.6h13v4.8h-13zM444.2 1514.6h13v4.8h-13zM509.3 1514.6h13v4.8h-13z"/><path fill="#4536d3" d="M183.8 1110h13v14h-13zM209.8 1124h13v13.9h-13zM170.8 1151.9h13v14h-13zM301 1151.9h13v14h-13zM314 1165.8h13v14h-13zM248.9 1193.8h13v13.9h-13zM392.1 1305.3h13v14h-13zM405.1 1305.3h13v14h-13zM170.8 1347.2h13v14h-13zM431.2 1347.2h13v14h-13zM157.8 1430.9h13v14h-13zM183.8 1430.9h13v14h-13zM483.3 1430.9h13v14h-13zM222.9 1444.8h13v14h-13zM496.3 1444.8h13v14h-13zM483.3 1472.8h13v13.9h-13zM314 1500.6h13v14h-13zM444.2 1500.6h13v14h-13zM496.3 1500.6h13v14h-13z"/><path fill="#463adc" d="M196.8 1110h13v14h-13zM301 1124h13v13.9h-13zM261.9 1137.9h13v14h-13zM274.9 1137.9h13v14h-13zM183.8 1151.9h13v14h-13zM209.8 1151.9h13v14h-13zM274.9 1151.9h13v14h-13zM196.8 1165.8h13v14h-13zM274.9 1179.8h13v14h-13zM314 1179.8h13v14h-13zM327 1179.8h13v14h-13zM274.9 1193.8h13v13.9h-13zM301 1193.8h13v13.9h-13zM314 1235.6h13v14h-13zM144.7 1263.5h13v13.9h-13zM353.1 1263.5h13v13.9h-13zM366.1 1277.4h13v14h-13zM157.8 1291.4h13v14h-13zM379.1 1291.4h13v14h-13zM353.1 1305.3h13v14h-13zM379.1 1305.3h13v14h-13zM157.8 1319.3h13v14h-13zM405.1 1319.3h13v14h-13zM418.2 1319.3h13v14h-13zM196.8 1333.2h13v13.9h-13zM183.8 1361.1h13v14h-13zM431.2 1361.1h13v14h-13zM457.2 1375.1h13v14h-13zM444.2 1389h13v14h-13zM457.2 1389h13v14h-13zM457.2 1403h13v13.9h-13zM483.3 1416.9h13v14h-13zM496.3 1416.9h13v14h-13zM196.8 1430.9h13v14h-13zM209.8 1430.9h13v14h-13zM170.8 1444.8h13v14h-13zM183.8 1444.8h13v14h-13zM209.8 1444.8h13v14h-13zM301 1444.8h13v14h-13zM314 1444.8h13v14h-13zM327 1444.8h13v14h-13zM483.3 1444.8h13v14h-13zM222.9 1458.8h13v14h-13zM235.9 1458.8h13v14h-13zM431.2 1458.8h13v14h-13zM496.3 1458.8h13v14h-13zM196.8 1472.8h13v13.9h-13zM274.9 1472.8h13v13.9h-13zM157.8 1486.7h13v14h-13zM170.8 1486.7h13v14h-13zM261.9 1486.7h13v14h-13zM327 1486.7h13v14h-13zM366.1 1486.7h13v14h-13zM418.2 1486.7h13v14h-13zM470.2 1486.7h13v14h-13zM483.3 1486.7h13v14h-13zM274.9 1500.6h13v14h-13zM288 1500.6h13v14h-13zM327 1500.6h13v14h-13zM379.1 1500.6h13v14h-13zM457.2 1500.6h13v14h-13zM483.3 1500.6h13v14h-13z"/><path fill="#4747eb" d="M209.8 1110h13v14h-13zM235.9 1151.9h13v14h-13zM248.9 1151.9h13v14h-13zM288 1151.9h13v14h-13zM183.8 1165.8h13v14h-13zM248.9 1165.8h13v14h-13zM196.8 1193.8h13v13.9h-13zM183.8 1207.7h13v14h-13zM274.9 1207.7h13v14h-13zM274.9 1221.6h13v14h-13zM196.8 1347.2h13v14h-13zM196.8 1458.8h13v14h-13zM353.1 1458.8h13v14h-13zM301 1486.7h13v14h-13z"/><path fill="#4537d6" d="M235.9 1124h13v13.9h-13zM248.9 1124h13v13.9h-13z"/><path fill="#473fe3" d="M209.8 1137.9h13v14h-13zM222.9 1137.9h13v14h-13zM235.9 1137.9h13v14h-13zM248.9 1137.9h13v14h-13zM261.9 1151.9h13v14h-13zM274.9 1165.8h13v14h-13zM301 1165.8h13v14h-13zM170.8 1193.8h13v13.9h-13zM288 1193.8h13v13.9h-13zM288 1207.7h13v14h-13zM222.9 1430.9h13v14h-13zM196.8 1444.8h13v14h-13zM261.9 1458.8h13v14h-13z"/><path fill="#465efb" d="M209.8 1165.8h13v14h-13zM222.9 1179.8h13v14h-13zM248.9 1207.7h13v14h-13zM196.8 1221.6h13v14h-13zM274.9 1235.6h13v14h-13zM340 1305.3h13v14h-13zM366.1 1319.3h13v14h-13zM196.8 1361.1h13v14h-13zM222.9 1375.1h13v14h-13zM261.9 1375.1h13v14h-13zM405.1 1375.1h13v14h-13zM314 1389h13v14h-13zM353.1 1389h13v14h-13zM340 1403h13v13.9h-13zM418.2 1403h13v13.9h-13zM301 1416.9h13v14h-13zM314 1416.9h13v14h-13zM327 1416.9h13v14h-13zM340 1416.9h13v14h-13zM353.1 1416.9h13v14h-13zM366.1 1416.9h13v14h-13zM327 1430.9h13v14h-13zM405.1 1430.9h13v14h-13zM418.2 1430.9h13v14h-13zM366.1 1444.8h13v14h-13zM379.1 1444.8h13v14h-13zM235.9 1486.7h13v14h-13zM196.8 1500.6h13v14h-13zM209.8 1500.6h13v14h-13z"/><path fill="#484cef" d="M222.9 1165.8h13v14h-13zM235.9 1165.8h13v14h-13zM183.8 1179.8h13v14h-13zM196.8 1179.8h13v14h-13zM235.9 1179.8h13v14h-13zM183.8 1193.8h13v13.9h-13zM235.9 1193.8h13v13.9h-13zM196.8 1207.7h13v14h-13zM157.8 1221.6h13v14h-13zM170.8 1221.6h13v14h-13zM261.9 1221.6h13v14h-13zM288 1221.6h13v14h-13zM288 1235.6h13v14h-13zM301 1249.5h13v14h-13zM314 1249.5h13v14h-13zM327 1263.5h13v13.9h-13zM183.8 1333.2h13v13.9h-13zM405.1 1333.2h13v13.9h-13zM183.8 1347.2h13v14h-13zM392.1 1347.2h13v14h-13zM405.1 1347.2h13v14h-13zM431.2 1375.1h13v14h-13zM196.8 1389h13v14h-13zM209.8 1403h13v13.9h-13zM248.9 1403h13v13.9h-13zM431.2 1403h13v13.9h-13zM248.9 1416.9h13v14h-13zM274.9 1416.9h13v14h-13zM444.2 1416.9h13v14h-13zM248.9 1430.9h13v14h-13zM288 1430.9h13v14h-13zM301 1430.9h13v14h-13zM314 1430.9h13v14h-13zM340 1430.9h13v14h-13zM444.2 1430.9h13v14h-13zM235.9 1444.8h13v14h-13zM353.1 1444.8h13v14h-13zM444.2 1444.8h13v14h-13zM157.8 1458.8h13v14h-13zM405.1 1458.8h13v14h-13zM457.2 1458.8h13v14h-13zM183.8 1472.8h13v13.9h-13zM209.8 1472.8h13v13.9h-13zM288 1472.8h13v13.9h-13zM379.1 1472.8h13v13.9h-13zM392.1 1472.8h13v13.9h-13zM405.1 1472.8h13v13.9h-13zM418.2 1472.8h13v13.9h-13zM431.2 1472.8h13v13.9h-13zM444.2 1472.8h13v13.9h-13zM183.8 1486.7h13v14h-13zM196.8 1486.7h13v14h-13zM170.8 1500.6h13v14h-13zM235.9 1500.6h13v14h-13zM248.9 1500.6h13v14h-13zM170.8 1514.6h13v4.8h-13zM183.8 1514.6h13v4.8h-13zM196.8 1514.6h13v4.8h-13zM235.9 1514.6h13v4.8h-13z"/><path fill="#4851f4" d="M209.8 1179.8h13v14h-13zM248.9 1179.8h13v14h-13zM209.8 1193.8h13v13.9h-13zM209.8 1207.7h13v14h-13zM170.8 1458.8h13v14h-13zM183.8 1500.6h13v14h-13z"/><path fill="#4755f6" d="M261.9 1179.8h13v14h-13zM222.9 1193.8h13v13.9h-13zM222.9 1207.7h13v14h-13zM235.9 1207.7h13v14h-13zM183.8 1221.6h13v14h-13zM157.8 1235.6h13v14h-13zM157.8 1263.5h13v13.9h-13zM157.8 1277.4h13v14h-13zM340 1277.4h13v14h-13zM170.8 1305.3h13v14h-13zM183.8 1319.3h13v14h-13zM379.1 1319.3h13v14h-13zM209.8 1347.2h13v14h-13zM405.1 1361.1h13v14h-13zM418.2 1361.1h13v14h-13zM196.8 1375.1h13v14h-13zM248.9 1375.1h13v14h-13zM418.2 1375.1h13v14h-13zM209.8 1389h13v14h-13zM222.9 1389h13v14h-13zM248.9 1389h13v14h-13zM418.2 1389h13v14h-13zM235.9 1403h13v13.9h-13zM301 1403h13v13.9h-13zM261.9 1416.9h13v14h-13zM288 1416.9h13v14h-13zM431.2 1416.9h13v14h-13zM274.9 1430.9h13v14h-13zM353.1 1430.9h13v14h-13zM366.1 1430.9h13v14h-13zM431.2 1430.9h13v14h-13zM248.9 1444.8h13v14h-13zM274.9 1444.8h13v14h-13zM340 1444.8h13v14h-13zM392.1 1444.8h13v14h-13zM405.1 1444.8h13v14h-13zM418.2 1444.8h13v14h-13zM431.2 1444.8h13v14h-13zM274.9 1458.8h13v14h-13zM379.1 1458.8h13v14h-13zM392.1 1458.8h13v14h-13zM418.2 1458.8h13v14h-13zM444.2 1458.8h13v14h-13zM170.8 1472.8h13v13.9h-13zM209.8 1486.7h13v14h-13zM222.9 1486.7h13v14h-13zM157.8 1500.6h13v14h-13z"/><path fill="#4367fd" d="M209.8 1221.6h13v14h-13zM248.9 1221.6h13v14h-13zM157.8 1249.5h13v14h-13zM314 1263.5h13v13.9h-13zM327 1291.4h13v14h-13zM340 1291.4h13v14h-13zM183.8 1305.3h13v14h-13zM327 1305.3h13v14h-13zM353.1 1319.3h13v14h-13zM353.1 1333.2h13v13.9h-13zM366.1 1333.2h13v13.9h-13zM379.1 1333.2h13v13.9h-13zM366.1 1347.2h13v14h-13zM379.1 1347.2h13v14h-13zM209.8 1361.1h13v14h-13zM222.9 1361.1h13v14h-13zM366.1 1361.1h13v14h-13zM209.8 1375.1h13v14h-13zM392.1 1375.1h13v14h-13zM340 1389h13v14h-13zM405.1 1389h13v14h-13zM261.9 1403h13v13.9h-13zM288 1403h13v13.9h-13zM314 1403h13v13.9h-13zM327 1403h13v13.9h-13zM353.1 1403h13v13.9h-13zM379.1 1403h13v13.9h-13zM405.1 1403h13v13.9h-13zM379.1 1416.9h13v14h-13zM392.1 1416.9h13v14h-13zM405.1 1416.9h13v14h-13zM418.2 1416.9h13v14h-13zM392.1 1430.9h13v14h-13zM222.9 1514.6h13v4.8h-13z"/><path fill="#2e83f9" d="M222.9 1221.6h13v14h-13zM170.8 1235.6h13v14h-13zM235.9 1235.6h13v14h-13zM209.8 1333.2h13v13.9h-13zM274.9 1333.2h13v13.9h-13zM301 1333.2h13v13.9h-13zM235.9 1361.1h13v14h-13zM314 1361.1h13v14h-13zM327 1361.1h13v14h-13zM274.9 1375.1h13v14h-13zM314 1375.1h13v14h-13z"/><path fill="#3d70ff" d="M235.9 1221.6h13v14h-13zM261.9 1235.6h13v14h-13zM288 1249.5h13v14h-13zM327 1277.4h13v14h-13zM170.8 1291.4h13v14h-13zM340 1319.3h13v14h-13zM340 1333.2h13v13.9h-13zM340 1347.2h13v14h-13zM353.1 1347.2h13v14h-13zM353.1 1361.1h13v14h-13zM379.1 1361.1h13v14h-13zM392.1 1361.1h13v14h-13zM340 1375.1h13v14h-13zM353.1 1375.1h13v14h-13zM379.1 1375.1h13v14h-13zM235.9 1389h13v14h-13zM274.9 1389h13v14h-13zM366.1 1389h13v14h-13zM379.1 1389h13v14h-13zM392.1 1389h13v14h-13zM274.9 1403h13v13.9h-13zM392.1 1403h13v13.9h-13zM379.1 1430.9h13v14h-13zM222.9 1500.6h13v14h-13z"/><path fill="#2d8cf3" d="M183.8 1235.6h13v14h-13zM301 1263.5h13v13.9h-13zM170.8 1277.4h13v14h-13zM183.8 1291.4h13v14h-13zM196.8 1319.3h13v14h-13zM209.8 1319.3h13v14h-13zM301 1319.3h13v14h-13zM314 1319.3h13v14h-13zM222.9 1333.2h13v13.9h-13zM235.9 1333.2h13v13.9h-13zM314 1333.2h13v13.9h-13zM222.9 1347.2h13v14h-13zM235.9 1347.2h13v14h-13zM248.9 1347.2h13v14h-13zM274.9 1347.2h13v14h-13zM314 1347.2h13v14h-13zM327 1347.2h13v14h-13zM274.9 1361.1h13v14h-13zM288 1361.1h13v14h-13zM301 1361.1h13v14h-13zM288 1375.1h13v14h-13zM301 1375.1h13v14h-13z"/><path fill="#13b0d7" d="M196.8 1235.6h13v14h-13zM209.8 1235.6h13v14h-13zM170.8 1249.5h13v14h-13zM301 1291.4h13v14h-13zM288 1305.3h13v14h-13zM235.9 1319.3h13v14h-13zM288 1319.3h13v14h-13zM288 1333.2h13v13.9h-13z"/><path fill="#2994ed" d="M222.9 1235.6h13v14h-13zM274.9 1249.5h13v14h-13zM196.8 1305.3h13v14h-13zM301 1305.3h13v14h-13zM261.9 1333.2h13v13.9h-13zM288 1347.2h13v14h-13zM301 1347.2h13v14h-13z"/><path fill="#347afd" d="M248.9 1235.6h13v14h-13zM327 1319.3h13v14h-13zM327 1333.2h13v13.9h-13zM261.9 1347.2h13v14h-13zM248.9 1361.1h13v14h-13zM261.9 1361.1h13v14h-13zM340 1361.1h13v14h-13zM235.9 1375.1h13v14h-13zM327 1375.1h13v14h-13zM366.1 1375.1h13v14h-13zM261.9 1389h13v14h-13zM288 1389h13v14h-13zM301 1389h13v14h-13zM327 1389h13v14h-13zM366.1 1403h13v13.9h-13z"/><path fill="#5ccc76" d="M183.8 1249.5h13v14h-13zM235.9 1249.5h13v14h-13zM209.8 1291.4h13v14h-13zM248.9 1305.3h13v14h-13z"/><path fill="#b4c533" d="M196.8 1249.5h13v14h-13zM222.9 1291.4h13v14h-13z"/><path fill="#fec13a" d="M209.8 1249.5h13v14h-13zM196.8 1263.5h13v13.9h-13zM235.9 1291.4h13v14h-13zM261.9 1291.4h13v14h-13z"/><path fill="#c8c129" d="M222.9 1249.5h13v14h-13zM274.9 1291.4h13v14h-13z"/><path fill="#24c2ae" d="M248.9 1249.5h13v14h-13zM274.9 1263.5h13v13.9h-13zM183.8 1277.4h13v14h-13zM235.9 1305.3h13v14h-13zM261.9 1319.3h13v14h-13z"/><path fill="#05b6ce" d="M261.9 1249.5h13v14h-13zM170.8 1263.5h13v13.9h-13zM183.8 1263.5h13v13.9h-13zM301 1277.4h13v14h-13zM196.8 1291.4h13v14h-13zM274.9 1305.3h13v14h-13zM274.9 1319.3h13v14h-13z"/><path fill="#f6f21e" d="M209.8 1263.5h13v13.9h-13zM222.9 1263.5h13v13.9h-13zM248.9 1263.5h13v13.9h-13zM235.9 1277.4h13v14h-13zM248.9 1277.4h13v14h-13z"/><path fill="#f6de29" d="M235.9 1263.5h13v13.9h-13zM222.9 1277.4h13v14h-13zM248.9 1291.4h13v14h-13z"/><path fill="#f8ba3d" d="M261.9 1263.5h13v13.9h-13z"/><path fill="#12beb9" d="M288 1263.5h13v13.9h-13zM222.9 1305.3h13v14h-13zM261.9 1305.3h13v14h-13z"/><path fill="#dabd28" d="M196.8 1277.4h13v14h-13z"/><path fill="#fad42e" d="M209.8 1277.4h13v14h-13zM261.9 1277.4h13v14h-13z"/><path fill="#f5e825" d="M274.9 1277.4h13v14h-13z"/><path fill="#71cd64" d="M288 1277.4h13v14h-13zM288 1291.4h13v14h-13z"/><path fill="#259ce7" d="M314 1277.4h13v14h-13zM209.8 1305.3h13v14h-13zM314 1305.3h13v14h-13zM222.9 1319.3h13v14h-13zM248.9 1319.3h13v14h-13zM248.9 1333.2h13v13.9h-13z"/><path fill="#1caadf" d="M314 1291.4h13v14h-13z"/></g>
<rect x="117.6" y="1095.1" width="506.59999999999997" height="424.30000000000007" fill="none" stroke="#231f20" stroke-width="2.2"/>
<polyline points="117.0,1236.1 122.6,1236.2 128.2,1236.4 133.8,1236.7 139.5,1237.1 145.1,1237.7 150.7,1238.4 156.3,1239.1 161.9,1240.1 167.5,1241.1 173.1,1242.3 178.7,1243.6 184.4,1245.0 190.0,1246.5 195.6,1248.2 201.2,1249.9 206.8,1251.8 212.4,1253.8 218.0,1255.9 223.6,1258.2 229.3,1260.5 234.9,1263.0 240.5,1265.6 246.1,1268.3 251.7,1271.1 257.3,1274.0 262.9,1277.1 268.6,1280.2 274.2,1283.5 279.8,1286.9 285.4,1290.3 291.0,1293.9 296.6,1297.6 302.2,1301.4 307.8,1305.3 313.5,1309.3 319.1,1313.4 324.7,1317.6 330.3,1321.9 335.9,1326.3 341.5,1330.8 347.1,1335.4 352.7,1340.1 358.4,1344.8 364.0,1349.7 369.6,1354.7 375.2,1359.7 380.8,1364.8 386.4,1370.0 392.0,1375.3 397.7,1380.7 403.3,1386.1 408.9,1391.7 414.5,1397.3 420.1,1402.9 425.7,1408.7 431.3,1414.5 436.9,1420.4 442.6,1426.4 448.2,1432.4 453.8,1438.5 459.4,1444.6 465.0,1450.8 470.6,1457.1 476.2,1463.4 481.8,1469.8 487.5,1476.2 493.1,1482.7 498.7,1489.2 504.3,1495.8 509.9,1502.4 515.5,1509.1 521.1,1515.8" fill="none" stroke="#3ef5f5" stroke-width="4"/>
<text transform="translate(400.8,1302.8) rotate(45)" font-family="Liberation Serif" font-size="37" fill="#3ef5f5" text-anchor="middle" dominant-baseline="central">1</text>
<text transform="translate(368.1,1328) rotate(45)" font-family="Liberation Serif" font-size="37" fill="#3ef5f5" text-anchor="middle" dominant-baseline="central">3</text>
<path d="M376.5,1306.5L395.7,1326.1" stroke="#3ef5f5" stroke-width="2.2"/>
<text transform="translate(391.9,1344.1) rotate(40)" font-family="Liberation Serif" font-size="37" fill="#3ef5f5">cos</text>
<text transform="translate(451.4,1383.2) rotate(40)" font-family="Liberation Serif" font-size="37" fill="#3ef5f5" font-style="italic" text-anchor="middle" dominant-baseline="central">θ</text>
<text x="107.8" y="1106.2" font-family="Liberation Serif" font-size="31.8" fill="#3e3a39" text-anchor="end">0.45</text>
<text x="107.8" y="1166.5" font-family="Liberation Serif" font-size="31.8" fill="#3e3a39" text-anchor="end">0.4</text>
<text x="107.8" y="1226.7" font-family="Liberation Serif" font-size="31.8" fill="#3e3a39" text-anchor="end">0.35</text>
<text x="107.8" y="1287.0" font-family="Liberation Serif" font-size="31.8" fill="#3e3a39" text-anchor="end">0.3</text>
<text x="107.8" y="1347.3" font-family="Liberation Serif" font-size="31.8" fill="#3e3a39" text-anchor="end">0.25</text>
<text x="107.8" y="1407.6" font-family="Liberation Serif" font-size="31.8" fill="#3e3a39" text-anchor="end">0.2</text>
<text x="107.8" y="1467.8" font-family="Liberation Serif" font-size="31.8" fill="#3e3a39" text-anchor="end">0.15</text>
<text x="107.8" y="1528.1" font-family="Liberation Serif" font-size="31.8" fill="#3e3a39" text-anchor="end">0.1</text>
<text x="118.2" y="1552.5" font-family="Liberation Serif" font-size="28.5" fill="#3e3a39" text-anchor="middle">0</text>
<text x="225.1" y="1552.5" font-family="Liberation Serif" font-size="28.5" fill="#3e3a39" text-anchor="middle">20</text>
<text x="337.8" y="1552.5" font-family="Liberation Serif" font-size="28.5" fill="#3e3a39" text-anchor="middle">40</text>
<text x="451.3" y="1552.5" font-family="Liberation Serif" font-size="28.5" fill="#3e3a39" text-anchor="middle">60</text>
<text x="580.4" y="1552.5" font-family="Liberation Serif" font-size="28.5" fill="#3e3a39" text-anchor="middle">80</text>
<text x="338.7" y="1597.7" font-family="Liberation Serif" font-size="32.5" fill="#231815" text-anchor="middle" textLength="282" lengthAdjust="spacingAndGlyphs">Normal angles <tspan font-style="italic">θ</tspan> (°)</text>
<text transform="translate(27.9,1344) rotate(-90)" font-family="Liberation Serif" font-size="37" fill="#231815" textLength="72" lengthAdjust="spacingAndGlyphs"><tspan font-style="italic">F</tspan> /<tspan font-style="italic">F</tspan><tspan font-size="25" dy="12">ce</tspan></text>
<rect x="663.9" y="1131.9" width="21.5" height="341.7" fill="url(#parg)" stroke="#231f20" stroke-width="3"/>
<path d="M685.4,1217.1h-4.5M685.4,1302.9h-4.5M685.4,1388.7h-4.5" stroke="#231f20" stroke-width="2"/>
<text x="692.3" y="1141.3" font-family="Liberation Serif" font-size="30.5" fill="#3e3a39">200</text>
<text x="692.3" y="1227.1" font-family="Liberation Serif" font-size="30.5" fill="#3e3a39">150</text>
<text x="692.3" y="1312.9" font-family="Liberation Serif" font-size="30.5" fill="#3e3a39">100</text>
<text x="692.3" y="1398.7" font-family="Liberation Serif" font-size="30.5" fill="#3e3a39">50</text>
<text x="692.3" y="1484.5" font-family="Liberation Serif" font-size="30.5" fill="#3e3a39">0</text>
<text transform="translate(780.8,1318.1) rotate(-90)" font-family="Liberation Serif" font-size="35" fill="#231815" text-anchor="middle" textLength="157" lengthAdjust="spacingAndGlyphs"># of samples</text>
<text x="0" y="1114" font-family="Liberation Sans" font-weight="bold" font-size="35" fill="#000">c</text>
</svg>
</body></html>
